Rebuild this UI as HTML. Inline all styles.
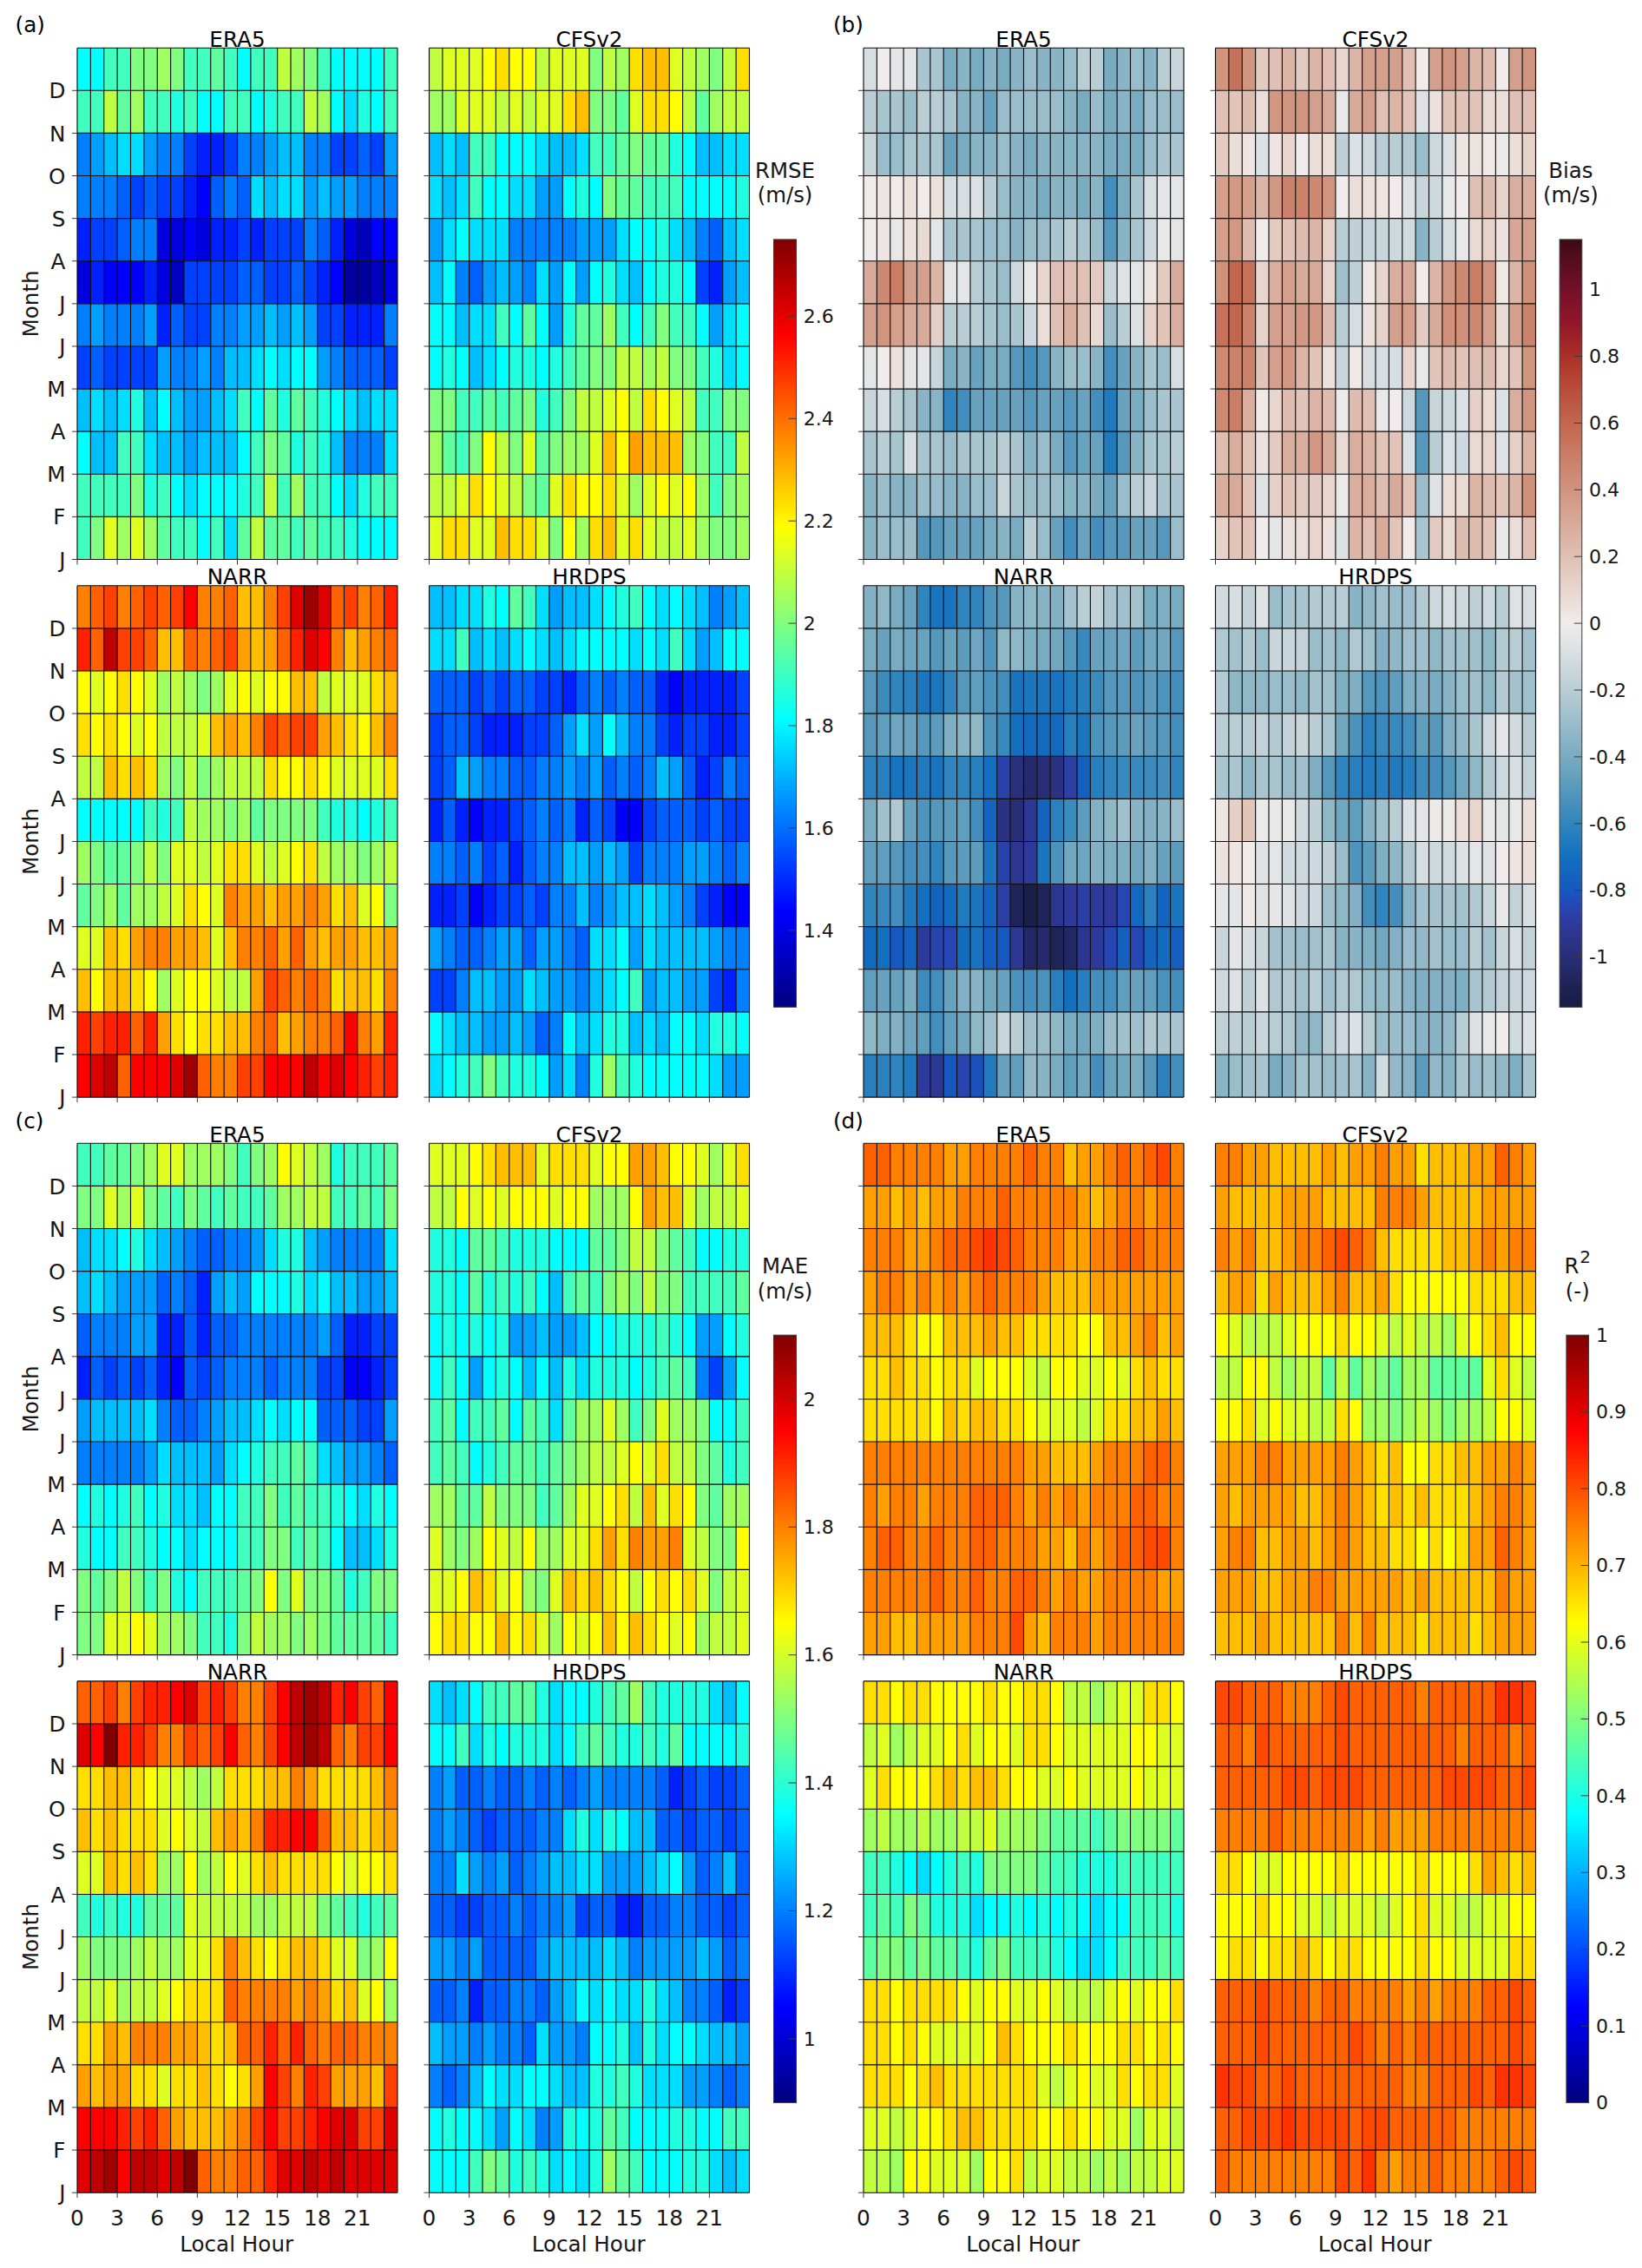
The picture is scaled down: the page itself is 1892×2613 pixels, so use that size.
<!DOCTYPE html>
<html lang="en"><head><meta charset="utf-8"><title>Reanalysis wind speed error heatmaps</title>
<style>html,body{margin:0;padding:0;background:#fff}svg{display:block}text{font-family:"DejaVu Sans","Liberation Sans",sans-serif;fill:#161616}.t{font-size:24.7px;fill:#000;text-anchor:middle}.p{font-size:24.6px;fill:#000}.m{font-size:24.6px;text-anchor:end}.x{font-size:24.8px;text-anchor:middle}.l{font-size:24.6px;text-anchor:middle}.c{font-size:22px}.cl{font-size:24.4px;text-anchor:middle}.g{stroke:#0a0a0a;stroke-width:1.12;fill:none}.k{stroke:#3a3a3a;stroke-width:1;fill:none}</style></head><body>
<svg width="1892" height="2613" viewBox="0 0 1892 2613">
<rect width="1892" height="2613" fill="#fff"/>
<defs><linearGradient id="gj" x1="0" y1="1" x2="0" y2="0"><stop offset="0" stop-color="#000080"/><stop offset="0.0312" stop-color="#00009f"/><stop offset="0.0625" stop-color="#0000bf"/><stop offset="0.0938" stop-color="#0000df"/><stop offset="0.125" stop-color="#00f"/><stop offset="0.1562" stop-color="#0020ff"/><stop offset="0.1875" stop-color="#0040ff"/><stop offset="0.2188" stop-color="#0060ff"/><stop offset="0.25" stop-color="#0080ff"/><stop offset="0.2812" stop-color="#009fff"/><stop offset="0.3125" stop-color="#00bfff"/><stop offset="0.3438" stop-color="#00dfff"/><stop offset="0.375" stop-color="#0ff"/><stop offset="0.4062" stop-color="#20ffdf"/><stop offset="0.4375" stop-color="#40ffbf"/><stop offset="0.4688" stop-color="#60ff9f"/><stop offset="0.5" stop-color="#80ff80"/><stop offset="0.5312" stop-color="#9fff60"/><stop offset="0.5625" stop-color="#bfff40"/><stop offset="0.5938" stop-color="#dfff20"/><stop offset="0.625" stop-color="#ff0"/><stop offset="0.6562" stop-color="#ffdf00"/><stop offset="0.6875" stop-color="#ffbf00"/><stop offset="0.7188" stop-color="#ff9f00"/><stop offset="0.75" stop-color="#ff8000"/><stop offset="0.7812" stop-color="#ff6000"/><stop offset="0.8125" stop-color="#ff4000"/><stop offset="0.8438" stop-color="#ff2000"/><stop offset="0.875" stop-color="#f00"/><stop offset="0.9062" stop-color="#df0000"/><stop offset="0.9375" stop-color="#bf0000"/><stop offset="0.9688" stop-color="#9f0000"/><stop offset="1" stop-color="#800000"/></linearGradient><linearGradient id="gb" x1="0" y1="1" x2="0" y2="0"><stop offset="0" stop-color="#181c43"/><stop offset="0.0217" stop-color="#1c2150"/><stop offset="0.0435" stop-color="#222863"/><stop offset="0.0652" stop-color="#282e76"/><stop offset="0.087" stop-color="#2b3489"/><stop offset="0.1087" stop-color="#2e3a9b"/><stop offset="0.1304" stop-color="#2646b4"/><stop offset="0.1522" stop-color="#1658c0"/><stop offset="0.1739" stop-color="#1464bf"/><stop offset="0.1957" stop-color="#1270be"/><stop offset="0.2174" stop-color="#217bbe"/><stop offset="0.2391" stop-color="#3085be"/><stop offset="0.2609" stop-color="#438ebd"/><stop offset="0.2826" stop-color="#5698bc"/><stop offset="0.3043" stop-color="#68a2be"/><stop offset="0.3261" stop-color="#79abc1"/><stop offset="0.3478" stop-color="#89b4c6"/><stop offset="0.3696" stop-color="#99bdca"/><stop offset="0.3913" stop-color="#a9c5cf"/><stop offset="0.413" stop-color="#b9cdd4"/><stop offset="0.4348" stop-color="#c8d6db"/><stop offset="0.4565" stop-color="#d6dee2"/><stop offset="0.4783" stop-color="#e4e5e6"/><stop offset="0.5" stop-color="#f1eceb"/><stop offset="0.5217" stop-color="#ece1dc"/><stop offset="0.5435" stop-color="#e8d6ce"/><stop offset="0.5652" stop-color="#e4cbc1"/><stop offset="0.587" stop-color="#e0c0b4"/><stop offset="0.6087" stop-color="#dcb5a6"/><stop offset="0.6304" stop-color="#d8aa99"/><stop offset="0.6522" stop-color="#d49f8c"/><stop offset="0.6739" stop-color="#d1947f"/><stop offset="0.6957" stop-color="#ce8973"/><stop offset="0.7174" stop-color="#ca7e66"/><stop offset="0.7391" stop-color="#c6735a"/><stop offset="0.7609" stop-color="#c2674e"/><stop offset="0.7826" stop-color="#bd5a43"/><stop offset="0.8043" stop-color="#b94e39"/><stop offset="0.8261" stop-color="#b23f30"/><stop offset="0.8478" stop-color="#aa3028"/><stop offset="0.8696" stop-color="#9e2329"/><stop offset="0.8913" stop-color="#92162a"/><stop offset="0.913" stop-color="#83132a"/><stop offset="0.9348" stop-color="#740f2a"/><stop offset="0.9565" stop-color="#620e24"/><stop offset="0.9783" stop-color="#500d1e"/><stop offset="1" stop-color="#3c0912"/></linearGradient></defs>
<g transform="translate(89 55.2)">
<path d="M0 0h30.75v49.11h-30.75z" fill="#0ff"/><path d="M30.75 0h30.75v49.11h-30.75z" fill="#40ffbf"/><path d="M61.5 0h30.75v49.11h-30.75z" fill="#80ff80"/><path d="M92.25 0h15.38v49.11h-15.38z" fill="#9fff60"/><path d="M107.62 0h15.38v49.11h-15.38z" fill="#80ff80"/><path d="M123 0h30.75v49.11h-30.75z" fill="#40ffbf"/><path d="M153.75 0h15.38v49.11h-15.38z" fill="#60ff9f"/><path d="M169.12 0h15.38v49.11h-15.38z" fill="#40ffbf"/><path d="M184.5 0h15.38v49.11h-15.38z" fill="#0ff"/><path d="M199.88 0h30.75v49.11h-30.75z" fill="#40ffbf"/><path d="M230.62 0h15.38v49.11h-15.38z" fill="#bfff40"/><path d="M246 0h15.38v49.11h-15.38z" fill="#9fff60"/><path d="M261.38 0h15.38v49.11h-15.38z" fill="#80ff80"/><path d="M276.75 0h15.38v49.11h-15.38z" fill="#40ffbf"/><path d="M292.12 0h61.5v49.11h-61.5z" fill="#0ff"/><path d="M353.62 0h15.38v49.11h-15.38z" fill="#40ffbf"/><path d="M0 49.11h30.75v49.11h-30.75z" fill="#40ffbf"/><path d="M30.75 49.11h15.38v49.11h-15.38z" fill="#bfff40"/><path d="M46.12 49.11h15.38v49.11h-15.38z" fill="#60ff9f"/><path d="M61.5 49.11h15.38v49.11h-15.38z" fill="#9fff60"/><path d="M76.88 49.11h30.75v49.11h-30.75z" fill="#40ffbf"/><path d="M107.62 49.11h15.38v49.11h-15.38z" fill="#20ffdf"/><path d="M123 49.11h15.38v49.11h-15.38z" fill="#40ffbf"/><path d="M138.38 49.11h30.75v49.11h-30.75z" fill="#0ff"/><path d="M169.12 49.11h30.75v49.11h-30.75z" fill="#40ffbf"/><path d="M199.88 49.11h15.38v49.11h-15.38z" fill="#0ff"/><path d="M215.25 49.11h15.38v49.11h-15.38z" fill="#20ffdf"/><path d="M230.62 49.11h30.75v49.11h-30.75z" fill="#40ffbf"/><path d="M261.38 49.11h15.38v49.11h-15.38z" fill="#bfff40"/><path d="M276.75 49.11h15.38v49.11h-15.38z" fill="#9fff60"/><path d="M292.12 49.11h15.38v49.11h-15.38z" fill="#0ff"/><path d="M307.5 49.11h15.38v49.11h-15.38z" fill="#00dfff"/><path d="M322.88 49.11h15.38v49.11h-15.38z" fill="#20ffdf"/><path d="M338.25 49.11h15.38v49.11h-15.38z" fill="#0ff"/><path d="M353.62 49.11h15.38v49.11h-15.38z" fill="#40ffbf"/><path d="M0 98.22h15.38v49.11h-15.38z" fill="#0080ff"/><path d="M15.38 98.22h15.38v49.11h-15.38z" fill="#009fff"/><path d="M30.75 98.22h15.38v49.11h-15.38z" fill="#00bfff"/><path d="M46.12 98.22h30.75v49.11h-30.75z" fill="#00dfff"/><path d="M76.88 98.22h15.38v49.11h-15.38z" fill="#009fff"/><path d="M92.25 98.22h30.75v49.11h-30.75z" fill="#0080ff"/><path d="M123 98.22h15.38v49.11h-15.38z" fill="#0040ff"/><path d="M138.38 98.22h30.75v49.11h-30.75z" fill="#0020ff"/><path d="M169.12 98.22h15.38v49.11h-15.38z" fill="#0040ff"/><path d="M184.5 98.22h30.75v49.11h-30.75z" fill="#0080ff"/><path d="M215.25 98.22h15.38v49.11h-15.38z" fill="#009fff"/><path d="M230.62 98.22h30.75v49.11h-30.75z" fill="#00bfff"/><path d="M261.38 98.22h30.75v49.11h-30.75z" fill="#0080ff"/><path d="M292.12 98.22h30.75v49.11h-30.75z" fill="#0040ff"/><path d="M322.88 98.22h15.38v49.11h-15.38z" fill="#0060ff"/><path d="M338.25 98.22h15.38v49.11h-15.38z" fill="#0040ff"/><path d="M353.62 98.22h15.38v49.11h-15.38z" fill="#009fff"/><path d="M0 147.32h46.12v49.11h-46.12z" fill="#0080ff"/><path d="M46.12 147.32h15.38v49.11h-15.38z" fill="#0060ff"/><path d="M61.5 147.32h15.38v49.11h-15.38z" fill="#0040ff"/><path d="M76.88 147.32h15.38v49.11h-15.38z" fill="#0060ff"/><path d="M92.25 147.32h30.75v49.11h-30.75z" fill="#0040ff"/><path d="M123 147.32h15.38v49.11h-15.38z" fill="#0020ff"/><path d="M138.38 147.32h15.38v49.11h-15.38z" fill="#00f"/><path d="M153.75 147.32h15.38v49.11h-15.38z" fill="#0060ff"/><path d="M169.12 147.32h15.38v49.11h-15.38z" fill="#0080ff"/><path d="M184.5 147.32h15.38v49.11h-15.38z" fill="#0060ff"/><path d="M199.88 147.32h15.38v49.11h-15.38z" fill="#00dfff"/><path d="M215.25 147.32h15.38v49.11h-15.38z" fill="#00bfff"/><path d="M230.62 147.32h30.75v49.11h-30.75z" fill="#00dfff"/><path d="M261.38 147.32h15.38v49.11h-15.38z" fill="#009fff"/><path d="M276.75 147.32h15.38v49.11h-15.38z" fill="#00bfff"/><path d="M292.12 147.32h30.75v49.11h-30.75z" fill="#009fff"/><path d="M322.88 147.32h46.12v49.11h-46.12z" fill="#0080ff"/><path d="M0 196.43h15.38v49.11h-15.38z" fill="#0020ff"/><path d="M15.38 196.43h30.75v49.11h-30.75z" fill="#0040ff"/><path d="M46.12 196.43h15.38v49.11h-15.38z" fill="#0060ff"/><path d="M61.5 196.43h30.75v49.11h-30.75z" fill="#0080ff"/><path d="M92.25 196.43h30.75v49.11h-30.75z" fill="#0000df"/><path d="M123 196.43h15.38v49.11h-15.38z" fill="#00f"/><path d="M138.38 196.43h15.38v49.11h-15.38z" fill="#0000df"/><path d="M153.75 196.43h30.75v49.11h-30.75z" fill="#0020ff"/><path d="M184.5 196.43h15.38v49.11h-15.38z" fill="#0040ff"/><path d="M199.88 196.43h15.38v49.11h-15.38z" fill="#0020ff"/><path d="M215.25 196.43h46.12v49.11h-46.12z" fill="#0040ff"/><path d="M261.38 196.43h15.38v49.11h-15.38z" fill="#0080ff"/><path d="M276.75 196.43h15.38v49.11h-15.38z" fill="#0060ff"/><path d="M292.12 196.43h15.38v49.11h-15.38z" fill="#0020ff"/><path d="M307.5 196.43h15.38v49.11h-15.38z" fill="#0000df"/><path d="M322.88 196.43h15.38v49.11h-15.38z" fill="#0000bf"/><path d="M338.25 196.43h30.75v49.11h-30.75z" fill="#00f"/><path d="M0 245.54h15.38v49.11h-15.38z" fill="#0000df"/><path d="M15.38 245.54h15.38v49.11h-15.38z" fill="#0020ff"/><path d="M30.75 245.54h46.12v49.11h-46.12z" fill="#00f"/><path d="M76.88 245.54h15.38v49.11h-15.38z" fill="#0020ff"/><path d="M92.25 245.54h15.38v49.11h-15.38z" fill="#0000df"/><path d="M107.62 245.54h15.38v49.11h-15.38z" fill="#0000bf"/><path d="M123 245.54h61.5v49.11h-61.5z" fill="#0040ff"/><path d="M184.5 245.54h30.75v49.11h-30.75z" fill="#0060ff"/><path d="M215.25 245.54h30.75v49.11h-30.75z" fill="#0040ff"/><path d="M246 245.54h15.38v49.11h-15.38z" fill="#0060ff"/><path d="M261.38 245.54h15.38v49.11h-15.38z" fill="#0040ff"/><path d="M276.75 245.54h15.38v49.11h-15.38z" fill="#0020ff"/><path d="M292.12 245.54h15.38v49.11h-15.38z" fill="#00f"/><path d="M307.5 245.54h30.75v49.11h-30.75z" fill="#00009f"/><path d="M338.25 245.54h15.38v49.11h-15.38z" fill="#0000bf"/><path d="M353.62 245.54h15.38v49.11h-15.38z" fill="#0000df"/><path d="M0 294.65h15.38v49.11h-15.38z" fill="#0080ff"/><path d="M15.38 294.65h15.38v49.11h-15.38z" fill="#009fff"/><path d="M30.75 294.65h46.12v49.11h-46.12z" fill="#0080ff"/><path d="M76.88 294.65h15.38v49.11h-15.38z" fill="#009fff"/><path d="M92.25 294.65h15.38v49.11h-15.38z" fill="#0020ff"/><path d="M107.62 294.65h15.38v49.11h-15.38z" fill="#0060ff"/><path d="M123 294.65h30.75v49.11h-30.75z" fill="#0040ff"/><path d="M153.75 294.65h30.75v49.11h-30.75z" fill="#0080ff"/><path d="M184.5 294.65h30.75v49.11h-30.75z" fill="#009fff"/><path d="M215.25 294.65h15.38v49.11h-15.38z" fill="#00bfff"/><path d="M230.62 294.65h15.38v49.11h-15.38z" fill="#009fff"/><path d="M246 294.65h15.38v49.11h-15.38z" fill="#00bfff"/><path d="M261.38 294.65h15.38v49.11h-15.38z" fill="#009fff"/><path d="M276.75 294.65h30.75v49.11h-30.75z" fill="#0040ff"/><path d="M307.5 294.65h46.12v49.11h-46.12z" fill="#0020ff"/><path d="M353.62 294.65h15.38v49.11h-15.38z" fill="#0080ff"/><path d="M0 343.76h15.38v49.11h-15.38z" fill="#0040ff"/><path d="M15.38 343.76h15.38v49.11h-15.38z" fill="#0060ff"/><path d="M30.75 343.76h61.5v49.11h-61.5z" fill="#0040ff"/><path d="M92.25 343.76h15.38v49.11h-15.38z" fill="#009fff"/><path d="M107.62 343.76h30.75v49.11h-30.75z" fill="#0080ff"/><path d="M138.38 343.76h15.38v49.11h-15.38z" fill="#009fff"/><path d="M153.75 343.76h15.38v49.11h-15.38z" fill="#0080ff"/><path d="M169.12 343.76h30.75v49.11h-30.75z" fill="#00bfff"/><path d="M199.88 343.76h15.38v49.11h-15.38z" fill="#00dfff"/><path d="M215.25 343.76h15.38v49.11h-15.38z" fill="#0ff"/><path d="M230.62 343.76h15.38v49.11h-15.38z" fill="#00dfff"/><path d="M246 343.76h30.75v49.11h-30.75z" fill="#0ff"/><path d="M276.75 343.76h15.38v49.11h-15.38z" fill="#009fff"/><path d="M292.12 343.76h15.38v49.11h-15.38z" fill="#0080ff"/><path d="M307.5 343.76h46.12v49.11h-46.12z" fill="#0060ff"/><path d="M353.62 343.76h15.38v49.11h-15.38z" fill="#0040ff"/><path d="M0 392.87h15.38v49.11h-15.38z" fill="#00bfff"/><path d="M15.38 392.87h15.38v49.11h-15.38z" fill="#00dfff"/><path d="M30.75 392.87h15.38v49.11h-15.38z" fill="#00bfff"/><path d="M46.12 392.87h15.38v49.11h-15.38z" fill="#00dfff"/><path d="M61.5 392.87h15.38v49.11h-15.38z" fill="#20ffdf"/><path d="M76.88 392.87h15.38v49.11h-15.38z" fill="#00bfff"/><path d="M92.25 392.87h15.38v49.11h-15.38z" fill="#0ff"/><path d="M107.62 392.87h15.38v49.11h-15.38z" fill="#00bfff"/><path d="M123 392.87h30.75v49.11h-30.75z" fill="#009fff"/><path d="M153.75 392.87h15.38v49.11h-15.38z" fill="#00bfff"/><path d="M169.12 392.87h15.38v49.11h-15.38z" fill="#00dfff"/><path d="M184.5 392.87h15.38v49.11h-15.38z" fill="#40ffbf"/><path d="M199.88 392.87h15.38v49.11h-15.38z" fill="#0ff"/><path d="M215.25 392.87h15.38v49.11h-15.38z" fill="#60ff9f"/><path d="M230.62 392.87h15.38v49.11h-15.38z" fill="#20ffdf"/><path d="M246 392.87h15.38v49.11h-15.38z" fill="#60ff9f"/><path d="M261.38 392.87h15.38v49.11h-15.38z" fill="#40ffbf"/><path d="M276.75 392.87h15.38v49.11h-15.38z" fill="#20ffdf"/><path d="M292.12 392.87h15.38v49.11h-15.38z" fill="#0ff"/><path d="M307.5 392.87h15.38v49.11h-15.38z" fill="#00dfff"/><path d="M322.88 392.87h15.38v49.11h-15.38z" fill="#00bfff"/><path d="M338.25 392.87h30.75v49.11h-30.75z" fill="#00dfff"/><path d="M0 441.97h15.38v49.11h-15.38z" fill="#0ff"/><path d="M15.38 441.97h30.75v49.11h-30.75z" fill="#00bfff"/><path d="M46.12 441.97h30.75v49.11h-30.75z" fill="#40ffbf"/><path d="M76.88 441.97h15.38v49.11h-15.38z" fill="#00dfff"/><path d="M92.25 441.97h30.75v49.11h-30.75z" fill="#00bfff"/><path d="M123 441.97h15.38v49.11h-15.38z" fill="#009fff"/><path d="M138.38 441.97h46.12v49.11h-46.12z" fill="#00bfff"/><path d="M184.5 441.97h15.38v49.11h-15.38z" fill="#0ff"/><path d="M199.88 441.97h15.38v49.11h-15.38z" fill="#40ffbf"/><path d="M215.25 441.97h15.38v49.11h-15.38z" fill="#80ff80"/><path d="M230.62 441.97h15.38v49.11h-15.38z" fill="#60ff9f"/><path d="M246 441.97h15.38v49.11h-15.38z" fill="#20ffdf"/><path d="M261.38 441.97h15.38v49.11h-15.38z" fill="#40ffbf"/><path d="M276.75 441.97h15.38v49.11h-15.38z" fill="#20ffdf"/><path d="M292.12 441.97h15.38v49.11h-15.38z" fill="#00bfff"/><path d="M307.5 441.97h46.12v49.11h-46.12z" fill="#0080ff"/><path d="M353.62 441.97h15.38v49.11h-15.38z" fill="#00dfff"/><path d="M0 491.08h61.5v49.11h-61.5z" fill="#40ffbf"/><path d="M61.5 491.08h15.38v49.11h-15.38z" fill="#80ff80"/><path d="M76.88 491.08h15.38v49.11h-15.38z" fill="#20ffdf"/><path d="M92.25 491.08h15.38v49.11h-15.38z" fill="#40ffbf"/><path d="M107.62 491.08h15.38v49.11h-15.38z" fill="#0ff"/><path d="M123 491.08h15.38v49.11h-15.38z" fill="#00dfff"/><path d="M138.38 491.08h46.12v49.11h-46.12z" fill="#0ff"/><path d="M184.5 491.08h15.38v49.11h-15.38z" fill="#20ffdf"/><path d="M199.88 491.08h15.38v49.11h-15.38z" fill="#40ffbf"/><path d="M215.25 491.08h15.38v49.11h-15.38z" fill="#bfff40"/><path d="M230.62 491.08h15.38v49.11h-15.38z" fill="#40ffbf"/><path d="M246 491.08h15.38v49.11h-15.38z" fill="#9fff60"/><path d="M261.38 491.08h30.75v49.11h-30.75z" fill="#40ffbf"/><path d="M292.12 491.08h15.38v49.11h-15.38z" fill="#0ff"/><path d="M307.5 491.08h15.38v49.11h-15.38z" fill="#00dfff"/><path d="M322.88 491.08h15.38v49.11h-15.38z" fill="#20ffdf"/><path d="M338.25 491.08h30.75v49.11h-30.75z" fill="#40ffbf"/><path d="M0 540.19h15.38v49.11h-15.38z" fill="#40ffbf"/><path d="M15.38 540.19h15.38v49.11h-15.38z" fill="#80ff80"/><path d="M30.75 540.19h15.38v49.11h-15.38z" fill="#dfff20"/><path d="M46.12 540.19h15.38v49.11h-15.38z" fill="#9fff60"/><path d="M61.5 540.19h15.38v49.11h-15.38z" fill="#dfff20"/><path d="M76.88 540.19h15.38v49.11h-15.38z" fill="#9fff60"/><path d="M92.25 540.19h15.38v49.11h-15.38z" fill="#60ff9f"/><path d="M107.62 540.19h30.75v49.11h-30.75z" fill="#40ffbf"/><path d="M138.38 540.19h15.38v49.11h-15.38z" fill="#0ff"/><path d="M153.75 540.19h15.38v49.11h-15.38z" fill="#40ffbf"/><path d="M169.12 540.19h15.38v49.11h-15.38z" fill="#00dfff"/><path d="M184.5 540.19h15.38v49.11h-15.38z" fill="#60ff9f"/><path d="M199.88 540.19h15.38v49.11h-15.38z" fill="#bfff40"/><path d="M215.25 540.19h30.75v49.11h-30.75z" fill="#60ff9f"/><path d="M246 540.19h15.38v49.11h-15.38z" fill="#40ffbf"/><path d="M261.38 540.19h15.38v49.11h-15.38z" fill="#60ff9f"/><path d="M276.75 540.19h30.75v49.11h-30.75z" fill="#40ffbf"/><path d="M307.5 540.19h15.38v49.11h-15.38z" fill="#20ffdf"/><path d="M322.88 540.19h46.12v49.11h-46.12z" fill="#0ff"/>
<path class="g" d="M0 0v589.3M15.38 0v589.3M30.75 0v589.3M46.12 0v589.3M61.5 0v589.3M76.88 0v589.3M92.25 0v589.3M107.62 0v589.3M123 0v589.3M138.38 0v589.3M153.75 0v589.3M169.12 0v589.3M184.5 0v589.3M199.88 0v589.3M215.25 0v589.3M230.62 0v589.3M246 0v589.3M261.38 0v589.3M276.75 0v589.3M292.12 0v589.3M307.5 0v589.3M322.88 0v589.3M338.25 0v589.3M353.62 0v589.3M369 0v589.3M0 0h369M0 49.11h369M0 98.22h369M0 147.32h369M0 196.43h369M0 245.54h369M0 294.65h369M0 343.76h369M0 392.87h369M0 441.97h369M0 491.08h369M0 540.19h369M0 589.3h369"/>
<path class="k" d="M-6 49.11h6M-6 98.22h6M-6 147.32h6M-6 196.43h6M-6 245.54h6M-6 294.65h6M-6 343.76h6M-6 392.87h6M-6 441.97h6M-6 491.08h6M-6 540.19h6M-6 589.3h6M0 589.3v6M46.12 589.3v6M92.25 589.3v6M138.38 589.3v6M184.5 589.3v6M230.62 589.3v6M276.75 589.3v6M322.88 589.3v6"/>
</g>
<text class="t" x="273.5" y="53.6">ERA5</text>
<text class="m" x="75.4" y="113.41">D</text>
<text class="m" x="75.4" y="162.52">N</text>
<text class="m" x="75.4" y="211.62">O</text>
<text class="m" x="75.4" y="260.73">S</text>
<text class="m" x="75.4" y="309.84">A</text>
<text class="m" x="75.4" y="358.95">J</text>
<text class="m" x="75.4" y="408.06">J</text>
<text class="m" x="75.4" y="457.17">M</text>
<text class="m" x="75.4" y="506.27">A</text>
<text class="m" x="75.4" y="555.38">M</text>
<text class="m" x="75.4" y="604.49">F</text>
<text class="m" x="75.4" y="653.6">J</text>
<text class="l" transform="translate(44.4 349.85) rotate(-90)">Month</text>
<g transform="translate(494.5 55.2)">
<path d="M0 0h15.38v49.11h-15.38z" fill="#bfff40"/><path d="M15.38 0h46.12v49.11h-46.12z" fill="#dfff20"/><path d="M61.5 0h15.38v49.11h-15.38z" fill="#ff0"/><path d="M76.88 0h15.38v49.11h-15.38z" fill="#ffdf00"/><path d="M92.25 0h30.75v49.11h-30.75z" fill="#ff0"/><path d="M123 0h15.38v49.11h-15.38z" fill="#bfff40"/><path d="M138.38 0h46.12v49.11h-46.12z" fill="#dfff20"/><path d="M184.5 0h15.38v49.11h-15.38z" fill="#80ff80"/><path d="M199.88 0h15.38v49.11h-15.38z" fill="#bfff40"/><path d="M215.25 0h15.38v49.11h-15.38z" fill="#9fff60"/><path d="M230.62 0h15.38v49.11h-15.38z" fill="#ffdf00"/><path d="M246 0h30.75v49.11h-30.75z" fill="#ffbf00"/><path d="M276.75 0h15.38v49.11h-15.38z" fill="#dfff20"/><path d="M292.12 0h15.38v49.11h-15.38z" fill="#bfff40"/><path d="M307.5 0h15.38v49.11h-15.38z" fill="#9fff60"/><path d="M322.88 0h15.38v49.11h-15.38z" fill="#80ff80"/><path d="M338.25 0h15.38v49.11h-15.38z" fill="#bfff40"/><path d="M353.62 0h15.38v49.11h-15.38z" fill="#ffdf00"/><path d="M0 49.11h30.75v49.11h-30.75z" fill="#9fff60"/><path d="M30.75 49.11h46.12v49.11h-46.12z" fill="#dfff20"/><path d="M76.88 49.11h15.38v49.11h-15.38z" fill="#bfff40"/><path d="M92.25 49.11h15.38v49.11h-15.38z" fill="#dfff20"/><path d="M107.62 49.11h15.38v49.11h-15.38z" fill="#bfff40"/><path d="M123 49.11h30.75v49.11h-30.75z" fill="#dfff20"/><path d="M153.75 49.11h15.38v49.11h-15.38z" fill="#ffdf00"/><path d="M169.12 49.11h15.38v49.11h-15.38z" fill="#ffbf00"/><path d="M184.5 49.11h30.75v49.11h-30.75z" fill="#80ff80"/><path d="M215.25 49.11h15.38v49.11h-15.38z" fill="#60ff9f"/><path d="M230.62 49.11h15.38v49.11h-15.38z" fill="#dfff20"/><path d="M246 49.11h30.75v49.11h-30.75z" fill="#ffdf00"/><path d="M276.75 49.11h15.38v49.11h-15.38z" fill="#ff0"/><path d="M292.12 49.11h15.38v49.11h-15.38z" fill="#bfff40"/><path d="M307.5 49.11h15.38v49.11h-15.38z" fill="#60ff9f"/><path d="M322.88 49.11h15.38v49.11h-15.38z" fill="#9fff60"/><path d="M338.25 49.11h30.75v49.11h-30.75z" fill="#bfff40"/><path d="M0 98.22h15.38v49.11h-15.38z" fill="#00bfff"/><path d="M15.38 98.22h15.38v49.11h-15.38z" fill="#00dfff"/><path d="M30.75 98.22h15.38v49.11h-15.38z" fill="#00bfff"/><path d="M46.12 98.22h30.75v49.11h-30.75z" fill="#40ffbf"/><path d="M76.88 98.22h46.12v49.11h-46.12z" fill="#0ff"/><path d="M123 98.22h15.38v49.11h-15.38z" fill="#00dfff"/><path d="M138.38 98.22h30.75v49.11h-30.75z" fill="#00bfff"/><path d="M169.12 98.22h15.38v49.11h-15.38z" fill="#00dfff"/><path d="M184.5 98.22h30.75v49.11h-30.75z" fill="#40ffbf"/><path d="M215.25 98.22h15.38v49.11h-15.38z" fill="#60ff9f"/><path d="M230.62 98.22h15.38v49.11h-15.38z" fill="#80ff80"/><path d="M246 98.22h30.75v49.11h-30.75z" fill="#60ff9f"/><path d="M276.75 98.22h15.38v49.11h-15.38z" fill="#20ffdf"/><path d="M292.12 98.22h15.38v49.11h-15.38z" fill="#0ff"/><path d="M307.5 98.22h30.75v49.11h-30.75z" fill="#00bfff"/><path d="M338.25 98.22h30.75v49.11h-30.75z" fill="#00dfff"/><path d="M0 147.32h15.38v49.11h-15.38z" fill="#00dfff"/><path d="M15.38 147.32h15.38v49.11h-15.38z" fill="#00bfff"/><path d="M30.75 147.32h15.38v49.11h-15.38z" fill="#00dfff"/><path d="M46.12 147.32h15.38v49.11h-15.38z" fill="#40ffbf"/><path d="M61.5 147.32h30.75v49.11h-30.75z" fill="#0ff"/><path d="M92.25 147.32h30.75v49.11h-30.75z" fill="#00dfff"/><path d="M123 147.32h30.75v49.11h-30.75z" fill="#009fff"/><path d="M153.75 147.32h15.38v49.11h-15.38z" fill="#0ff"/><path d="M169.12 147.32h15.38v49.11h-15.38z" fill="#20ffdf"/><path d="M184.5 147.32h15.38v49.11h-15.38z" fill="#0ff"/><path d="M199.88 147.32h15.38v49.11h-15.38z" fill="#80ff80"/><path d="M215.25 147.32h30.75v49.11h-30.75z" fill="#60ff9f"/><path d="M246 147.32h46.12v49.11h-46.12z" fill="#40ffbf"/><path d="M292.12 147.32h61.5v49.11h-61.5z" fill="#0ff"/><path d="M353.62 147.32h15.38v49.11h-15.38z" fill="#20ffdf"/><path d="M0 196.43h15.38v49.11h-15.38z" fill="#009fff"/><path d="M15.38 196.43h15.38v49.11h-15.38z" fill="#00dfff"/><path d="M30.75 196.43h15.38v49.11h-15.38z" fill="#0ff"/><path d="M46.12 196.43h46.12v49.11h-46.12z" fill="#00dfff"/><path d="M92.25 196.43h76.88v49.11h-76.88z" fill="#0080ff"/><path d="M169.12 196.43h46.12v49.11h-46.12z" fill="#009fff"/><path d="M215.25 196.43h15.38v49.11h-15.38z" fill="#00dfff"/><path d="M230.62 196.43h30.75v49.11h-30.75z" fill="#0ff"/><path d="M261.38 196.43h15.38v49.11h-15.38z" fill="#20ffdf"/><path d="M276.75 196.43h15.38v49.11h-15.38z" fill="#00dfff"/><path d="M292.12 196.43h15.38v49.11h-15.38z" fill="#00bfff"/><path d="M307.5 196.43h15.38v49.11h-15.38z" fill="#0080ff"/><path d="M322.88 196.43h15.38v49.11h-15.38z" fill="#0060ff"/><path d="M338.25 196.43h15.38v49.11h-15.38z" fill="#00bfff"/><path d="M353.62 196.43h15.38v49.11h-15.38z" fill="#00dfff"/><path d="M0 245.54h15.38v49.11h-15.38z" fill="#00bfff"/><path d="M15.38 245.54h15.38v49.11h-15.38z" fill="#0ff"/><path d="M30.75 245.54h15.38v49.11h-15.38z" fill="#0080ff"/><path d="M46.12 245.54h15.38v49.11h-15.38z" fill="#0060ff"/><path d="M61.5 245.54h15.38v49.11h-15.38z" fill="#009fff"/><path d="M76.88 245.54h15.38v49.11h-15.38z" fill="#00bfff"/><path d="M92.25 245.54h15.38v49.11h-15.38z" fill="#009fff"/><path d="M107.62 245.54h15.38v49.11h-15.38z" fill="#0080ff"/><path d="M123 245.54h15.38v49.11h-15.38z" fill="#00dfff"/><path d="M138.38 245.54h15.38v49.11h-15.38z" fill="#009fff"/><path d="M153.75 245.54h15.38v49.11h-15.38z" fill="#0ff"/><path d="M169.12 245.54h15.38v49.11h-15.38z" fill="#009fff"/><path d="M184.5 245.54h15.38v49.11h-15.38z" fill="#0ff"/><path d="M199.88 245.54h15.38v49.11h-15.38z" fill="#20ffdf"/><path d="M215.25 245.54h15.38v49.11h-15.38z" fill="#00dfff"/><path d="M230.62 245.54h15.38v49.11h-15.38z" fill="#00bfff"/><path d="M246 245.54h15.38v49.11h-15.38z" fill="#0ff"/><path d="M261.38 245.54h30.75v49.11h-30.75z" fill="#20ffdf"/><path d="M292.12 245.54h15.38v49.11h-15.38z" fill="#0ff"/><path d="M307.5 245.54h15.38v49.11h-15.38z" fill="#0040ff"/><path d="M322.88 245.54h15.38v49.11h-15.38z" fill="#0020ff"/><path d="M338.25 245.54h15.38v49.11h-15.38z" fill="#009fff"/><path d="M353.62 245.54h15.38v49.11h-15.38z" fill="#00bfff"/><path d="M0 294.65h30.75v49.11h-30.75z" fill="#0ff"/><path d="M30.75 294.65h15.38v49.11h-15.38z" fill="#00bfff"/><path d="M46.12 294.65h30.75v49.11h-30.75z" fill="#00dfff"/><path d="M76.88 294.65h15.38v49.11h-15.38z" fill="#40ffbf"/><path d="M92.25 294.65h15.38v49.11h-15.38z" fill="#0ff"/><path d="M107.62 294.65h15.38v49.11h-15.38z" fill="#60ff9f"/><path d="M123 294.65h15.38v49.11h-15.38z" fill="#0ff"/><path d="M138.38 294.65h15.38v49.11h-15.38z" fill="#009fff"/><path d="M153.75 294.65h15.38v49.11h-15.38z" fill="#20ffdf"/><path d="M169.12 294.65h30.75v49.11h-30.75z" fill="#60ff9f"/><path d="M199.88 294.65h15.38v49.11h-15.38z" fill="#9fff60"/><path d="M215.25 294.65h15.38v49.11h-15.38z" fill="#40ffbf"/><path d="M230.62 294.65h15.38v49.11h-15.38z" fill="#0ff"/><path d="M246 294.65h15.38v49.11h-15.38z" fill="#40ffbf"/><path d="M261.38 294.65h15.38v49.11h-15.38z" fill="#80ff80"/><path d="M276.75 294.65h30.75v49.11h-30.75z" fill="#40ffbf"/><path d="M307.5 294.65h15.38v49.11h-15.38z" fill="#0ff"/><path d="M322.88 294.65h15.38v49.11h-15.38z" fill="#009fff"/><path d="M338.25 294.65h15.38v49.11h-15.38z" fill="#00dfff"/><path d="M353.62 294.65h15.38v49.11h-15.38z" fill="#0ff"/><path d="M0 343.76h15.38v49.11h-15.38z" fill="#0ff"/><path d="M15.38 343.76h15.38v49.11h-15.38z" fill="#20ffdf"/><path d="M30.75 343.76h15.38v49.11h-15.38z" fill="#0ff"/><path d="M46.12 343.76h15.38v49.11h-15.38z" fill="#00bfff"/><path d="M61.5 343.76h15.38v49.11h-15.38z" fill="#00dfff"/><path d="M76.88 343.76h15.38v49.11h-15.38z" fill="#0ff"/><path d="M92.25 343.76h30.75v49.11h-30.75z" fill="#20ffdf"/><path d="M123 343.76h15.38v49.11h-15.38z" fill="#0ff"/><path d="M138.38 343.76h15.38v49.11h-15.38z" fill="#20ffdf"/><path d="M153.75 343.76h15.38v49.11h-15.38z" fill="#40ffbf"/><path d="M169.12 343.76h15.38v49.11h-15.38z" fill="#60ff9f"/><path d="M184.5 343.76h30.75v49.11h-30.75z" fill="#80ff80"/><path d="M215.25 343.76h30.75v49.11h-30.75z" fill="#bfff40"/><path d="M246 343.76h15.38v49.11h-15.38z" fill="#9fff60"/><path d="M261.38 343.76h15.38v49.11h-15.38z" fill="#bfff40"/><path d="M276.75 343.76h30.75v49.11h-30.75z" fill="#80ff80"/><path d="M307.5 343.76h15.38v49.11h-15.38z" fill="#40ffbf"/><path d="M322.88 343.76h15.38v49.11h-15.38z" fill="#20ffdf"/><path d="M338.25 343.76h15.38v49.11h-15.38z" fill="#00dfff"/><path d="M353.62 343.76h15.38v49.11h-15.38z" fill="#0ff"/><path d="M0 392.87h30.75v49.11h-30.75z" fill="#80ff80"/><path d="M30.75 392.87h30.75v49.11h-30.75z" fill="#40ffbf"/><path d="M61.5 392.87h15.38v49.11h-15.38z" fill="#60ff9f"/><path d="M76.88 392.87h15.38v49.11h-15.38z" fill="#40ffbf"/><path d="M92.25 392.87h15.38v49.11h-15.38z" fill="#60ff9f"/><path d="M107.62 392.87h15.38v49.11h-15.38z" fill="#80ff80"/><path d="M123 392.87h15.38v49.11h-15.38z" fill="#20ffdf"/><path d="M138.38 392.87h15.38v49.11h-15.38z" fill="#40ffbf"/><path d="M153.75 392.87h15.38v49.11h-15.38z" fill="#80ff80"/><path d="M169.12 392.87h30.75v49.11h-30.75z" fill="#bfff40"/><path d="M199.88 392.87h15.38v49.11h-15.38z" fill="#dfff20"/><path d="M215.25 392.87h15.38v49.11h-15.38z" fill="#ff0"/><path d="M230.62 392.87h15.38v49.11h-15.38z" fill="#bfff40"/><path d="M246 392.87h15.38v49.11h-15.38z" fill="#ffdf00"/><path d="M261.38 392.87h15.38v49.11h-15.38z" fill="#ff0"/><path d="M276.75 392.87h15.38v49.11h-15.38z" fill="#dfff20"/><path d="M292.12 392.87h15.38v49.11h-15.38z" fill="#bfff40"/><path d="M307.5 392.87h30.75v49.11h-30.75z" fill="#40ffbf"/><path d="M338.25 392.87h30.75v49.11h-30.75z" fill="#80ff80"/><path d="M0 441.97h15.38v49.11h-15.38z" fill="#9fff60"/><path d="M15.38 441.97h15.38v49.11h-15.38z" fill="#60ff9f"/><path d="M30.75 441.97h15.38v49.11h-15.38z" fill="#40ffbf"/><path d="M46.12 441.97h15.38v49.11h-15.38z" fill="#80ff80"/><path d="M61.5 441.97h15.38v49.11h-15.38z" fill="#ff0"/><path d="M76.88 441.97h15.38v49.11h-15.38z" fill="#bfff40"/><path d="M92.25 441.97h15.38v49.11h-15.38z" fill="#80ff80"/><path d="M107.62 441.97h15.38v49.11h-15.38z" fill="#dfff20"/><path d="M123 441.97h15.38v49.11h-15.38z" fill="#60ff9f"/><path d="M138.38 441.97h15.38v49.11h-15.38z" fill="#80ff80"/><path d="M153.75 441.97h30.75v49.11h-30.75z" fill="#9fff60"/><path d="M184.5 441.97h15.38v49.11h-15.38z" fill="#dfff20"/><path d="M199.88 441.97h15.38v49.11h-15.38z" fill="#ffbf00"/><path d="M215.25 441.97h15.38v49.11h-15.38z" fill="#ff0"/><path d="M230.62 441.97h15.38v49.11h-15.38z" fill="#ff9f00"/><path d="M246 441.97h46.12v49.11h-46.12z" fill="#ffbf00"/><path d="M292.12 441.97h15.38v49.11h-15.38z" fill="#9fff60"/><path d="M307.5 441.97h15.38v49.11h-15.38z" fill="#80ff80"/><path d="M322.88 441.97h30.75v49.11h-30.75z" fill="#40ffbf"/><path d="M353.62 441.97h15.38v49.11h-15.38z" fill="#bfff40"/><path d="M0 491.08h30.75v49.11h-30.75z" fill="#bfff40"/><path d="M30.75 491.08h15.38v49.11h-15.38z" fill="#dfff20"/><path d="M46.12 491.08h15.38v49.11h-15.38z" fill="#ffdf00"/><path d="M61.5 491.08h15.38v49.11h-15.38z" fill="#ff0"/><path d="M76.88 491.08h15.38v49.11h-15.38z" fill="#dfff20"/><path d="M92.25 491.08h15.38v49.11h-15.38z" fill="#bfff40"/><path d="M107.62 491.08h15.38v49.11h-15.38z" fill="#80ff80"/><path d="M123 491.08h15.38v49.11h-15.38z" fill="#60ff9f"/><path d="M138.38 491.08h15.38v49.11h-15.38z" fill="#dfff20"/><path d="M153.75 491.08h15.38v49.11h-15.38z" fill="#ffdf00"/><path d="M169.12 491.08h30.75v49.11h-30.75z" fill="#ff0"/><path d="M199.88 491.08h15.38v49.11h-15.38z" fill="#ffdf00"/><path d="M215.25 491.08h15.38v49.11h-15.38z" fill="#dfff20"/><path d="M230.62 491.08h15.38v49.11h-15.38z" fill="#9fff60"/><path d="M246 491.08h15.38v49.11h-15.38z" fill="#dfff20"/><path d="M261.38 491.08h15.38v49.11h-15.38z" fill="#ff0"/><path d="M276.75 491.08h15.38v49.11h-15.38z" fill="#dfff20"/><path d="M292.12 491.08h15.38v49.11h-15.38z" fill="#ff0"/><path d="M307.5 491.08h15.38v49.11h-15.38z" fill="#9fff60"/><path d="M322.88 491.08h15.38v49.11h-15.38z" fill="#40ffbf"/><path d="M338.25 491.08h15.38v49.11h-15.38z" fill="#80ff80"/><path d="M353.62 491.08h15.38v49.11h-15.38z" fill="#9fff60"/><path d="M0 540.19h15.38v49.11h-15.38z" fill="#dfff20"/><path d="M15.38 540.19h30.75v49.11h-30.75z" fill="#ffdf00"/><path d="M46.12 540.19h30.75v49.11h-30.75z" fill="#dfff20"/><path d="M76.88 540.19h15.38v49.11h-15.38z" fill="#ffbf00"/><path d="M92.25 540.19h30.75v49.11h-30.75z" fill="#ffdf00"/><path d="M123 540.19h15.38v49.11h-15.38z" fill="#dfff20"/><path d="M138.38 540.19h15.38v49.11h-15.38z" fill="#80ff80"/><path d="M153.75 540.19h15.38v49.11h-15.38z" fill="#ff0"/><path d="M169.12 540.19h15.38v49.11h-15.38z" fill="#9fff60"/><path d="M184.5 540.19h15.38v49.11h-15.38z" fill="#ffdf00"/><path d="M199.88 540.19h15.38v49.11h-15.38z" fill="#ffbf00"/><path d="M215.25 540.19h15.38v49.11h-15.38z" fill="#dfff20"/><path d="M230.62 540.19h15.38v49.11h-15.38z" fill="#ffdf00"/><path d="M246 540.19h15.38v49.11h-15.38z" fill="#dfff20"/><path d="M261.38 540.19h30.75v49.11h-30.75z" fill="#bfff40"/><path d="M292.12 540.19h15.38v49.11h-15.38z" fill="#dfff20"/><path d="M307.5 540.19h15.38v49.11h-15.38z" fill="#9fff60"/><path d="M322.88 540.19h30.75v49.11h-30.75z" fill="#80ff80"/><path d="M353.62 540.19h15.38v49.11h-15.38z" fill="#9fff60"/>
<path class="g" d="M0 0v589.3M15.38 0v589.3M30.75 0v589.3M46.12 0v589.3M61.5 0v589.3M76.88 0v589.3M92.25 0v589.3M107.62 0v589.3M123 0v589.3M138.38 0v589.3M153.75 0v589.3M169.12 0v589.3M184.5 0v589.3M199.88 0v589.3M215.25 0v589.3M230.62 0v589.3M246 0v589.3M261.38 0v589.3M276.75 0v589.3M292.12 0v589.3M307.5 0v589.3M322.88 0v589.3M338.25 0v589.3M353.62 0v589.3M369 0v589.3M0 0h369M0 49.11h369M0 98.22h369M0 147.32h369M0 196.43h369M0 245.54h369M0 294.65h369M0 343.76h369M0 392.87h369M0 441.97h369M0 491.08h369M0 540.19h369M0 589.3h369"/>
<path class="k" d="M-6 49.11h6M-6 98.22h6M-6 147.32h6M-6 196.43h6M-6 245.54h6M-6 294.65h6M-6 343.76h6M-6 392.87h6M-6 441.97h6M-6 491.08h6M-6 540.19h6M-6 589.3h6M0 589.3v6M46.12 589.3v6M92.25 589.3v6M138.38 589.3v6M184.5 589.3v6M230.62 589.3v6M276.75 589.3v6M322.88 589.3v6"/>
</g>
<text class="t" x="679" y="53.6">CFSv2</text>
<g transform="translate(89 674.8)">
<path d="M0 0h15.38v49.11h-15.38z" fill="#ff8000"/><path d="M15.38 0h15.38v49.11h-15.38z" fill="#ff6000"/><path d="M30.75 0h15.38v49.11h-15.38z" fill="#ff4000"/><path d="M46.12 0h15.38v49.11h-15.38z" fill="#ff8000"/><path d="M61.5 0h15.38v49.11h-15.38z" fill="#ff6000"/><path d="M76.88 0h15.38v49.11h-15.38z" fill="#ff4000"/><path d="M92.25 0h15.38v49.11h-15.38z" fill="#ff6000"/><path d="M107.62 0h15.38v49.11h-15.38z" fill="#ff4000"/><path d="M123 0h15.38v49.11h-15.38z" fill="#f00"/><path d="M138.38 0h30.75v49.11h-30.75z" fill="#ff8000"/><path d="M169.12 0h15.38v49.11h-15.38z" fill="#ff6000"/><path d="M184.5 0h30.75v49.11h-30.75z" fill="#ffbf00"/><path d="M215.25 0h15.38v49.11h-15.38z" fill="#ff8000"/><path d="M230.62 0h15.38v49.11h-15.38z" fill="#ff4000"/><path d="M246 0h15.38v49.11h-15.38z" fill="#df0000"/><path d="M261.38 0h15.38v49.11h-15.38z" fill="#9f0000"/><path d="M276.75 0h15.38v49.11h-15.38z" fill="#df0000"/><path d="M292.12 0h15.38v49.11h-15.38z" fill="#ff6000"/><path d="M307.5 0h15.38v49.11h-15.38z" fill="#ff4000"/><path d="M322.88 0h15.38v49.11h-15.38z" fill="#ff8000"/><path d="M338.25 0h15.38v49.11h-15.38z" fill="#ff6000"/><path d="M353.62 0h15.38v49.11h-15.38z" fill="#ff2000"/><path d="M0 49.11h15.38v49.11h-15.38z" fill="#ff2000"/><path d="M15.38 49.11h15.38v49.11h-15.38z" fill="#ff6000"/><path d="M30.75 49.11h15.38v49.11h-15.38z" fill="#bf0000"/><path d="M46.12 49.11h30.75v49.11h-30.75z" fill="#ff4000"/><path d="M76.88 49.11h15.38v49.11h-15.38z" fill="#ff6000"/><path d="M92.25 49.11h30.75v49.11h-30.75z" fill="#ffbf00"/><path d="M123 49.11h15.38v49.11h-15.38z" fill="#ff6000"/><path d="M138.38 49.11h15.38v49.11h-15.38z" fill="#ff8000"/><path d="M153.75 49.11h15.38v49.11h-15.38z" fill="#ff6000"/><path d="M169.12 49.11h15.38v49.11h-15.38z" fill="#ff4000"/><path d="M184.5 49.11h15.38v49.11h-15.38z" fill="#ff9f00"/><path d="M199.88 49.11h15.38v49.11h-15.38z" fill="#ffbf00"/><path d="M215.25 49.11h15.38v49.11h-15.38z" fill="#ff9f00"/><path d="M230.62 49.11h15.38v49.11h-15.38z" fill="#ff6000"/><path d="M246 49.11h15.38v49.11h-15.38z" fill="#ff2000"/><path d="M261.38 49.11h15.38v49.11h-15.38z" fill="#df0000"/><path d="M276.75 49.11h15.38v49.11h-15.38z" fill="#f00"/><path d="M292.12 49.11h15.38v49.11h-15.38z" fill="#ff8000"/><path d="M307.5 49.11h15.38v49.11h-15.38z" fill="#ffbf00"/><path d="M322.88 49.11h15.38v49.11h-15.38z" fill="#ff9f00"/><path d="M338.25 49.11h15.38v49.11h-15.38z" fill="#ff8000"/><path d="M353.62 49.11h15.38v49.11h-15.38z" fill="#ff6000"/><path d="M0 98.22h15.38v49.11h-15.38z" fill="#ff0"/><path d="M15.38 98.22h15.38v49.11h-15.38z" fill="#dfff20"/><path d="M30.75 98.22h15.38v49.11h-15.38z" fill="#ff0"/><path d="M46.12 98.22h15.38v49.11h-15.38z" fill="#ffdf00"/><path d="M61.5 98.22h15.38v49.11h-15.38z" fill="#ff0"/><path d="M76.88 98.22h15.38v49.11h-15.38z" fill="#dfff20"/><path d="M92.25 98.22h15.38v49.11h-15.38z" fill="#9fff60"/><path d="M107.62 98.22h15.38v49.11h-15.38z" fill="#bfff40"/><path d="M123 98.22h15.38v49.11h-15.38z" fill="#9fff60"/><path d="M138.38 98.22h15.38v49.11h-15.38z" fill="#80ff80"/><path d="M153.75 98.22h15.38v49.11h-15.38z" fill="#9fff60"/><path d="M169.12 98.22h15.38v49.11h-15.38z" fill="#dfff20"/><path d="M184.5 98.22h15.38v49.11h-15.38z" fill="#ff0"/><path d="M199.88 98.22h15.38v49.11h-15.38z" fill="#dfff20"/><path d="M215.25 98.22h30.75v49.11h-30.75z" fill="#ff0"/><path d="M246 98.22h30.75v49.11h-30.75z" fill="#ffbf00"/><path d="M276.75 98.22h15.38v49.11h-15.38z" fill="#bfff40"/><path d="M292.12 98.22h46.12v49.11h-46.12z" fill="#dfff20"/><path d="M338.25 98.22h15.38v49.11h-15.38z" fill="#ffdf00"/><path d="M353.62 98.22h15.38v49.11h-15.38z" fill="#ffbf00"/><path d="M0 147.32h15.38v49.11h-15.38z" fill="#ffdf00"/><path d="M15.38 147.32h15.38v49.11h-15.38z" fill="#ff0"/><path d="M30.75 147.32h15.38v49.11h-15.38z" fill="#ffdf00"/><path d="M46.12 147.32h15.38v49.11h-15.38z" fill="#ff0"/><path d="M61.5 147.32h15.38v49.11h-15.38z" fill="#dfff20"/><path d="M76.88 147.32h15.38v49.11h-15.38z" fill="#ff0"/><path d="M92.25 147.32h46.12v49.11h-46.12z" fill="#bfff40"/><path d="M138.38 147.32h15.38v49.11h-15.38z" fill="#dfff20"/><path d="M153.75 147.32h15.38v49.11h-15.38z" fill="#ffbf00"/><path d="M169.12 147.32h15.38v49.11h-15.38z" fill="#ff9f00"/><path d="M184.5 147.32h15.38v49.11h-15.38z" fill="#ffbf00"/><path d="M199.88 147.32h15.38v49.11h-15.38z" fill="#ff8000"/><path d="M215.25 147.32h15.38v49.11h-15.38z" fill="#ff4000"/><path d="M230.62 147.32h15.38v49.11h-15.38z" fill="#ff6000"/><path d="M246 147.32h30.75v49.11h-30.75z" fill="#ff4000"/><path d="M276.75 147.32h15.38v49.11h-15.38z" fill="#ff9f00"/><path d="M292.12 147.32h15.38v49.11h-15.38z" fill="#ffbf00"/><path d="M307.5 147.32h15.38v49.11h-15.38z" fill="#ffdf00"/><path d="M322.88 147.32h15.38v49.11h-15.38z" fill="#ff0"/><path d="M338.25 147.32h15.38v49.11h-15.38z" fill="#ffbf00"/><path d="M353.62 147.32h15.38v49.11h-15.38z" fill="#ff8000"/><path d="M0 196.43h30.75v49.11h-30.75z" fill="#bfff40"/><path d="M30.75 196.43h15.38v49.11h-15.38z" fill="#ffbf00"/><path d="M46.12 196.43h15.38v49.11h-15.38z" fill="#ffdf00"/><path d="M61.5 196.43h15.38v49.11h-15.38z" fill="#ffbf00"/><path d="M76.88 196.43h15.38v49.11h-15.38z" fill="#ffdf00"/><path d="M92.25 196.43h15.38v49.11h-15.38z" fill="#9fff60"/><path d="M107.62 196.43h15.38v49.11h-15.38z" fill="#80ff80"/><path d="M123 196.43h15.38v49.11h-15.38z" fill="#bfff40"/><path d="M138.38 196.43h15.38v49.11h-15.38z" fill="#80ff80"/><path d="M153.75 196.43h15.38v49.11h-15.38z" fill="#9fff60"/><path d="M169.12 196.43h46.12v49.11h-46.12z" fill="#bfff40"/><path d="M215.25 196.43h15.38v49.11h-15.38z" fill="#ffdf00"/><path d="M230.62 196.43h30.75v49.11h-30.75z" fill="#ff0"/><path d="M261.38 196.43h15.38v49.11h-15.38z" fill="#ffdf00"/><path d="M276.75 196.43h15.38v49.11h-15.38z" fill="#ff0"/><path d="M292.12 196.43h61.5v49.11h-61.5z" fill="#dfff20"/><path d="M353.62 196.43h15.38v49.11h-15.38z" fill="#ffdf00"/><path d="M0 245.54h76.88v49.11h-76.88z" fill="#0ff"/><path d="M76.88 245.54h15.38v49.11h-15.38z" fill="#40ffbf"/><path d="M92.25 245.54h15.38v49.11h-15.38z" fill="#20ffdf"/><path d="M107.62 245.54h15.38v49.11h-15.38z" fill="#40ffbf"/><path d="M123 245.54h15.38v49.11h-15.38z" fill="#bfff40"/><path d="M138.38 245.54h30.75v49.11h-30.75z" fill="#9fff60"/><path d="M169.12 245.54h15.38v49.11h-15.38z" fill="#80ff80"/><path d="M184.5 245.54h15.38v49.11h-15.38z" fill="#9fff60"/><path d="M199.88 245.54h15.38v49.11h-15.38z" fill="#60ff9f"/><path d="M215.25 245.54h61.5v49.11h-61.5z" fill="#80ff80"/><path d="M276.75 245.54h15.38v49.11h-15.38z" fill="#40ffbf"/><path d="M292.12 245.54h30.75v49.11h-30.75z" fill="#20ffdf"/><path d="M322.88 245.54h15.38v49.11h-15.38z" fill="#0ff"/><path d="M338.25 245.54h15.38v49.11h-15.38z" fill="#20ffdf"/><path d="M353.62 245.54h15.38v49.11h-15.38z" fill="#40ffbf"/><path d="M0 294.65h15.38v49.11h-15.38z" fill="#9fff60"/><path d="M15.38 294.65h15.38v49.11h-15.38z" fill="#80ff80"/><path d="M30.75 294.65h30.75v49.11h-30.75z" fill="#60ff9f"/><path d="M61.5 294.65h15.38v49.11h-15.38z" fill="#80ff80"/><path d="M76.88 294.65h15.38v49.11h-15.38z" fill="#bfff40"/><path d="M92.25 294.65h15.38v49.11h-15.38z" fill="#80ff80"/><path d="M107.62 294.65h30.75v49.11h-30.75z" fill="#dfff20"/><path d="M138.38 294.65h15.38v49.11h-15.38z" fill="#bfff40"/><path d="M153.75 294.65h15.38v49.11h-15.38z" fill="#dfff20"/><path d="M169.12 294.65h30.75v49.11h-30.75z" fill="#ffdf00"/><path d="M199.88 294.65h15.38v49.11h-15.38z" fill="#dfff20"/><path d="M215.25 294.65h15.38v49.11h-15.38z" fill="#bfff40"/><path d="M230.62 294.65h15.38v49.11h-15.38z" fill="#dfff20"/><path d="M246 294.65h15.38v49.11h-15.38z" fill="#ff0"/><path d="M261.38 294.65h15.38v49.11h-15.38z" fill="#ffdf00"/><path d="M276.75 294.65h15.38v49.11h-15.38z" fill="#bfff40"/><path d="M292.12 294.65h30.75v49.11h-30.75z" fill="#9fff60"/><path d="M322.88 294.65h15.38v49.11h-15.38z" fill="#80ff80"/><path d="M338.25 294.65h15.38v49.11h-15.38z" fill="#9fff60"/><path d="M353.62 294.65h15.38v49.11h-15.38z" fill="#bfff40"/><path d="M0 343.76h15.38v49.11h-15.38z" fill="#60ff9f"/><path d="M15.38 343.76h15.38v49.11h-15.38z" fill="#80ff80"/><path d="M30.75 343.76h15.38v49.11h-15.38z" fill="#9fff60"/><path d="M46.12 343.76h15.38v49.11h-15.38z" fill="#60ff9f"/><path d="M61.5 343.76h30.75v49.11h-30.75z" fill="#9fff60"/><path d="M92.25 343.76h15.38v49.11h-15.38z" fill="#bfff40"/><path d="M107.62 343.76h15.38v49.11h-15.38z" fill="#dfff20"/><path d="M123 343.76h15.38v49.11h-15.38z" fill="#ffdf00"/><path d="M138.38 343.76h15.38v49.11h-15.38z" fill="#ff0"/><path d="M153.75 343.76h15.38v49.11h-15.38z" fill="#dfff20"/><path d="M169.12 343.76h15.38v49.11h-15.38z" fill="#ff8000"/><path d="M184.5 343.76h30.75v49.11h-30.75z" fill="#ff9f00"/><path d="M215.25 343.76h15.38v49.11h-15.38z" fill="#ffbf00"/><path d="M230.62 343.76h30.75v49.11h-30.75z" fill="#ff9f00"/><path d="M261.38 343.76h15.38v49.11h-15.38z" fill="#ff8000"/><path d="M276.75 343.76h15.38v49.11h-15.38z" fill="#ff9f00"/><path d="M292.12 343.76h15.38v49.11h-15.38z" fill="#ffdf00"/><path d="M307.5 343.76h15.38v49.11h-15.38z" fill="#ffbf00"/><path d="M322.88 343.76h15.38v49.11h-15.38z" fill="#dfff20"/><path d="M338.25 343.76h15.38v49.11h-15.38z" fill="#ff0"/><path d="M353.62 343.76h15.38v49.11h-15.38z" fill="#80ff80"/><path d="M0 392.87h30.75v49.11h-30.75z" fill="#dfff20"/><path d="M30.75 392.87h15.38v49.11h-15.38z" fill="#ffbf00"/><path d="M46.12 392.87h15.38v49.11h-15.38z" fill="#ffdf00"/><path d="M61.5 392.87h15.38v49.11h-15.38z" fill="#ff9f00"/><path d="M76.88 392.87h30.75v49.11h-30.75z" fill="#ff8000"/><path d="M107.62 392.87h30.75v49.11h-30.75z" fill="#ff9f00"/><path d="M138.38 392.87h15.38v49.11h-15.38z" fill="#ffbf00"/><path d="M153.75 392.87h15.38v49.11h-15.38z" fill="#dfff20"/><path d="M169.12 392.87h15.38v49.11h-15.38z" fill="#ffbf00"/><path d="M184.5 392.87h30.75v49.11h-30.75z" fill="#ff8000"/><path d="M215.25 392.87h15.38v49.11h-15.38z" fill="#ff6000"/><path d="M230.62 392.87h15.38v49.11h-15.38z" fill="#ff9f00"/><path d="M246 392.87h15.38v49.11h-15.38z" fill="#ff6000"/><path d="M261.38 392.87h15.38v49.11h-15.38z" fill="#ff9f00"/><path d="M276.75 392.87h15.38v49.11h-15.38z" fill="#ffbf00"/><path d="M292.12 392.87h30.75v49.11h-30.75z" fill="#ff9f00"/><path d="M322.88 392.87h30.75v49.11h-30.75z" fill="#ffbf00"/><path d="M353.62 392.87h15.38v49.11h-15.38z" fill="#ff9f00"/><path d="M0 441.97h15.38v49.11h-15.38z" fill="#ffbf00"/><path d="M15.38 441.97h15.38v49.11h-15.38z" fill="#ff0"/><path d="M30.75 441.97h30.75v49.11h-30.75z" fill="#ffbf00"/><path d="M61.5 441.97h15.38v49.11h-15.38z" fill="#ffdf00"/><path d="M76.88 441.97h15.38v49.11h-15.38z" fill="#ff0"/><path d="M92.25 441.97h15.38v49.11h-15.38z" fill="#9fff60"/><path d="M107.62 441.97h15.38v49.11h-15.38z" fill="#dfff20"/><path d="M123 441.97h30.75v49.11h-30.75z" fill="#ff0"/><path d="M153.75 441.97h15.38v49.11h-15.38z" fill="#dfff20"/><path d="M169.12 441.97h30.75v49.11h-30.75z" fill="#bfff40"/><path d="M199.88 441.97h15.38v49.11h-15.38z" fill="#ff9f00"/><path d="M215.25 441.97h15.38v49.11h-15.38z" fill="#ff4000"/><path d="M230.62 441.97h15.38v49.11h-15.38z" fill="#ff6000"/><path d="M246 441.97h15.38v49.11h-15.38z" fill="#ff8000"/><path d="M261.38 441.97h15.38v49.11h-15.38z" fill="#ff6000"/><path d="M276.75 441.97h15.38v49.11h-15.38z" fill="#ff8000"/><path d="M292.12 441.97h15.38v49.11h-15.38z" fill="#ffdf00"/><path d="M307.5 441.97h30.75v49.11h-30.75z" fill="#ffbf00"/><path d="M338.25 441.97h15.38v49.11h-15.38z" fill="#ffdf00"/><path d="M353.62 441.97h15.38v49.11h-15.38z" fill="#ff8000"/><path d="M0 491.08h15.38v49.11h-15.38z" fill="#ff2000"/><path d="M15.38 491.08h15.38v49.11h-15.38z" fill="#ff4000"/><path d="M30.75 491.08h30.75v49.11h-30.75z" fill="#ff2000"/><path d="M61.5 491.08h15.38v49.11h-15.38z" fill="#ff6000"/><path d="M76.88 491.08h15.38v49.11h-15.38z" fill="#ff2000"/><path d="M92.25 491.08h15.38v49.11h-15.38z" fill="#ff9f00"/><path d="M107.62 491.08h15.38v49.11h-15.38z" fill="#ffdf00"/><path d="M123 491.08h15.38v49.11h-15.38z" fill="#ff0"/><path d="M138.38 491.08h30.75v49.11h-30.75z" fill="#ffdf00"/><path d="M169.12 491.08h30.75v49.11h-30.75z" fill="#ffbf00"/><path d="M199.88 491.08h15.38v49.11h-15.38z" fill="#ff8000"/><path d="M215.25 491.08h15.38v49.11h-15.38z" fill="#ff6000"/><path d="M230.62 491.08h15.38v49.11h-15.38z" fill="#ffbf00"/><path d="M246 491.08h15.38v49.11h-15.38z" fill="#ff9f00"/><path d="M261.38 491.08h30.75v49.11h-30.75z" fill="#ff8000"/><path d="M292.12 491.08h15.38v49.11h-15.38z" fill="#ff6000"/><path d="M307.5 491.08h15.38v49.11h-15.38z" fill="#f00"/><path d="M322.88 491.08h15.38v49.11h-15.38z" fill="#ff8000"/><path d="M338.25 491.08h15.38v49.11h-15.38z" fill="#ff9f00"/><path d="M353.62 491.08h15.38v49.11h-15.38z" fill="#ff2000"/><path d="M0 540.19h15.38v49.11h-15.38z" fill="#f00"/><path d="M15.38 540.19h15.38v49.11h-15.38z" fill="#df0000"/><path d="M30.75 540.19h15.38v49.11h-15.38z" fill="#bf0000"/><path d="M46.12 540.19h15.38v49.11h-15.38z" fill="#ff6000"/><path d="M61.5 540.19h46.12v49.11h-46.12z" fill="#f00"/><path d="M107.62 540.19h15.38v49.11h-15.38z" fill="#df0000"/><path d="M123 540.19h15.38v49.11h-15.38z" fill="#9f0000"/><path d="M138.38 540.19h15.38v49.11h-15.38z" fill="#ff6000"/><path d="M153.75 540.19h30.75v49.11h-30.75z" fill="#ff8000"/><path d="M184.5 540.19h30.75v49.11h-30.75z" fill="#ff4000"/><path d="M215.25 540.19h46.12v49.11h-46.12z" fill="#f00"/><path d="M261.38 540.19h15.38v49.11h-15.38z" fill="#bf0000"/><path d="M276.75 540.19h15.38v49.11h-15.38z" fill="#f00"/><path d="M292.12 540.19h15.38v49.11h-15.38z" fill="#df0000"/><path d="M307.5 540.19h15.38v49.11h-15.38z" fill="#f00"/><path d="M322.88 540.19h15.38v49.11h-15.38z" fill="#ff2000"/><path d="M338.25 540.19h15.38v49.11h-15.38z" fill="#ff4000"/><path d="M353.62 540.19h15.38v49.11h-15.38z" fill="#ff2000"/>
<path class="g" d="M0 0v589.3M15.38 0v589.3M30.75 0v589.3M46.12 0v589.3M61.5 0v589.3M76.88 0v589.3M92.25 0v589.3M107.62 0v589.3M123 0v589.3M138.38 0v589.3M153.75 0v589.3M169.12 0v589.3M184.5 0v589.3M199.88 0v589.3M215.25 0v589.3M230.62 0v589.3M246 0v589.3M261.38 0v589.3M276.75 0v589.3M292.12 0v589.3M307.5 0v589.3M322.88 0v589.3M338.25 0v589.3M353.62 0v589.3M369 0v589.3M0 0h369M0 49.11h369M0 98.22h369M0 147.32h369M0 196.43h369M0 245.54h369M0 294.65h369M0 343.76h369M0 392.87h369M0 441.97h369M0 491.08h369M0 540.19h369M0 589.3h369"/>
<path class="k" d="M-6 49.11h6M-6 98.22h6M-6 147.32h6M-6 196.43h6M-6 245.54h6M-6 294.65h6M-6 343.76h6M-6 392.87h6M-6 441.97h6M-6 491.08h6M-6 540.19h6M-6 589.3h6M0 589.3v6M46.12 589.3v6M92.25 589.3v6M138.38 589.3v6M184.5 589.3v6M230.62 589.3v6M276.75 589.3v6M322.88 589.3v6"/>
</g>
<text class="t" x="273.5" y="673.2">NARR</text>
<text class="m" x="75.4" y="733.01">D</text>
<text class="m" x="75.4" y="782.12">N</text>
<text class="m" x="75.4" y="831.23">O</text>
<text class="m" x="75.4" y="880.33">S</text>
<text class="m" x="75.4" y="929.44">A</text>
<text class="m" x="75.4" y="978.55">J</text>
<text class="m" x="75.4" y="1027.66">J</text>
<text class="m" x="75.4" y="1076.77">M</text>
<text class="m" x="75.4" y="1125.87">A</text>
<text class="m" x="75.4" y="1174.98">M</text>
<text class="m" x="75.4" y="1224.09">F</text>
<text class="m" x="75.4" y="1273.2">J</text>
<text class="l" transform="translate(44.4 969.45) rotate(-90)">Month</text>
<g transform="translate(494.5 674.8)">
<path d="M0 0h30.75v49.11h-30.75z" fill="#00bfff"/><path d="M30.75 0h30.75v49.11h-30.75z" fill="#00dfff"/><path d="M61.5 0h15.38v49.11h-15.38z" fill="#20ffdf"/><path d="M76.88 0h15.38v49.11h-15.38z" fill="#0ff"/><path d="M92.25 0h15.38v49.11h-15.38z" fill="#60ff9f"/><path d="M107.62 0h15.38v49.11h-15.38z" fill="#40ffbf"/><path d="M123 0h15.38v49.11h-15.38z" fill="#00dfff"/><path d="M138.38 0h15.38v49.11h-15.38z" fill="#009fff"/><path d="M153.75 0h30.75v49.11h-30.75z" fill="#00bfff"/><path d="M184.5 0h15.38v49.11h-15.38z" fill="#00dfff"/><path d="M199.88 0h15.38v49.11h-15.38z" fill="#0ff"/><path d="M215.25 0h15.38v49.11h-15.38z" fill="#20ffdf"/><path d="M230.62 0h15.38v49.11h-15.38z" fill="#40ffbf"/><path d="M246 0h15.38v49.11h-15.38z" fill="#0ff"/><path d="M261.38 0h15.38v49.11h-15.38z" fill="#00dfff"/><path d="M276.75 0h15.38v49.11h-15.38z" fill="#0ff"/><path d="M292.12 0h15.38v49.11h-15.38z" fill="#00dfff"/><path d="M307.5 0h15.38v49.11h-15.38z" fill="#00bfff"/><path d="M322.88 0h15.38v49.11h-15.38z" fill="#0080ff"/><path d="M338.25 0h15.38v49.11h-15.38z" fill="#009fff"/><path d="M353.62 0h15.38v49.11h-15.38z" fill="#00bfff"/><path d="M0 49.11h30.75v49.11h-30.75z" fill="#00dfff"/><path d="M30.75 49.11h15.38v49.11h-15.38z" fill="#40ffbf"/><path d="M46.12 49.11h15.38v49.11h-15.38z" fill="#00bfff"/><path d="M61.5 49.11h15.38v49.11h-15.38z" fill="#00dfff"/><path d="M76.88 49.11h15.38v49.11h-15.38z" fill="#00bfff"/><path d="M92.25 49.11h15.38v49.11h-15.38z" fill="#00dfff"/><path d="M107.62 49.11h15.38v49.11h-15.38z" fill="#0ff"/><path d="M123 49.11h15.38v49.11h-15.38z" fill="#00dfff"/><path d="M138.38 49.11h15.38v49.11h-15.38z" fill="#00bfff"/><path d="M153.75 49.11h15.38v49.11h-15.38z" fill="#00dfff"/><path d="M169.12 49.11h61.5v49.11h-61.5z" fill="#0ff"/><path d="M230.62 49.11h15.38v49.11h-15.38z" fill="#00dfff"/><path d="M246 49.11h15.38v49.11h-15.38z" fill="#0ff"/><path d="M261.38 49.11h15.38v49.11h-15.38z" fill="#00dfff"/><path d="M276.75 49.11h15.38v49.11h-15.38z" fill="#40ffbf"/><path d="M292.12 49.11h15.38v49.11h-15.38z" fill="#00dfff"/><path d="M307.5 49.11h15.38v49.11h-15.38z" fill="#009fff"/><path d="M322.88 49.11h15.38v49.11h-15.38z" fill="#00bfff"/><path d="M338.25 49.11h30.75v49.11h-30.75z" fill="#0ff"/><path d="M0 98.22h46.12v49.11h-46.12z" fill="#0060ff"/><path d="M46.12 98.22h15.38v49.11h-15.38z" fill="#0040ff"/><path d="M61.5 98.22h15.38v49.11h-15.38z" fill="#0060ff"/><path d="M76.88 98.22h15.38v49.11h-15.38z" fill="#0040ff"/><path d="M92.25 98.22h30.75v49.11h-30.75z" fill="#0060ff"/><path d="M123 98.22h30.75v49.11h-30.75z" fill="#0040ff"/><path d="M153.75 98.22h15.38v49.11h-15.38z" fill="#0020ff"/><path d="M169.12 98.22h15.38v49.11h-15.38z" fill="#0060ff"/><path d="M184.5 98.22h15.38v49.11h-15.38z" fill="#0080ff"/><path d="M199.88 98.22h15.38v49.11h-15.38z" fill="#0060ff"/><path d="M215.25 98.22h15.38v49.11h-15.38z" fill="#0080ff"/><path d="M230.62 98.22h30.75v49.11h-30.75z" fill="#0060ff"/><path d="M261.38 98.22h15.38v49.11h-15.38z" fill="#0020ff"/><path d="M276.75 98.22h15.38v49.11h-15.38z" fill="#00f"/><path d="M292.12 98.22h61.5v49.11h-61.5z" fill="#0020ff"/><path d="M353.62 98.22h15.38v49.11h-15.38z" fill="#0040ff"/><path d="M0 147.32h15.38v49.11h-15.38z" fill="#0040ff"/><path d="M15.38 147.32h30.75v49.11h-30.75z" fill="#0060ff"/><path d="M46.12 147.32h15.38v49.11h-15.38z" fill="#0040ff"/><path d="M61.5 147.32h46.12v49.11h-46.12z" fill="#0020ff"/><path d="M107.62 147.32h30.75v49.11h-30.75z" fill="#0040ff"/><path d="M138.38 147.32h15.38v49.11h-15.38z" fill="#0060ff"/><path d="M153.75 147.32h15.38v49.11h-15.38z" fill="#009fff"/><path d="M169.12 147.32h15.38v49.11h-15.38z" fill="#00dfff"/><path d="M184.5 147.32h15.38v49.11h-15.38z" fill="#009fff"/><path d="M199.88 147.32h15.38v49.11h-15.38z" fill="#0ff"/><path d="M215.25 147.32h15.38v49.11h-15.38z" fill="#00bfff"/><path d="M230.62 147.32h30.75v49.11h-30.75z" fill="#0080ff"/><path d="M261.38 147.32h15.38v49.11h-15.38z" fill="#0040ff"/><path d="M276.75 147.32h15.38v49.11h-15.38z" fill="#0020ff"/><path d="M292.12 147.32h30.75v49.11h-30.75z" fill="#0040ff"/><path d="M322.88 147.32h30.75v49.11h-30.75z" fill="#0020ff"/><path d="M353.62 147.32h15.38v49.11h-15.38z" fill="#0040ff"/><path d="M0 196.43h15.38v49.11h-15.38z" fill="#0040ff"/><path d="M15.38 196.43h15.38v49.11h-15.38z" fill="#0060ff"/><path d="M30.75 196.43h15.38v49.11h-15.38z" fill="#00bfff"/><path d="M46.12 196.43h15.38v49.11h-15.38z" fill="#009fff"/><path d="M61.5 196.43h30.75v49.11h-30.75z" fill="#0080ff"/><path d="M92.25 196.43h30.75v49.11h-30.75z" fill="#0060ff"/><path d="M123 196.43h30.75v49.11h-30.75z" fill="#0080ff"/><path d="M153.75 196.43h15.38v49.11h-15.38z" fill="#009fff"/><path d="M169.12 196.43h15.38v49.11h-15.38z" fill="#0080ff"/><path d="M184.5 196.43h15.38v49.11h-15.38z" fill="#009fff"/><path d="M199.88 196.43h15.38v49.11h-15.38z" fill="#0060ff"/><path d="M215.25 196.43h15.38v49.11h-15.38z" fill="#0080ff"/><path d="M230.62 196.43h15.38v49.11h-15.38z" fill="#0060ff"/><path d="M246 196.43h15.38v49.11h-15.38z" fill="#0080ff"/><path d="M261.38 196.43h15.38v49.11h-15.38z" fill="#00bfff"/><path d="M276.75 196.43h15.38v49.11h-15.38z" fill="#009fff"/><path d="M292.12 196.43h15.38v49.11h-15.38z" fill="#0060ff"/><path d="M307.5 196.43h15.38v49.11h-15.38z" fill="#0020ff"/><path d="M322.88 196.43h15.38v49.11h-15.38z" fill="#0040ff"/><path d="M338.25 196.43h15.38v49.11h-15.38z" fill="#0080ff"/><path d="M353.62 196.43h15.38v49.11h-15.38z" fill="#0060ff"/><path d="M0 245.54h15.38v49.11h-15.38z" fill="#0020ff"/><path d="M15.38 245.54h15.38v49.11h-15.38z" fill="#0060ff"/><path d="M30.75 245.54h15.38v49.11h-15.38z" fill="#0020ff"/><path d="M46.12 245.54h15.38v49.11h-15.38z" fill="#00f"/><path d="M61.5 245.54h30.75v49.11h-30.75z" fill="#0020ff"/><path d="M92.25 245.54h15.38v49.11h-15.38z" fill="#0040ff"/><path d="M107.62 245.54h15.38v49.11h-15.38z" fill="#0060ff"/><path d="M123 245.54h15.38v49.11h-15.38z" fill="#0080ff"/><path d="M138.38 245.54h15.38v49.11h-15.38z" fill="#0060ff"/><path d="M153.75 245.54h15.38v49.11h-15.38z" fill="#0080ff"/><path d="M169.12 245.54h15.38v49.11h-15.38z" fill="#0020ff"/><path d="M184.5 245.54h15.38v49.11h-15.38z" fill="#0060ff"/><path d="M199.88 245.54h15.38v49.11h-15.38z" fill="#0040ff"/><path d="M215.25 245.54h30.75v49.11h-30.75z" fill="#00f"/><path d="M246 245.54h15.38v49.11h-15.38z" fill="#0040ff"/><path d="M261.38 245.54h46.12v49.11h-46.12z" fill="#0060ff"/><path d="M307.5 245.54h15.38v49.11h-15.38z" fill="#0040ff"/><path d="M322.88 245.54h15.38v49.11h-15.38z" fill="#0060ff"/><path d="M338.25 245.54h30.75v49.11h-30.75z" fill="#0040ff"/><path d="M0 294.65h30.75v49.11h-30.75z" fill="#0080ff"/><path d="M30.75 294.65h15.38v49.11h-15.38z" fill="#0060ff"/><path d="M46.12 294.65h15.38v49.11h-15.38z" fill="#0080ff"/><path d="M61.5 294.65h15.38v49.11h-15.38z" fill="#0040ff"/><path d="M76.88 294.65h15.38v49.11h-15.38z" fill="#0060ff"/><path d="M92.25 294.65h15.38v49.11h-15.38z" fill="#0020ff"/><path d="M107.62 294.65h15.38v49.11h-15.38z" fill="#0060ff"/><path d="M123 294.65h30.75v49.11h-30.75z" fill="#0080ff"/><path d="M153.75 294.65h30.75v49.11h-30.75z" fill="#00bfff"/><path d="M184.5 294.65h15.38v49.11h-15.38z" fill="#009fff"/><path d="M199.88 294.65h15.38v49.11h-15.38z" fill="#00bfff"/><path d="M215.25 294.65h15.38v49.11h-15.38z" fill="#009fff"/><path d="M230.62 294.65h15.38v49.11h-15.38z" fill="#0040ff"/><path d="M246 294.65h46.12v49.11h-46.12z" fill="#0080ff"/><path d="M292.12 294.65h30.75v49.11h-30.75z" fill="#009fff"/><path d="M322.88 294.65h15.38v49.11h-15.38z" fill="#0080ff"/><path d="M338.25 294.65h15.38v49.11h-15.38z" fill="#0060ff"/><path d="M353.62 294.65h15.38v49.11h-15.38z" fill="#0080ff"/><path d="M0 343.76h30.75v49.11h-30.75z" fill="#0020ff"/><path d="M30.75 343.76h15.38v49.11h-15.38z" fill="#0040ff"/><path d="M46.12 343.76h15.38v49.11h-15.38z" fill="#00f"/><path d="M61.5 343.76h15.38v49.11h-15.38z" fill="#0020ff"/><path d="M76.88 343.76h30.75v49.11h-30.75z" fill="#0040ff"/><path d="M107.62 343.76h15.38v49.11h-15.38z" fill="#0060ff"/><path d="M123 343.76h15.38v49.11h-15.38z" fill="#0040ff"/><path d="M138.38 343.76h30.75v49.11h-30.75z" fill="#0080ff"/><path d="M169.12 343.76h15.38v49.11h-15.38z" fill="#00bfff"/><path d="M184.5 343.76h15.38v49.11h-15.38z" fill="#0080ff"/><path d="M199.88 343.76h15.38v49.11h-15.38z" fill="#009fff"/><path d="M215.25 343.76h30.75v49.11h-30.75z" fill="#00bfff"/><path d="M246 343.76h15.38v49.11h-15.38z" fill="#00dfff"/><path d="M261.38 343.76h15.38v49.11h-15.38z" fill="#00bfff"/><path d="M276.75 343.76h15.38v49.11h-15.38z" fill="#009fff"/><path d="M292.12 343.76h15.38v49.11h-15.38z" fill="#0080ff"/><path d="M307.5 343.76h15.38v49.11h-15.38z" fill="#0040ff"/><path d="M322.88 343.76h15.38v49.11h-15.38z" fill="#0020ff"/><path d="M338.25 343.76h30.75v49.11h-30.75z" fill="#00f"/><path d="M0 392.87h15.38v49.11h-15.38z" fill="#009fff"/><path d="M15.38 392.87h15.38v49.11h-15.38z" fill="#0080ff"/><path d="M30.75 392.87h30.75v49.11h-30.75z" fill="#0060ff"/><path d="M61.5 392.87h15.38v49.11h-15.38z" fill="#0080ff"/><path d="M76.88 392.87h30.75v49.11h-30.75z" fill="#009fff"/><path d="M107.62 392.87h15.38v49.11h-15.38z" fill="#0060ff"/><path d="M123 392.87h30.75v49.11h-30.75z" fill="#009fff"/><path d="M153.75 392.87h15.38v49.11h-15.38z" fill="#0080ff"/><path d="M169.12 392.87h15.38v49.11h-15.38z" fill="#0060ff"/><path d="M184.5 392.87h30.75v49.11h-30.75z" fill="#00dfff"/><path d="M215.25 392.87h15.38v49.11h-15.38z" fill="#0ff"/><path d="M230.62 392.87h15.38v49.11h-15.38z" fill="#009fff"/><path d="M246 392.87h15.38v49.11h-15.38z" fill="#00dfff"/><path d="M261.38 392.87h61.5v49.11h-61.5z" fill="#00bfff"/><path d="M322.88 392.87h15.38v49.11h-15.38z" fill="#009fff"/><path d="M338.25 392.87h30.75v49.11h-30.75z" fill="#0080ff"/><path d="M0 441.97h30.75v49.11h-30.75z" fill="#0040ff"/><path d="M30.75 441.97h15.38v49.11h-15.38z" fill="#0080ff"/><path d="M46.12 441.97h30.75v49.11h-30.75z" fill="#00bfff"/><path d="M76.88 441.97h30.75v49.11h-30.75z" fill="#009fff"/><path d="M107.62 441.97h15.38v49.11h-15.38z" fill="#00dfff"/><path d="M123 441.97h15.38v49.11h-15.38z" fill="#00bfff"/><path d="M138.38 441.97h30.75v49.11h-30.75z" fill="#009fff"/><path d="M169.12 441.97h15.38v49.11h-15.38z" fill="#0080ff"/><path d="M184.5 441.97h15.38v49.11h-15.38z" fill="#00bfff"/><path d="M199.88 441.97h15.38v49.11h-15.38z" fill="#00dfff"/><path d="M215.25 441.97h15.38v49.11h-15.38z" fill="#0ff"/><path d="M230.62 441.97h15.38v49.11h-15.38z" fill="#40ffbf"/><path d="M246 441.97h15.38v49.11h-15.38z" fill="#009fff"/><path d="M261.38 441.97h30.75v49.11h-30.75z" fill="#00bfff"/><path d="M292.12 441.97h30.75v49.11h-30.75z" fill="#009fff"/><path d="M322.88 441.97h15.38v49.11h-15.38z" fill="#0040ff"/><path d="M338.25 441.97h15.38v49.11h-15.38z" fill="#0020ff"/><path d="M353.62 441.97h15.38v49.11h-15.38z" fill="#0080ff"/><path d="M0 491.08h15.38v49.11h-15.38z" fill="#0ff"/><path d="M15.38 491.08h15.38v49.11h-15.38z" fill="#00dfff"/><path d="M30.75 491.08h30.75v49.11h-30.75z" fill="#00bfff"/><path d="M61.5 491.08h30.75v49.11h-30.75z" fill="#009fff"/><path d="M92.25 491.08h15.38v49.11h-15.38z" fill="#00bfff"/><path d="M107.62 491.08h15.38v49.11h-15.38z" fill="#009fff"/><path d="M123 491.08h15.38v49.11h-15.38z" fill="#0060ff"/><path d="M138.38 491.08h15.38v49.11h-15.38z" fill="#0080ff"/><path d="M153.75 491.08h15.38v49.11h-15.38z" fill="#0ff"/><path d="M169.12 491.08h15.38v49.11h-15.38z" fill="#00bfff"/><path d="M184.5 491.08h15.38v49.11h-15.38z" fill="#00dfff"/><path d="M199.88 491.08h30.75v49.11h-30.75z" fill="#20ffdf"/><path d="M230.62 491.08h15.38v49.11h-15.38z" fill="#00bfff"/><path d="M246 491.08h15.38v49.11h-15.38z" fill="#00dfff"/><path d="M261.38 491.08h15.38v49.11h-15.38z" fill="#00bfff"/><path d="M276.75 491.08h30.75v49.11h-30.75z" fill="#0ff"/><path d="M307.5 491.08h15.38v49.11h-15.38z" fill="#00dfff"/><path d="M322.88 491.08h30.75v49.11h-30.75z" fill="#20ffdf"/><path d="M353.62 491.08h15.38v49.11h-15.38z" fill="#0ff"/><path d="M0 540.19h15.38v49.11h-15.38z" fill="#00dfff"/><path d="M15.38 540.19h15.38v49.11h-15.38z" fill="#0ff"/><path d="M30.75 540.19h15.38v49.11h-15.38z" fill="#20ffdf"/><path d="M46.12 540.19h15.38v49.11h-15.38z" fill="#40ffbf"/><path d="M61.5 540.19h15.38v49.11h-15.38z" fill="#80ff80"/><path d="M76.88 540.19h15.38v49.11h-15.38z" fill="#40ffbf"/><path d="M92.25 540.19h30.75v49.11h-30.75z" fill="#20ffdf"/><path d="M123 540.19h15.38v49.11h-15.38z" fill="#0ff"/><path d="M138.38 540.19h15.38v49.11h-15.38z" fill="#009fff"/><path d="M153.75 540.19h15.38v49.11h-15.38z" fill="#00dfff"/><path d="M169.12 540.19h15.38v49.11h-15.38z" fill="#0080ff"/><path d="M184.5 540.19h15.38v49.11h-15.38z" fill="#20ffdf"/><path d="M199.88 540.19h15.38v49.11h-15.38z" fill="#9fff60"/><path d="M215.25 540.19h15.38v49.11h-15.38z" fill="#40ffbf"/><path d="M230.62 540.19h15.38v49.11h-15.38z" fill="#20ffdf"/><path d="M246 540.19h76.88v49.11h-76.88z" fill="#0ff"/><path d="M322.88 540.19h15.38v49.11h-15.38z" fill="#00dfff"/><path d="M338.25 540.19h30.75v49.11h-30.75z" fill="#009fff"/>
<path class="g" d="M0 0v589.3M15.38 0v589.3M30.75 0v589.3M46.12 0v589.3M61.5 0v589.3M76.88 0v589.3M92.25 0v589.3M107.62 0v589.3M123 0v589.3M138.38 0v589.3M153.75 0v589.3M169.12 0v589.3M184.5 0v589.3M199.88 0v589.3M215.25 0v589.3M230.62 0v589.3M246 0v589.3M261.38 0v589.3M276.75 0v589.3M292.12 0v589.3M307.5 0v589.3M322.88 0v589.3M338.25 0v589.3M353.62 0v589.3M369 0v589.3M0 0h369M0 49.11h369M0 98.22h369M0 147.32h369M0 196.43h369M0 245.54h369M0 294.65h369M0 343.76h369M0 392.87h369M0 441.97h369M0 491.08h369M0 540.19h369M0 589.3h369"/>
<path class="k" d="M-6 49.11h6M-6 98.22h6M-6 147.32h6M-6 196.43h6M-6 245.54h6M-6 294.65h6M-6 343.76h6M-6 392.87h6M-6 441.97h6M-6 491.08h6M-6 540.19h6M-6 589.3h6M0 589.3v6M46.12 589.3v6M92.25 589.3v6M138.38 589.3v6M184.5 589.3v6M230.62 589.3v6M276.75 589.3v6M322.88 589.3v6"/>
</g>
<text class="t" x="679" y="673.2">HRDPS</text>
<g transform="translate(995 55.2)">
<path d="M0 0h15.38v49.11h-15.38z" fill="#d6dee2"/><path d="M15.38 0h15.38v49.11h-15.38z" fill="#f1eceb"/><path d="M30.75 0h30.75v49.11h-30.75z" fill="#e4e5e6"/><path d="M61.5 0h30.75v49.11h-30.75z" fill="#a9c5cf"/><path d="M92.25 0h15.38v49.11h-15.38z" fill="#79abc1"/><path d="M107.62 0h15.38v49.11h-15.38z" fill="#89b4c6"/><path d="M123 0h15.38v49.11h-15.38z" fill="#79abc1"/><path d="M138.38 0h15.38v49.11h-15.38z" fill="#89b4c6"/><path d="M153.75 0h15.38v49.11h-15.38z" fill="#79abc1"/><path d="M169.12 0h15.38v49.11h-15.38z" fill="#89b4c6"/><path d="M184.5 0h15.38v49.11h-15.38z" fill="#99bdca"/><path d="M199.88 0h30.75v49.11h-30.75z" fill="#89b4c6"/><path d="M230.62 0h15.38v49.11h-15.38z" fill="#99bdca"/><path d="M246 0h30.75v49.11h-30.75z" fill="#b9cdd4"/><path d="M276.75 0h15.38v49.11h-15.38z" fill="#79abc1"/><path d="M292.12 0h15.38v49.11h-15.38z" fill="#89b4c6"/><path d="M307.5 0h15.38v49.11h-15.38z" fill="#99bdca"/><path d="M322.88 0h15.38v49.11h-15.38z" fill="#89b4c6"/><path d="M338.25 0h15.38v49.11h-15.38z" fill="#b9cdd4"/><path d="M353.62 0h15.38v49.11h-15.38z" fill="#c8d6db"/><path d="M0 49.11h15.38v49.11h-15.38z" fill="#b9cdd4"/><path d="M15.38 49.11h30.75v49.11h-30.75z" fill="#a9c5cf"/><path d="M46.12 49.11h15.38v49.11h-15.38z" fill="#99bdca"/><path d="M61.5 49.11h30.75v49.11h-30.75z" fill="#b9cdd4"/><path d="M92.25 49.11h15.38v49.11h-15.38z" fill="#a9c5cf"/><path d="M107.62 49.11h30.75v49.11h-30.75z" fill="#89b4c6"/><path d="M138.38 49.11h15.38v49.11h-15.38z" fill="#68a2be"/><path d="M153.75 49.11h76.88v49.11h-76.88z" fill="#99bdca"/><path d="M230.62 49.11h15.38v49.11h-15.38z" fill="#89b4c6"/><path d="M246 49.11h15.38v49.11h-15.38z" fill="#79abc1"/><path d="M261.38 49.11h15.38v49.11h-15.38z" fill="#99bdca"/><path d="M276.75 49.11h15.38v49.11h-15.38z" fill="#79abc1"/><path d="M292.12 49.11h15.38v49.11h-15.38z" fill="#89b4c6"/><path d="M307.5 49.11h15.38v49.11h-15.38z" fill="#79abc1"/><path d="M322.88 49.11h46.12v49.11h-46.12z" fill="#99bdca"/><path d="M0 98.22h15.38v49.11h-15.38z" fill="#c8d6db"/><path d="M15.38 98.22h30.75v49.11h-30.75z" fill="#99bdca"/><path d="M46.12 98.22h46.12v49.11h-46.12z" fill="#a9c5cf"/><path d="M92.25 98.22h15.38v49.11h-15.38z" fill="#68a2be"/><path d="M107.62 98.22h15.38v49.11h-15.38z" fill="#79abc1"/><path d="M123 98.22h30.75v49.11h-30.75z" fill="#89b4c6"/><path d="M153.75 98.22h15.38v49.11h-15.38z" fill="#99bdca"/><path d="M169.12 98.22h15.38v49.11h-15.38z" fill="#89b4c6"/><path d="M184.5 98.22h15.38v49.11h-15.38z" fill="#79abc1"/><path d="M199.88 98.22h76.88v49.11h-76.88z" fill="#89b4c6"/><path d="M276.75 98.22h46.12v49.11h-46.12z" fill="#79abc1"/><path d="M322.88 98.22h15.38v49.11h-15.38z" fill="#99bdca"/><path d="M338.25 98.22h30.75v49.11h-30.75z" fill="#a9c5cf"/><path d="M0 147.32h15.38v49.11h-15.38z" fill="#f1eceb"/><path d="M15.38 147.32h15.38v49.11h-15.38z" fill="#eee5e2"/><path d="M30.75 147.32h15.38v49.11h-15.38z" fill="#f1eceb"/><path d="M46.12 147.32h15.38v49.11h-15.38z" fill="#ece1dc"/><path d="M61.5 147.32h15.38v49.11h-15.38z" fill="#f1eceb"/><path d="M76.88 147.32h15.38v49.11h-15.38z" fill="#ece1dc"/><path d="M92.25 147.32h30.75v49.11h-30.75z" fill="#d6dee2"/><path d="M123 147.32h15.38v49.11h-15.38z" fill="#dbe1e4"/><path d="M138.38 147.32h15.38v49.11h-15.38z" fill="#b9cdd4"/><path d="M153.75 147.32h15.38v49.11h-15.38z" fill="#99bdca"/><path d="M169.12 147.32h30.75v49.11h-30.75z" fill="#89b4c6"/><path d="M199.88 147.32h15.38v49.11h-15.38z" fill="#79abc1"/><path d="M215.25 147.32h30.75v49.11h-30.75z" fill="#89b4c6"/><path d="M246 147.32h15.38v49.11h-15.38z" fill="#79abc1"/><path d="M261.38 147.32h15.38v49.11h-15.38z" fill="#89b4c6"/><path d="M276.75 147.32h15.38v49.11h-15.38z" fill="#438ebd"/><path d="M292.12 147.32h15.38v49.11h-15.38z" fill="#79abc1"/><path d="M307.5 147.32h15.38v49.11h-15.38z" fill="#a9c5cf"/><path d="M322.88 147.32h15.38v49.11h-15.38z" fill="#d6dee2"/><path d="M338.25 147.32h30.75v49.11h-30.75z" fill="#e4e5e6"/><path d="M0 196.43h15.38v49.11h-15.38z" fill="#f1eceb"/><path d="M15.38 196.43h15.38v49.11h-15.38z" fill="#eee5e2"/><path d="M30.75 196.43h15.38v49.11h-15.38z" fill="#e9e8e8"/><path d="M46.12 196.43h15.38v49.11h-15.38z" fill="#ece1dc"/><path d="M61.5 196.43h15.38v49.11h-15.38z" fill="#eadad4"/><path d="M76.88 196.43h15.38v49.11h-15.38z" fill="#e4e5e6"/><path d="M92.25 196.43h46.12v49.11h-46.12z" fill="#a9c5cf"/><path d="M138.38 196.43h30.75v49.11h-30.75z" fill="#99bdca"/><path d="M169.12 196.43h15.38v49.11h-15.38z" fill="#89b4c6"/><path d="M184.5 196.43h30.75v49.11h-30.75z" fill="#99bdca"/><path d="M215.25 196.43h15.38v49.11h-15.38z" fill="#a9c5cf"/><path d="M230.62 196.43h15.38v49.11h-15.38z" fill="#b9cdd4"/><path d="M246 196.43h15.38v49.11h-15.38z" fill="#a9c5cf"/><path d="M261.38 196.43h15.38v49.11h-15.38z" fill="#99bdca"/><path d="M276.75 196.43h15.38v49.11h-15.38z" fill="#5698bc"/><path d="M292.12 196.43h15.38v49.11h-15.38z" fill="#89b4c6"/><path d="M307.5 196.43h15.38v49.11h-15.38z" fill="#a9c5cf"/><path d="M322.88 196.43h15.38v49.11h-15.38z" fill="#cdd9de"/><path d="M338.25 196.43h15.38v49.11h-15.38z" fill="#e9e8e8"/><path d="M353.62 196.43h15.38v49.11h-15.38z" fill="#e4e5e6"/><path d="M0 245.54h15.38v49.11h-15.38z" fill="#d8aa99"/><path d="M15.38 245.54h15.38v49.11h-15.38z" fill="#ce8972"/><path d="M30.75 245.54h15.38v49.11h-15.38z" fill="#ca7e66"/><path d="M46.12 245.54h30.75v49.11h-30.75z" fill="#d49f8c"/><path d="M76.88 245.54h15.38v49.11h-15.38z" fill="#dcb5a6"/><path d="M92.25 245.54h30.75v49.11h-30.75z" fill="#e4e5e6"/><path d="M123 245.54h15.38v49.11h-15.38z" fill="#b9cdd4"/><path d="M138.38 245.54h15.38v49.11h-15.38z" fill="#a9c5cf"/><path d="M153.75 245.54h15.38v49.11h-15.38z" fill="#99bdca"/><path d="M169.12 245.54h15.38v49.11h-15.38z" fill="#cdd9de"/><path d="M184.5 245.54h15.38v49.11h-15.38z" fill="#e9e8e8"/><path d="M199.88 245.54h15.38v49.11h-15.38z" fill="#e8d6ce"/><path d="M215.25 245.54h46.12v49.11h-46.12z" fill="#e0c0b4"/><path d="M261.38 245.54h15.38v49.11h-15.38z" fill="#e4cbc1"/><path d="M276.75 245.54h15.38v49.11h-15.38z" fill="#c8d6db"/><path d="M292.12 245.54h15.38v49.11h-15.38z" fill="#dee2e5"/><path d="M307.5 245.54h15.38v49.11h-15.38z" fill="#e4e5e6"/><path d="M322.88 245.54h15.38v49.11h-15.38z" fill="#eee5e2"/><path d="M338.25 245.54h15.38v49.11h-15.38z" fill="#e4cbc1"/><path d="M353.62 245.54h15.38v49.11h-15.38z" fill="#d8aa99"/><path d="M0 294.65h15.38v49.11h-15.38z" fill="#d49f8c"/><path d="M15.38 294.65h15.38v49.11h-15.38z" fill="#d1947f"/><path d="M30.75 294.65h15.38v49.11h-15.38z" fill="#d49f8c"/><path d="M46.12 294.65h30.75v49.11h-30.75z" fill="#d8aa99"/><path d="M76.88 294.65h15.38v49.11h-15.38z" fill="#e6cfc6"/><path d="M92.25 294.65h46.12v49.11h-46.12z" fill="#b9cdd4"/><path d="M138.38 294.65h15.38v49.11h-15.38z" fill="#a9c5cf"/><path d="M153.75 294.65h15.38v49.11h-15.38z" fill="#99bdca"/><path d="M169.12 294.65h15.38v49.11h-15.38z" fill="#a9c5cf"/><path d="M184.5 294.65h15.38v49.11h-15.38z" fill="#cdd9de"/><path d="M199.88 294.65h15.38v49.11h-15.38z" fill="#ebddd7"/><path d="M215.25 294.65h15.38v49.11h-15.38z" fill="#e0c0b4"/><path d="M230.62 294.65h15.38v49.11h-15.38z" fill="#daae9e"/><path d="M246 294.65h15.38v49.11h-15.38z" fill="#e0c0b4"/><path d="M261.38 294.65h15.38v49.11h-15.38z" fill="#eadad4"/><path d="M276.75 294.65h15.38v49.11h-15.38z" fill="#99bdca"/><path d="M292.12 294.65h15.38v49.11h-15.38z" fill="#b9cdd4"/><path d="M307.5 294.65h15.38v49.11h-15.38z" fill="#dbe1e4"/><path d="M322.88 294.65h15.38v49.11h-15.38z" fill="#e6d2c9"/><path d="M338.25 294.65h15.38v49.11h-15.38z" fill="#e2c4b9"/><path d="M353.62 294.65h15.38v49.11h-15.38z" fill="#daae9e"/><path d="M0 343.76h15.38v49.11h-15.38z" fill="#e4e5e6"/><path d="M15.38 343.76h15.38v49.11h-15.38z" fill="#f1eceb"/><path d="M30.75 343.76h15.38v49.11h-15.38z" fill="#ece1dc"/><path d="M46.12 343.76h30.75v49.11h-30.75z" fill="#e4e5e6"/><path d="M76.88 343.76h15.38v49.11h-15.38z" fill="#c8d6db"/><path d="M92.25 343.76h15.38v49.11h-15.38z" fill="#79abc1"/><path d="M107.62 343.76h15.38v49.11h-15.38z" fill="#89b4c6"/><path d="M123 343.76h15.38v49.11h-15.38z" fill="#68a2be"/><path d="M138.38 343.76h30.75v49.11h-30.75z" fill="#79abc1"/><path d="M169.12 343.76h15.38v49.11h-15.38z" fill="#5698bc"/><path d="M184.5 343.76h15.38v49.11h-15.38z" fill="#438ebd"/><path d="M199.88 343.76h15.38v49.11h-15.38z" fill="#5698bc"/><path d="M215.25 343.76h15.38v49.11h-15.38z" fill="#89b4c6"/><path d="M230.62 343.76h30.75v49.11h-30.75z" fill="#99bdca"/><path d="M261.38 343.76h15.38v49.11h-15.38z" fill="#89b4c6"/><path d="M276.75 343.76h15.38v49.11h-15.38z" fill="#438ebd"/><path d="M292.12 343.76h15.38v49.11h-15.38z" fill="#68a2be"/><path d="M307.5 343.76h15.38v49.11h-15.38z" fill="#89b4c6"/><path d="M322.88 343.76h15.38v49.11h-15.38z" fill="#a9c5cf"/><path d="M338.25 343.76h15.38v49.11h-15.38z" fill="#99bdca"/><path d="M353.62 343.76h15.38v49.11h-15.38z" fill="#d6dee2"/><path d="M0 392.87h15.38v49.11h-15.38z" fill="#c8d6db"/><path d="M15.38 392.87h15.38v49.11h-15.38z" fill="#d6dee2"/><path d="M30.75 392.87h15.38v49.11h-15.38z" fill="#b9cdd4"/><path d="M46.12 392.87h15.38v49.11h-15.38z" fill="#a9c5cf"/><path d="M61.5 392.87h30.75v49.11h-30.75z" fill="#89b4c6"/><path d="M92.25 392.87h15.38v49.11h-15.38z" fill="#3085be"/><path d="M107.62 392.87h15.38v49.11h-15.38z" fill="#438ebd"/><path d="M123 392.87h61.5v49.11h-61.5z" fill="#68a2be"/><path d="M184.5 392.87h15.38v49.11h-15.38z" fill="#5698bc"/><path d="M199.88 392.87h30.75v49.11h-30.75z" fill="#68a2be"/><path d="M230.62 392.87h15.38v49.11h-15.38z" fill="#5698bc"/><path d="M246 392.87h15.38v49.11h-15.38z" fill="#68a2be"/><path d="M261.38 392.87h15.38v49.11h-15.38z" fill="#438ebd"/><path d="M276.75 392.87h15.38v49.11h-15.38z" fill="#217abe"/><path d="M292.12 392.87h15.38v49.11h-15.38z" fill="#68a2be"/><path d="M307.5 392.87h15.38v49.11h-15.38z" fill="#79abc1"/><path d="M322.88 392.87h15.38v49.11h-15.38z" fill="#99bdca"/><path d="M338.25 392.87h30.75v49.11h-30.75z" fill="#a9c5cf"/><path d="M0 441.97h15.38v49.11h-15.38z" fill="#a9c5cf"/><path d="M15.38 441.97h15.38v49.11h-15.38z" fill="#b9cdd4"/><path d="M30.75 441.97h15.38v49.11h-15.38z" fill="#a9c5cf"/><path d="M46.12 441.97h15.38v49.11h-15.38z" fill="#d6dee2"/><path d="M61.5 441.97h30.75v49.11h-30.75z" fill="#a9c5cf"/><path d="M92.25 441.97h15.38v49.11h-15.38z" fill="#99bdca"/><path d="M107.62 441.97h46.12v49.11h-46.12z" fill="#a9c5cf"/><path d="M153.75 441.97h15.38v49.11h-15.38z" fill="#b9cdd4"/><path d="M169.12 441.97h15.38v49.11h-15.38z" fill="#a9c5cf"/><path d="M184.5 441.97h15.38v49.11h-15.38z" fill="#89b4c6"/><path d="M199.88 441.97h15.38v49.11h-15.38z" fill="#99bdca"/><path d="M215.25 441.97h15.38v49.11h-15.38z" fill="#79abc1"/><path d="M230.62 441.97h15.38v49.11h-15.38z" fill="#5698bc"/><path d="M246 441.97h30.75v49.11h-30.75z" fill="#68a2be"/><path d="M276.75 441.97h15.38v49.11h-15.38z" fill="#217abe"/><path d="M292.12 441.97h15.38v49.11h-15.38z" fill="#5698bc"/><path d="M307.5 441.97h15.38v49.11h-15.38z" fill="#89b4c6"/><path d="M322.88 441.97h30.75v49.11h-30.75z" fill="#a9c5cf"/><path d="M353.62 441.97h15.38v49.11h-15.38z" fill="#b9cdd4"/><path d="M0 491.08h15.38v49.11h-15.38z" fill="#89b4c6"/><path d="M15.38 491.08h15.38v49.11h-15.38z" fill="#99bdca"/><path d="M30.75 491.08h30.75v49.11h-30.75z" fill="#89b4c6"/><path d="M61.5 491.08h30.75v49.11h-30.75z" fill="#99bdca"/><path d="M92.25 491.08h30.75v49.11h-30.75z" fill="#89b4c6"/><path d="M123 491.08h30.75v49.11h-30.75z" fill="#99bdca"/><path d="M153.75 491.08h15.38v49.11h-15.38z" fill="#c8d6db"/><path d="M169.12 491.08h15.38v49.11h-15.38z" fill="#a9c5cf"/><path d="M184.5 491.08h46.12v49.11h-46.12z" fill="#99bdca"/><path d="M230.62 491.08h30.75v49.11h-30.75z" fill="#89b4c6"/><path d="M261.38 491.08h15.38v49.11h-15.38z" fill="#79abc1"/><path d="M276.75 491.08h15.38v49.11h-15.38z" fill="#68a2be"/><path d="M292.12 491.08h15.38v49.11h-15.38z" fill="#99bdca"/><path d="M307.5 491.08h15.38v49.11h-15.38z" fill="#b9cdd4"/><path d="M322.88 491.08h15.38v49.11h-15.38z" fill="#c8d6db"/><path d="M338.25 491.08h30.75v49.11h-30.75z" fill="#a9c5cf"/><path d="M0 540.19h15.38v49.11h-15.38z" fill="#89b4c6"/><path d="M15.38 540.19h46.12v49.11h-46.12z" fill="#99bdca"/><path d="M61.5 540.19h30.75v49.11h-30.75z" fill="#5698bc"/><path d="M92.25 540.19h46.12v49.11h-46.12z" fill="#68a2be"/><path d="M138.38 540.19h15.38v49.11h-15.38z" fill="#79abc1"/><path d="M153.75 540.19h15.38v49.11h-15.38z" fill="#89b4c6"/><path d="M169.12 540.19h15.38v49.11h-15.38z" fill="#79abc1"/><path d="M184.5 540.19h15.38v49.11h-15.38z" fill="#b9cdd4"/><path d="M199.88 540.19h15.38v49.11h-15.38z" fill="#99bdca"/><path d="M215.25 540.19h15.38v49.11h-15.38z" fill="#68a2be"/><path d="M230.62 540.19h15.38v49.11h-15.38z" fill="#438ebd"/><path d="M246 540.19h15.38v49.11h-15.38z" fill="#68a2be"/><path d="M261.38 540.19h15.38v49.11h-15.38z" fill="#438ebd"/><path d="M276.75 540.19h30.75v49.11h-30.75z" fill="#5698bc"/><path d="M307.5 540.19h30.75v49.11h-30.75z" fill="#68a2be"/><path d="M338.25 540.19h15.38v49.11h-15.38z" fill="#5698bc"/><path d="M353.62 540.19h15.38v49.11h-15.38z" fill="#99bdca"/>
<path class="g" d="M0 0v589.3M15.38 0v589.3M30.75 0v589.3M46.12 0v589.3M61.5 0v589.3M76.88 0v589.3M92.25 0v589.3M107.62 0v589.3M123 0v589.3M138.38 0v589.3M153.75 0v589.3M169.12 0v589.3M184.5 0v589.3M199.88 0v589.3M215.25 0v589.3M230.62 0v589.3M246 0v589.3M261.38 0v589.3M276.75 0v589.3M292.12 0v589.3M307.5 0v589.3M322.88 0v589.3M338.25 0v589.3M353.62 0v589.3M369 0v589.3M0 0h369M0 49.11h369M0 98.22h369M0 147.32h369M0 196.43h369M0 245.54h369M0 294.65h369M0 343.76h369M0 392.87h369M0 441.97h369M0 491.08h369M0 540.19h369M0 589.3h369"/>
<path class="k" d="M-6 49.11h6M-6 98.22h6M-6 147.32h6M-6 196.43h6M-6 245.54h6M-6 294.65h6M-6 343.76h6M-6 392.87h6M-6 441.97h6M-6 491.08h6M-6 540.19h6M-6 589.3h6M0 589.3v6M46.12 589.3v6M92.25 589.3v6M138.38 589.3v6M184.5 589.3v6M230.62 589.3v6M276.75 589.3v6M322.88 589.3v6"/>
</g>
<text class="t" x="1179.5" y="53.6">ERA5</text>
<g transform="translate(1400.5 55.2)">
<path d="M0 0h15.38v49.11h-15.38z" fill="#d1947f"/><path d="M15.38 0h15.38v49.11h-15.38z" fill="#c6725a"/><path d="M30.75 0h15.38v49.11h-15.38z" fill="#d1947f"/><path d="M46.12 0h15.38v49.11h-15.38z" fill="#e4cbc1"/><path d="M61.5 0h15.38v49.11h-15.38z" fill="#e0c0b4"/><path d="M76.88 0h15.38v49.11h-15.38z" fill="#dcb5a6"/><path d="M92.25 0h15.38v49.11h-15.38z" fill="#e4cbc1"/><path d="M107.62 0h15.38v49.11h-15.38z" fill="#dcb5a6"/><path d="M123 0h15.38v49.11h-15.38z" fill="#e0c0b4"/><path d="M138.38 0h15.38v49.11h-15.38z" fill="#e8d6ce"/><path d="M153.75 0h15.38v49.11h-15.38z" fill="#dcb5a6"/><path d="M169.12 0h46.12v49.11h-46.12z" fill="#d49f8c"/><path d="M215.25 0h15.38v49.11h-15.38z" fill="#e0c0b4"/><path d="M230.62 0h15.38v49.11h-15.38z" fill="#f1eceb"/><path d="M246 0h15.38v49.11h-15.38z" fill="#d49f8c"/><path d="M261.38 0h15.38v49.11h-15.38z" fill="#d1947f"/><path d="M276.75 0h15.38v49.11h-15.38z" fill="#d49f8c"/><path d="M292.12 0h15.38v49.11h-15.38z" fill="#dcb5a6"/><path d="M307.5 0h15.38v49.11h-15.38z" fill="#debcaf"/><path d="M322.88 0h15.38v49.11h-15.38z" fill="#f1eceb"/><path d="M338.25 0h15.38v49.11h-15.38z" fill="#d49f8c"/><path d="M353.62 0h15.38v49.11h-15.38z" fill="#d1947f"/><path d="M0 49.11h15.38v49.11h-15.38z" fill="#e0c0b4"/><path d="M15.38 49.11h15.38v49.11h-15.38z" fill="#e2c4b9"/><path d="M30.75 49.11h15.38v49.11h-15.38z" fill="#debcaf"/><path d="M46.12 49.11h15.38v49.11h-15.38z" fill="#ebddd7"/><path d="M61.5 49.11h15.38v49.11h-15.38z" fill="#d29884"/><path d="M76.88 49.11h30.75v49.11h-30.75z" fill="#d1947f"/><path d="M107.62 49.11h15.38v49.11h-15.38z" fill="#d49f8c"/><path d="M123 49.11h15.38v49.11h-15.38z" fill="#d8aa99"/><path d="M138.38 49.11h15.38v49.11h-15.38z" fill="#e9e8e8"/><path d="M153.75 49.11h15.38v49.11h-15.38z" fill="#d8aa99"/><path d="M169.12 49.11h15.38v49.11h-15.38z" fill="#d49f8c"/><path d="M184.5 49.11h15.38v49.11h-15.38z" fill="#e0c0b4"/><path d="M199.88 49.11h15.38v49.11h-15.38z" fill="#dcb5a6"/><path d="M215.25 49.11h15.38v49.11h-15.38z" fill="#e2c4b9"/><path d="M230.62 49.11h15.38v49.11h-15.38z" fill="#dee2e5"/><path d="M246 49.11h15.38v49.11h-15.38z" fill="#ece1dc"/><path d="M261.38 49.11h46.12v49.11h-46.12z" fill="#e2c4b9"/><path d="M307.5 49.11h15.38v49.11h-15.38z" fill="#eadad4"/><path d="M322.88 49.11h15.38v49.11h-15.38z" fill="#ebddd7"/><path d="M338.25 49.11h30.75v49.11h-30.75z" fill="#e0c0b4"/><path d="M0 98.22h15.38v49.11h-15.38z" fill="#e4cbc1"/><path d="M15.38 98.22h15.38v49.11h-15.38z" fill="#ebddd7"/><path d="M30.75 98.22h15.38v49.11h-15.38z" fill="#eee5e2"/><path d="M46.12 98.22h15.38v49.11h-15.38z" fill="#dbe1e4"/><path d="M61.5 98.22h15.38v49.11h-15.38z" fill="#eee5e2"/><path d="M76.88 98.22h15.38v49.11h-15.38z" fill="#e8d6ce"/><path d="M92.25 98.22h15.38v49.11h-15.38z" fill="#f1eceb"/><path d="M107.62 98.22h30.75v49.11h-30.75z" fill="#ebddd7"/><path d="M138.38 98.22h15.38v49.11h-15.38z" fill="#bfd0d7"/><path d="M153.75 98.22h15.38v49.11h-15.38z" fill="#dbe1e4"/><path d="M169.12 98.22h15.38v49.11h-15.38z" fill="#cdd9de"/><path d="M184.5 98.22h30.75v49.11h-30.75z" fill="#b9cdd4"/><path d="M215.25 98.22h15.38v49.11h-15.38z" fill="#b3cad2"/><path d="M230.62 98.22h15.38v49.11h-15.38z" fill="#99bdca"/><path d="M246 98.22h15.38v49.11h-15.38z" fill="#cdd9de"/><path d="M261.38 98.22h15.38v49.11h-15.38z" fill="#dbe1e4"/><path d="M276.75 98.22h15.38v49.11h-15.38z" fill="#eee5e2"/><path d="M292.12 98.22h15.38v49.11h-15.38z" fill="#ede3df"/><path d="M307.5 98.22h15.38v49.11h-15.38z" fill="#efe8e5"/><path d="M322.88 98.22h15.38v49.11h-15.38z" fill="#ece9e9"/><path d="M338.25 98.22h15.38v49.11h-15.38z" fill="#ebddd7"/><path d="M353.62 98.22h15.38v49.11h-15.38z" fill="#e6d2c9"/><path d="M0 147.32h15.38v49.11h-15.38z" fill="#d49f8c"/><path d="M15.38 147.32h15.38v49.11h-15.38z" fill="#d29884"/><path d="M30.75 147.32h15.38v49.11h-15.38z" fill="#d49f8c"/><path d="M46.12 147.32h15.38v49.11h-15.38z" fill="#dcb5a6"/><path d="M61.5 147.32h15.38v49.11h-15.38z" fill="#d29884"/><path d="M76.88 147.32h30.75v49.11h-30.75z" fill="#cb826b"/><path d="M107.62 147.32h15.38v49.11h-15.38z" fill="#ce8972"/><path d="M123 147.32h15.38v49.11h-15.38z" fill="#d1947f"/><path d="M138.38 147.32h15.38v49.11h-15.38z" fill="#f1eceb"/><path d="M153.75 147.32h15.38v49.11h-15.38z" fill="#ebddd7"/><path d="M169.12 147.32h15.38v49.11h-15.38z" fill="#ece1dc"/><path d="M184.5 147.32h15.38v49.11h-15.38z" fill="#eee5e2"/><path d="M199.88 147.32h15.38v49.11h-15.38z" fill="#f1eceb"/><path d="M215.25 147.32h15.38v49.11h-15.38z" fill="#dee2e5"/><path d="M230.62 147.32h15.38v49.11h-15.38z" fill="#c8d6db"/><path d="M246 147.32h15.38v49.11h-15.38z" fill="#cdd9de"/><path d="M261.38 147.32h15.38v49.11h-15.38z" fill="#e9e8e8"/><path d="M276.75 147.32h15.38v49.11h-15.38z" fill="#f1eceb"/><path d="M292.12 147.32h15.38v49.11h-15.38z" fill="#e0c0b4"/><path d="M307.5 147.32h15.38v49.11h-15.38z" fill="#debcaf"/><path d="M322.88 147.32h15.38v49.11h-15.38z" fill="#e6d2c9"/><path d="M338.25 147.32h30.75v49.11h-30.75z" fill="#daae9e"/><path d="M0 196.43h15.38v49.11h-15.38z" fill="#d49f8c"/><path d="M15.38 196.43h15.38v49.11h-15.38z" fill="#d29884"/><path d="M30.75 196.43h15.38v49.11h-15.38z" fill="#debcaf"/><path d="M46.12 196.43h15.38v49.11h-15.38z" fill="#f1eceb"/><path d="M61.5 196.43h15.38v49.11h-15.38z" fill="#e4cbc1"/><path d="M76.88 196.43h15.38v49.11h-15.38z" fill="#e2c4b9"/><path d="M92.25 196.43h15.38v49.11h-15.38z" fill="#debcaf"/><path d="M107.62 196.43h15.38v49.11h-15.38z" fill="#dcb5a6"/><path d="M123 196.43h15.38v49.11h-15.38z" fill="#e6d2c9"/><path d="M138.38 196.43h15.38v49.11h-15.38z" fill="#b9cdd4"/><path d="M153.75 196.43h15.38v49.11h-15.38z" fill="#bfd0d7"/><path d="M169.12 196.43h30.75v49.11h-30.75z" fill="#c8d6db"/><path d="M199.88 196.43h15.38v49.11h-15.38z" fill="#cdd9de"/><path d="M215.25 196.43h15.38v49.11h-15.38z" fill="#d0dbdf"/><path d="M230.62 196.43h15.38v49.11h-15.38z" fill="#89b4c6"/><path d="M246 196.43h15.38v49.11h-15.38z" fill="#b9cdd4"/><path d="M261.38 196.43h15.38v49.11h-15.38z" fill="#d6dee2"/><path d="M276.75 196.43h15.38v49.11h-15.38z" fill="#e9e8e8"/><path d="M292.12 196.43h15.38v49.11h-15.38z" fill="#eadad4"/><path d="M307.5 196.43h15.38v49.11h-15.38z" fill="#e6d2c9"/><path d="M322.88 196.43h15.38v49.11h-15.38z" fill="#ece1dc"/><path d="M338.25 196.43h15.38v49.11h-15.38z" fill="#d7a694"/><path d="M353.62 196.43h15.38v49.11h-15.38z" fill="#d49f8c"/><path d="M0 245.54h15.38v49.11h-15.38z" fill="#d0907a"/><path d="M15.38 245.54h15.38v49.11h-15.38z" fill="#c2674e"/><path d="M30.75 245.54h15.38v49.11h-15.38z" fill="#c6725a"/><path d="M46.12 245.54h15.38v49.11h-15.38z" fill="#e8d6ce"/><path d="M61.5 245.54h15.38v49.11h-15.38z" fill="#daae9e"/><path d="M76.88 245.54h15.38v49.11h-15.38z" fill="#d49f8c"/><path d="M92.25 245.54h30.75v49.11h-30.75z" fill="#d8aa99"/><path d="M123 245.54h15.38v49.11h-15.38z" fill="#e8d6ce"/><path d="M138.38 245.54h15.38v49.11h-15.38z" fill="#9fc0cc"/><path d="M153.75 245.54h15.38v49.11h-15.38z" fill="#bfd0d7"/><path d="M169.12 245.54h15.38v49.11h-15.38z" fill="#efe8e5"/><path d="M184.5 245.54h15.38v49.11h-15.38z" fill="#e8d6ce"/><path d="M199.88 245.54h15.38v49.11h-15.38z" fill="#daae9e"/><path d="M215.25 245.54h15.38v49.11h-15.38z" fill="#d8aa99"/><path d="M230.62 245.54h15.38v49.11h-15.38z" fill="#f1eceb"/><path d="M246 245.54h15.38v49.11h-15.38z" fill="#dcb5a6"/><path d="M261.38 245.54h15.38v49.11h-15.38z" fill="#d29884"/><path d="M276.75 245.54h15.38v49.11h-15.38z" fill="#ce8972"/><path d="M292.12 245.54h15.38v49.11h-15.38z" fill="#ca7e66"/><path d="M307.5 245.54h15.38v49.11h-15.38z" fill="#d1947f"/><path d="M322.88 245.54h15.38v49.11h-15.38z" fill="#efe8e5"/><path d="M338.25 245.54h15.38v49.11h-15.38z" fill="#dcb5a6"/><path d="M353.62 245.54h15.38v49.11h-15.38z" fill="#d0907a"/><path d="M0 294.65h15.38v49.11h-15.38z" fill="#c6725a"/><path d="M15.38 294.65h15.38v49.11h-15.38z" fill="#c2674e"/><path d="M30.75 294.65h15.38v49.11h-15.38z" fill="#cb826b"/><path d="M46.12 294.65h15.38v49.11h-15.38z" fill="#e6d2c9"/><path d="M61.5 294.65h30.75v49.11h-30.75z" fill="#d49f8c"/><path d="M92.25 294.65h30.75v49.11h-30.75z" fill="#d29884"/><path d="M123 294.65h15.38v49.11h-15.38z" fill="#debcaf"/><path d="M138.38 294.65h15.38v49.11h-15.38z" fill="#b9cdd4"/><path d="M153.75 294.65h15.38v49.11h-15.38z" fill="#d6dee2"/><path d="M169.12 294.65h15.38v49.11h-15.38z" fill="#ece1dc"/><path d="M184.5 294.65h15.38v49.11h-15.38z" fill="#e6d2c9"/><path d="M199.88 294.65h30.75v49.11h-30.75z" fill="#d49f8c"/><path d="M230.62 294.65h15.38v49.11h-15.38z" fill="#e4cbc1"/><path d="M246 294.65h15.38v49.11h-15.38z" fill="#d8aa99"/><path d="M261.38 294.65h30.75v49.11h-30.75z" fill="#d0907a"/><path d="M292.12 294.65h15.38v49.11h-15.38z" fill="#ce8972"/><path d="M307.5 294.65h15.38v49.11h-15.38z" fill="#d49f8c"/><path d="M322.88 294.65h15.38v49.11h-15.38z" fill="#eadad4"/><path d="M338.25 294.65h15.38v49.11h-15.38z" fill="#d49f8c"/><path d="M353.62 294.65h15.38v49.11h-15.38z" fill="#cb826b"/><path d="M0 343.76h15.38v49.11h-15.38z" fill="#ce8972"/><path d="M15.38 343.76h30.75v49.11h-30.75z" fill="#cb826b"/><path d="M46.12 343.76h15.38v49.11h-15.38z" fill="#e2c4b9"/><path d="M61.5 343.76h15.38v49.11h-15.38z" fill="#d49f8c"/><path d="M76.88 343.76h15.38v49.11h-15.38z" fill="#d29884"/><path d="M92.25 343.76h15.38v49.11h-15.38z" fill="#dcb5a6"/><path d="M107.62 343.76h15.38v49.11h-15.38z" fill="#e2c4b9"/><path d="M123 343.76h15.38v49.11h-15.38z" fill="#ece1dc"/><path d="M138.38 343.76h15.38v49.11h-15.38z" fill="#c8d6db"/><path d="M153.75 343.76h15.38v49.11h-15.38z" fill="#efe8e5"/><path d="M169.12 343.76h46.12v49.11h-46.12z" fill="#d6dee2"/><path d="M215.25 343.76h15.38v49.11h-15.38z" fill="#e8d6ce"/><path d="M230.62 343.76h15.38v49.11h-15.38z" fill="#e9e8e8"/><path d="M246 343.76h15.38v49.11h-15.38z" fill="#e2c4b9"/><path d="M261.38 343.76h15.38v49.11h-15.38z" fill="#debcaf"/><path d="M276.75 343.76h15.38v49.11h-15.38z" fill="#e2c4b9"/><path d="M292.12 343.76h15.38v49.11h-15.38z" fill="#e0c0b4"/><path d="M307.5 343.76h15.38v49.11h-15.38z" fill="#debcaf"/><path d="M322.88 343.76h15.38v49.11h-15.38z" fill="#e8d6ce"/><path d="M338.25 343.76h15.38v49.11h-15.38z" fill="#e2c4b9"/><path d="M353.62 343.76h15.38v49.11h-15.38z" fill="#d1947f"/><path d="M0 392.87h15.38v49.11h-15.38z" fill="#ce8972"/><path d="M15.38 392.87h15.38v49.11h-15.38z" fill="#ca7e66"/><path d="M30.75 392.87h15.38v49.11h-15.38z" fill="#daae9e"/><path d="M46.12 392.87h15.38v49.11h-15.38z" fill="#efe8e5"/><path d="M61.5 392.87h15.38v49.11h-15.38z" fill="#e8d6ce"/><path d="M76.88 392.87h15.38v49.11h-15.38z" fill="#debcaf"/><path d="M92.25 392.87h15.38v49.11h-15.38z" fill="#e2c4b9"/><path d="M107.62 392.87h15.38v49.11h-15.38z" fill="#dcb5a6"/><path d="M123 392.87h15.38v49.11h-15.38z" fill="#debcaf"/><path d="M138.38 392.87h15.38v49.11h-15.38z" fill="#ece9e9"/><path d="M153.75 392.87h15.38v49.11h-15.38z" fill="#debcaf"/><path d="M169.12 392.87h15.38v49.11h-15.38z" fill="#e0c0b4"/><path d="M184.5 392.87h15.38v49.11h-15.38z" fill="#e9e8e8"/><path d="M199.88 392.87h15.38v49.11h-15.38z" fill="#f1eceb"/><path d="M215.25 392.87h15.38v49.11h-15.38z" fill="#cdd9de"/><path d="M230.62 392.87h15.38v49.11h-15.38z" fill="#5698bc"/><path d="M246 392.87h15.38v49.11h-15.38z" fill="#c8d6db"/><path d="M261.38 392.87h15.38v49.11h-15.38z" fill="#cdd9de"/><path d="M276.75 392.87h15.38v49.11h-15.38z" fill="#dbe1e4"/><path d="M292.12 392.87h15.38v49.11h-15.38z" fill="#e6cfc6"/><path d="M307.5 392.87h15.38v49.11h-15.38z" fill="#eadad4"/><path d="M322.88 392.87h15.38v49.11h-15.38z" fill="#dbe1e4"/><path d="M338.25 392.87h15.38v49.11h-15.38z" fill="#daae9e"/><path d="M353.62 392.87h15.38v49.11h-15.38z" fill="#d1947f"/><path d="M0 441.97h15.38v49.11h-15.38z" fill="#debcaf"/><path d="M15.38 441.97h15.38v49.11h-15.38z" fill="#daae9e"/><path d="M30.75 441.97h15.38v49.11h-15.38z" fill="#e2c4b9"/><path d="M46.12 441.97h15.38v49.11h-15.38z" fill="#ece1dc"/><path d="M61.5 441.97h15.38v49.11h-15.38z" fill="#e4cbc1"/><path d="M76.88 441.97h30.75v49.11h-30.75z" fill="#daae9e"/><path d="M107.62 441.97h15.38v49.11h-15.38z" fill="#d29884"/><path d="M123 441.97h15.38v49.11h-15.38z" fill="#d8aa99"/><path d="M138.38 441.97h15.38v49.11h-15.38z" fill="#eadad4"/><path d="M153.75 441.97h15.38v49.11h-15.38z" fill="#daae9e"/><path d="M169.12 441.97h15.38v49.11h-15.38z" fill="#dcb5a6"/><path d="M184.5 441.97h30.75v49.11h-30.75z" fill="#e2c4b9"/><path d="M215.25 441.97h15.38v49.11h-15.38z" fill="#dbe1e4"/><path d="M230.62 441.97h15.38v49.11h-15.38z" fill="#5698bc"/><path d="M246 441.97h15.38v49.11h-15.38z" fill="#b9cdd4"/><path d="M261.38 441.97h15.38v49.11h-15.38z" fill="#dbe1e4"/><path d="M276.75 441.97h15.38v49.11h-15.38z" fill="#cdd9de"/><path d="M292.12 441.97h15.38v49.11h-15.38z" fill="#eadad4"/><path d="M307.5 441.97h15.38v49.11h-15.38z" fill="#e8d6ce"/><path d="M322.88 441.97h15.38v49.11h-15.38z" fill="#dee2e5"/><path d="M338.25 441.97h15.38v49.11h-15.38z" fill="#e6cfc6"/><path d="M353.62 441.97h15.38v49.11h-15.38z" fill="#dcb5a6"/><path d="M0 491.08h15.38v49.11h-15.38z" fill="#daae9e"/><path d="M15.38 491.08h15.38v49.11h-15.38z" fill="#d8aa99"/><path d="M30.75 491.08h15.38v49.11h-15.38z" fill="#e2c4b9"/><path d="M46.12 491.08h15.38v49.11h-15.38z" fill="#dee2e5"/><path d="M61.5 491.08h15.38v49.11h-15.38z" fill="#e6cfc6"/><path d="M76.88 491.08h15.38v49.11h-15.38z" fill="#e2c4b9"/><path d="M92.25 491.08h30.75v49.11h-30.75z" fill="#e4cbc1"/><path d="M123 491.08h15.38v49.11h-15.38z" fill="#e8d6ce"/><path d="M138.38 491.08h15.38v49.11h-15.38z" fill="#ece9e9"/><path d="M153.75 491.08h30.75v49.11h-30.75z" fill="#daae9e"/><path d="M184.5 491.08h15.38v49.11h-15.38z" fill="#debcaf"/><path d="M199.88 491.08h15.38v49.11h-15.38z" fill="#d8aa99"/><path d="M215.25 491.08h15.38v49.11h-15.38z" fill="#e2c4b9"/><path d="M230.62 491.08h15.38v49.11h-15.38z" fill="#99bdca"/><path d="M246 491.08h15.38v49.11h-15.38z" fill="#dee2e5"/><path d="M261.38 491.08h15.38v49.11h-15.38z" fill="#ebddd7"/><path d="M276.75 491.08h15.38v49.11h-15.38z" fill="#eadad4"/><path d="M292.12 491.08h15.38v49.11h-15.38z" fill="#dcb5a6"/><path d="M307.5 491.08h15.38v49.11h-15.38z" fill="#debcaf"/><path d="M322.88 491.08h15.38v49.11h-15.38z" fill="#e2c4b9"/><path d="M338.25 491.08h15.38v49.11h-15.38z" fill="#dcb5a6"/><path d="M353.62 491.08h15.38v49.11h-15.38z" fill="#d0907a"/><path d="M0 540.19h15.38v49.11h-15.38z" fill="#e6d2c9"/><path d="M15.38 540.19h30.75v49.11h-30.75z" fill="#e2c4b9"/><path d="M46.12 540.19h15.38v49.11h-15.38z" fill="#f1eceb"/><path d="M61.5 540.19h15.38v49.11h-15.38z" fill="#e4e5e6"/><path d="M76.88 540.19h15.38v49.11h-15.38z" fill="#ece1dc"/><path d="M92.25 540.19h15.38v49.11h-15.38z" fill="#ebddd7"/><path d="M107.62 540.19h15.38v49.11h-15.38z" fill="#e8d6ce"/><path d="M123 540.19h15.38v49.11h-15.38z" fill="#ece1dc"/><path d="M138.38 540.19h15.38v49.11h-15.38z" fill="#dbe1e4"/><path d="M153.75 540.19h15.38v49.11h-15.38z" fill="#dcb5a6"/><path d="M169.12 540.19h15.38v49.11h-15.38z" fill="#e0c0b4"/><path d="M184.5 540.19h15.38v49.11h-15.38z" fill="#d8aa99"/><path d="M199.88 540.19h15.38v49.11h-15.38z" fill="#e2c4b9"/><path d="M215.25 540.19h15.38v49.11h-15.38z" fill="#f1eceb"/><path d="M230.62 540.19h15.38v49.11h-15.38z" fill="#a9c5cf"/><path d="M246 540.19h15.38v49.11h-15.38z" fill="#e4cbc1"/><path d="M261.38 540.19h15.38v49.11h-15.38z" fill="#eadad4"/><path d="M276.75 540.19h30.75v49.11h-30.75z" fill="#debcaf"/><path d="M307.5 540.19h15.38v49.11h-15.38z" fill="#e2c4b9"/><path d="M322.88 540.19h15.38v49.11h-15.38z" fill="#e9e8e8"/><path d="M338.25 540.19h15.38v49.11h-15.38z" fill="#ebddd7"/><path d="M353.62 540.19h15.38v49.11h-15.38z" fill="#e0c0b4"/>
<path class="g" d="M0 0v589.3M15.38 0v589.3M30.75 0v589.3M46.12 0v589.3M61.5 0v589.3M76.88 0v589.3M92.25 0v589.3M107.62 0v589.3M123 0v589.3M138.38 0v589.3M153.75 0v589.3M169.12 0v589.3M184.5 0v589.3M199.88 0v589.3M215.25 0v589.3M230.62 0v589.3M246 0v589.3M261.38 0v589.3M276.75 0v589.3M292.12 0v589.3M307.5 0v589.3M322.88 0v589.3M338.25 0v589.3M353.62 0v589.3M369 0v589.3M0 0h369M0 49.11h369M0 98.22h369M0 147.32h369M0 196.43h369M0 245.54h369M0 294.65h369M0 343.76h369M0 392.87h369M0 441.97h369M0 491.08h369M0 540.19h369M0 589.3h369"/>
<path class="k" d="M-6 49.11h6M-6 98.22h6M-6 147.32h6M-6 196.43h6M-6 245.54h6M-6 294.65h6M-6 343.76h6M-6 392.87h6M-6 441.97h6M-6 491.08h6M-6 540.19h6M-6 589.3h6M0 589.3v6M46.12 589.3v6M92.25 589.3v6M138.38 589.3v6M184.5 589.3v6M230.62 589.3v6M276.75 589.3v6M322.88 589.3v6"/>
</g>
<text class="t" x="1585" y="53.6">CFSv2</text>
<g transform="translate(995 674.8)">
<path d="M0 0h15.38v49.11h-15.38z" fill="#83b0c4"/><path d="M15.38 0h15.38v49.11h-15.38z" fill="#8fb8c7"/><path d="M30.75 0h15.38v49.11h-15.38z" fill="#79abc1"/><path d="M46.12 0h15.38v49.11h-15.38z" fill="#68a2be"/><path d="M61.5 0h15.38v49.11h-15.38z" fill="#3085be"/><path d="M76.88 0h30.75v49.11h-30.75z" fill="#1874be"/><path d="M107.62 0h30.75v49.11h-30.75z" fill="#3085be"/><path d="M138.38 0h15.38v49.11h-15.38z" fill="#4e94bc"/><path d="M153.75 0h15.38v49.11h-15.38z" fill="#5698bc"/><path d="M169.12 0h15.38v49.11h-15.38z" fill="#89b4c6"/><path d="M184.5 0h15.38v49.11h-15.38z" fill="#8fb8c7"/><path d="M199.88 0h15.38v49.11h-15.38z" fill="#89b4c6"/><path d="M215.25 0h15.38v49.11h-15.38z" fill="#83b0c4"/><path d="M230.62 0h15.38v49.11h-15.38z" fill="#a3c2cd"/><path d="M246 0h15.38v49.11h-15.38z" fill="#b9cdd4"/><path d="M261.38 0h15.38v49.11h-15.38z" fill="#c2d2d8"/><path d="M276.75 0h15.38v49.11h-15.38z" fill="#a9c5cf"/><path d="M292.12 0h15.38v49.11h-15.38z" fill="#9fc0cc"/><path d="M307.5 0h15.38v49.11h-15.38z" fill="#a3c2cd"/><path d="M322.88 0h15.38v49.11h-15.38z" fill="#79abc1"/><path d="M338.25 0h15.38v49.11h-15.38z" fill="#7fafc3"/><path d="M353.62 0h15.38v49.11h-15.38z" fill="#79abc1"/><path d="M0 49.11h15.38v49.11h-15.38z" fill="#79abc1"/><path d="M15.38 49.11h15.38v49.11h-15.38z" fill="#68a2be"/><path d="M30.75 49.11h15.38v49.11h-15.38z" fill="#79abc1"/><path d="M46.12 49.11h15.38v49.11h-15.38z" fill="#6ea5c0"/><path d="M61.5 49.11h15.38v49.11h-15.38z" fill="#68a2be"/><path d="M76.88 49.11h15.38v49.11h-15.38z" fill="#5698bc"/><path d="M92.25 49.11h15.38v49.11h-15.38z" fill="#68a2be"/><path d="M107.62 49.11h15.38v49.11h-15.38z" fill="#5d9cbd"/><path d="M123 49.11h15.38v49.11h-15.38z" fill="#6ea5c0"/><path d="M138.38 49.11h15.38v49.11h-15.38z" fill="#4e94bc"/><path d="M153.75 49.11h30.75v49.11h-30.75z" fill="#8fb8c7"/><path d="M184.5 49.11h15.38v49.11h-15.38z" fill="#7fafc3"/><path d="M199.88 49.11h15.38v49.11h-15.38z" fill="#79abc1"/><path d="M215.25 49.11h15.38v49.11h-15.38z" fill="#72a7c0"/><path d="M230.62 49.11h15.38v49.11h-15.38z" fill="#5698bc"/><path d="M246 49.11h15.38v49.11h-15.38z" fill="#3889be"/><path d="M261.38 49.11h30.75v49.11h-30.75z" fill="#68a2be"/><path d="M292.12 49.11h15.38v49.11h-15.38z" fill="#6ea5c0"/><path d="M307.5 49.11h15.38v49.11h-15.38z" fill="#5d9cbd"/><path d="M322.88 49.11h30.75v49.11h-30.75z" fill="#72a7c0"/><path d="M353.62 49.11h15.38v49.11h-15.38z" fill="#5698bc"/><path d="M0 98.22h15.38v49.11h-15.38z" fill="#5698bc"/><path d="M15.38 98.22h15.38v49.11h-15.38z" fill="#3b8bbd"/><path d="M30.75 98.22h15.38v49.11h-15.38z" fill="#3085be"/><path d="M46.12 98.22h15.38v49.11h-15.38z" fill="#2a81be"/><path d="M61.5 98.22h30.75v49.11h-30.75z" fill="#1b76be"/><path d="M92.25 98.22h15.38v49.11h-15.38z" fill="#3085be"/><path d="M107.62 98.22h15.38v49.11h-15.38z" fill="#5698bc"/><path d="M123 98.22h15.38v49.11h-15.38z" fill="#609ebe"/><path d="M138.38 98.22h15.38v49.11h-15.38z" fill="#4b92bd"/><path d="M153.75 98.22h15.38v49.11h-15.38z" fill="#438ebd"/><path d="M169.12 98.22h15.38v49.11h-15.38z" fill="#1874be"/><path d="M184.5 98.22h30.75v49.11h-30.75z" fill="#1b76be"/><path d="M215.25 98.22h15.38v49.11h-15.38z" fill="#1874be"/><path d="M230.62 98.22h15.38v49.11h-15.38z" fill="#217abe"/><path d="M246 98.22h15.38v49.11h-15.38z" fill="#277fbe"/><path d="M261.38 98.22h15.38v49.11h-15.38z" fill="#3b8bbd"/><path d="M276.75 98.22h30.75v49.11h-30.75z" fill="#5698bc"/><path d="M307.5 98.22h15.38v49.11h-15.38z" fill="#4e94bc"/><path d="M322.88 98.22h15.38v49.11h-15.38z" fill="#5d9cbd"/><path d="M338.25 98.22h15.38v49.11h-15.38z" fill="#4e94bc"/><path d="M353.62 98.22h15.38v49.11h-15.38z" fill="#438ebd"/><path d="M0 147.32h15.38v49.11h-15.38z" fill="#5698bc"/><path d="M15.38 147.32h15.38v49.11h-15.38z" fill="#609ebe"/><path d="M30.75 147.32h15.38v49.11h-15.38z" fill="#6ea5c0"/><path d="M46.12 147.32h15.38v49.11h-15.38z" fill="#68a2be"/><path d="M61.5 147.32h15.38v49.11h-15.38z" fill="#5698bc"/><path d="M76.88 147.32h15.38v49.11h-15.38z" fill="#5d9cbd"/><path d="M92.25 147.32h15.38v49.11h-15.38z" fill="#7fafc3"/><path d="M107.62 147.32h15.38v49.11h-15.38z" fill="#89b4c6"/><path d="M123 147.32h15.38v49.11h-15.38z" fill="#8fb8c7"/><path d="M138.38 147.32h15.38v49.11h-15.38z" fill="#4e94bc"/><path d="M153.75 147.32h15.38v49.11h-15.38z" fill="#3889be"/><path d="M169.12 147.32h15.38v49.11h-15.38z" fill="#1270be"/><path d="M184.5 147.32h15.38v49.11h-15.38z" fill="#1369bf"/><path d="M199.88 147.32h15.38v49.11h-15.38z" fill="#136bbe"/><path d="M215.25 147.32h15.38v49.11h-15.38z" fill="#1369bf"/><path d="M230.62 147.32h15.38v49.11h-15.38z" fill="#277fbe"/><path d="M246 147.32h15.38v49.11h-15.38z" fill="#1b76be"/><path d="M261.38 147.32h15.38v49.11h-15.38z" fill="#4b92bd"/><path d="M276.75 147.32h15.38v49.11h-15.38z" fill="#5698bc"/><path d="M292.12 147.32h15.38v49.11h-15.38z" fill="#5d9cbd"/><path d="M307.5 147.32h15.38v49.11h-15.38z" fill="#68a2be"/><path d="M322.88 147.32h15.38v49.11h-15.38z" fill="#5d9cbd"/><path d="M338.25 147.32h15.38v49.11h-15.38z" fill="#5698bc"/><path d="M353.62 147.32h15.38v49.11h-15.38z" fill="#438ebd"/><path d="M0 196.43h15.38v49.11h-15.38z" fill="#2a81be"/><path d="M15.38 196.43h15.38v49.11h-15.38z" fill="#277fbe"/><path d="M30.75 196.43h15.38v49.11h-15.38z" fill="#1874be"/><path d="M46.12 196.43h15.38v49.11h-15.38z" fill="#1b76be"/><path d="M61.5 196.43h15.38v49.11h-15.38z" fill="#217abe"/><path d="M76.88 196.43h15.38v49.11h-15.38z" fill="#1874be"/><path d="M92.25 196.43h30.75v49.11h-30.75z" fill="#3085be"/><path d="M123 196.43h15.38v49.11h-15.38z" fill="#277fbe"/><path d="M138.38 196.43h15.38v49.11h-15.38z" fill="#1270be"/><path d="M153.75 196.43h15.38v49.11h-15.38z" fill="#2941aa"/><path d="M169.12 196.43h15.38v49.11h-15.38z" fill="#29307d"/><path d="M184.5 196.43h15.38v49.11h-15.38z" fill="#242a6b"/><path d="M199.88 196.43h15.38v49.11h-15.38z" fill="#282e76"/><path d="M215.25 196.43h15.38v49.11h-15.38z" fill="#2a3281"/><path d="M230.62 196.43h15.38v49.11h-15.38z" fill="#2b3fa5"/><path d="M246 196.43h15.38v49.11h-15.38z" fill="#155fbf"/><path d="M261.38 196.43h15.38v49.11h-15.38z" fill="#277fbe"/><path d="M276.75 196.43h15.38v49.11h-15.38z" fill="#3085be"/><path d="M292.12 196.43h30.75v49.11h-30.75z" fill="#3889be"/><path d="M322.88 196.43h15.38v49.11h-15.38z" fill="#3b8bbd"/><path d="M338.25 196.43h15.38v49.11h-15.38z" fill="#438ebd"/><path d="M353.62 196.43h15.38v49.11h-15.38z" fill="#3085be"/><path d="M0 245.54h15.38v49.11h-15.38z" fill="#79abc1"/><path d="M15.38 245.54h15.38v49.11h-15.38z" fill="#9fc0cc"/><path d="M30.75 245.54h15.38v49.11h-15.38z" fill="#afc8d1"/><path d="M46.12 245.54h15.38v49.11h-15.38z" fill="#68a2be"/><path d="M61.5 245.54h15.38v49.11h-15.38z" fill="#4e94bc"/><path d="M76.88 245.54h15.38v49.11h-15.38z" fill="#5698bc"/><path d="M92.25 245.54h15.38v49.11h-15.38z" fill="#5d9cbd"/><path d="M107.62 245.54h15.38v49.11h-15.38z" fill="#609ebe"/><path d="M123 245.54h15.38v49.11h-15.38z" fill="#438ebd"/><path d="M138.38 245.54h15.38v49.11h-15.38z" fill="#1464bf"/><path d="M153.75 245.54h15.38v49.11h-15.38z" fill="#2a3281"/><path d="M169.12 245.54h15.38v49.11h-15.38z" fill="#282e76"/><path d="M184.5 245.54h15.38v49.11h-15.38z" fill="#2d3894"/><path d="M199.88 245.54h15.38v49.11h-15.38z" fill="#1464bf"/><path d="M215.25 245.54h15.38v49.11h-15.38z" fill="#2a81be"/><path d="M230.62 245.54h15.38v49.11h-15.38z" fill="#3b8bbd"/><path d="M246 245.54h15.38v49.11h-15.38z" fill="#5d9cbd"/><path d="M261.38 245.54h15.38v49.11h-15.38z" fill="#83b0c4"/><path d="M276.75 245.54h15.38v49.11h-15.38z" fill="#8fb8c7"/><path d="M292.12 245.54h15.38v49.11h-15.38z" fill="#9fc0cc"/><path d="M307.5 245.54h15.38v49.11h-15.38z" fill="#89b4c6"/><path d="M322.88 245.54h15.38v49.11h-15.38z" fill="#83b0c4"/><path d="M338.25 245.54h15.38v49.11h-15.38z" fill="#89b4c6"/><path d="M353.62 245.54h15.38v49.11h-15.38z" fill="#99bdca"/><path d="M0 294.65h30.75v49.11h-30.75z" fill="#609ebe"/><path d="M30.75 294.65h15.38v49.11h-15.38z" fill="#5698bc"/><path d="M46.12 294.65h30.75v49.11h-30.75z" fill="#438ebd"/><path d="M76.88 294.65h15.38v49.11h-15.38z" fill="#3085be"/><path d="M92.25 294.65h15.38v49.11h-15.38z" fill="#5698bc"/><path d="M107.62 294.65h30.75v49.11h-30.75z" fill="#5d9cbd"/><path d="M138.38 294.65h15.38v49.11h-15.38z" fill="#1b76be"/><path d="M153.75 294.65h15.38v49.11h-15.38z" fill="#2941aa"/><path d="M169.12 294.65h15.38v49.11h-15.38z" fill="#2c3690"/><path d="M184.5 294.65h15.38v49.11h-15.38z" fill="#2e3a9b"/><path d="M199.88 294.65h15.38v49.11h-15.38z" fill="#1b76be"/><path d="M215.25 294.65h15.38v49.11h-15.38z" fill="#4b92bd"/><path d="M230.62 294.65h15.38v49.11h-15.38z" fill="#72a7c0"/><path d="M246 294.65h15.38v49.11h-15.38z" fill="#6ea5c0"/><path d="M261.38 294.65h15.38v49.11h-15.38z" fill="#83b0c4"/><path d="M276.75 294.65h30.75v49.11h-30.75z" fill="#7fafc3"/><path d="M307.5 294.65h15.38v49.11h-15.38z" fill="#72a7c0"/><path d="M322.88 294.65h15.38v49.11h-15.38z" fill="#83b0c4"/><path d="M338.25 294.65h15.38v49.11h-15.38z" fill="#68a2be"/><path d="M353.62 294.65h15.38v49.11h-15.38z" fill="#5d9cbd"/><path d="M0 343.76h15.38v49.11h-15.38z" fill="#3085be"/><path d="M15.38 343.76h15.38v49.11h-15.38z" fill="#3889be"/><path d="M30.75 343.76h15.38v49.11h-15.38z" fill="#438ebd"/><path d="M46.12 343.76h15.38v49.11h-15.38z" fill="#217abe"/><path d="M61.5 343.76h15.38v49.11h-15.38z" fill="#1270be"/><path d="M76.88 343.76h15.38v49.11h-15.38z" fill="#1464bf"/><path d="M92.25 343.76h15.38v49.11h-15.38z" fill="#136bbe"/><path d="M107.62 343.76h15.38v49.11h-15.38z" fill="#217abe"/><path d="M123 343.76h15.38v49.11h-15.38z" fill="#1b76be"/><path d="M138.38 343.76h15.38v49.11h-15.38z" fill="#1464bf"/><path d="M153.75 343.76h15.38v49.11h-15.38z" fill="#2b3fa5"/><path d="M169.12 343.76h15.38v49.11h-15.38z" fill="#1e2458"/><path d="M184.5 343.76h15.38v49.11h-15.38z" fill="#1a1e48"/><path d="M199.88 343.76h15.38v49.11h-15.38z" fill="#1e2458"/><path d="M215.25 343.76h15.38v49.11h-15.38z" fill="#2c3690"/><path d="M230.62 343.76h15.38v49.11h-15.38z" fill="#2e3a9b"/><path d="M246 343.76h15.38v49.11h-15.38z" fill="#2b3fa5"/><path d="M261.38 343.76h30.75v49.11h-30.75z" fill="#2e3a9b"/><path d="M292.12 343.76h15.38v49.11h-15.38z" fill="#2646b4"/><path d="M307.5 343.76h15.38v49.11h-15.38z" fill="#1369bf"/><path d="M322.88 343.76h15.38v49.11h-15.38z" fill="#2a81be"/><path d="M338.25 343.76h15.38v49.11h-15.38z" fill="#1464bf"/><path d="M353.62 343.76h15.38v49.11h-15.38z" fill="#1b76be"/><path d="M0 392.87h15.38v49.11h-15.38z" fill="#136bbe"/><path d="M15.38 392.87h15.38v49.11h-15.38z" fill="#1270be"/><path d="M30.75 392.87h15.38v49.11h-15.38z" fill="#1658c0"/><path d="M46.12 392.87h15.38v49.11h-15.38z" fill="#1464bf"/><path d="M61.5 392.87h15.38v49.11h-15.38z" fill="#2e3a9b"/><path d="M76.88 392.87h15.38v49.11h-15.38z" fill="#2844af"/><path d="M92.25 392.87h15.38v49.11h-15.38z" fill="#2646b4"/><path d="M107.62 392.87h15.38v49.11h-15.38z" fill="#136bbe"/><path d="M123 392.87h15.38v49.11h-15.38z" fill="#1874be"/><path d="M138.38 392.87h15.38v49.11h-15.38z" fill="#155dc0"/><path d="M153.75 392.87h15.38v49.11h-15.38z" fill="#1658c0"/><path d="M169.12 392.87h15.38v49.11h-15.38z" fill="#2d3894"/><path d="M184.5 392.87h15.38v49.11h-15.38z" fill="#222863"/><path d="M199.88 392.87h15.38v49.11h-15.38z" fill="#242a6b"/><path d="M215.25 392.87h15.38v49.11h-15.38z" fill="#1e2458"/><path d="M230.62 392.87h15.38v49.11h-15.38z" fill="#222863"/><path d="M246 392.87h15.38v49.11h-15.38z" fill="#2c3690"/><path d="M261.38 392.87h15.38v49.11h-15.38z" fill="#2e3a9b"/><path d="M276.75 392.87h15.38v49.11h-15.38z" fill="#2646b4"/><path d="M292.12 392.87h15.38v49.11h-15.38z" fill="#155fbf"/><path d="M307.5 392.87h15.38v49.11h-15.38z" fill="#2646b4"/><path d="M322.88 392.87h15.38v49.11h-15.38z" fill="#1464bf"/><path d="M338.25 392.87h15.38v49.11h-15.38z" fill="#136bbe"/><path d="M353.62 392.87h15.38v49.11h-15.38z" fill="#155fbf"/><path d="M0 441.97h15.38v49.11h-15.38z" fill="#609ebe"/><path d="M15.38 441.97h30.75v49.11h-30.75z" fill="#68a2be"/><path d="M46.12 441.97h15.38v49.11h-15.38z" fill="#79abc1"/><path d="M61.5 441.97h15.38v49.11h-15.38z" fill="#3b8bbd"/><path d="M76.88 441.97h15.38v49.11h-15.38z" fill="#438ebd"/><path d="M92.25 441.97h15.38v49.11h-15.38z" fill="#68a2be"/><path d="M107.62 441.97h15.38v49.11h-15.38z" fill="#83b0c4"/><path d="M123 441.97h15.38v49.11h-15.38z" fill="#89b4c6"/><path d="M138.38 441.97h15.38v49.11h-15.38z" fill="#72a7c0"/><path d="M153.75 441.97h15.38v49.11h-15.38z" fill="#68a2be"/><path d="M169.12 441.97h15.38v49.11h-15.38z" fill="#4b92bd"/><path d="M184.5 441.97h15.38v49.11h-15.38z" fill="#438ebd"/><path d="M199.88 441.97h15.38v49.11h-15.38z" fill="#4b92bd"/><path d="M215.25 441.97h15.38v49.11h-15.38z" fill="#277fbe"/><path d="M230.62 441.97h15.38v49.11h-15.38z" fill="#1270be"/><path d="M246 441.97h15.38v49.11h-15.38z" fill="#277fbe"/><path d="M261.38 441.97h30.75v49.11h-30.75z" fill="#438ebd"/><path d="M292.12 441.97h15.38v49.11h-15.38z" fill="#609ebe"/><path d="M307.5 441.97h15.38v49.11h-15.38z" fill="#68a2be"/><path d="M322.88 441.97h15.38v49.11h-15.38z" fill="#609ebe"/><path d="M338.25 441.97h15.38v49.11h-15.38z" fill="#4b92bd"/><path d="M353.62 441.97h15.38v49.11h-15.38z" fill="#438ebd"/><path d="M0 491.08h15.38v49.11h-15.38z" fill="#8fb8c7"/><path d="M15.38 491.08h15.38v49.11h-15.38z" fill="#7fafc3"/><path d="M30.75 491.08h15.38v49.11h-15.38z" fill="#83b0c4"/><path d="M46.12 491.08h15.38v49.11h-15.38z" fill="#6ea5c0"/><path d="M61.5 491.08h15.38v49.11h-15.38z" fill="#609ebe"/><path d="M76.88 491.08h15.38v49.11h-15.38z" fill="#438ebd"/><path d="M92.25 491.08h15.38v49.11h-15.38z" fill="#609ebe"/><path d="M107.62 491.08h15.38v49.11h-15.38z" fill="#72a7c0"/><path d="M123 491.08h15.38v49.11h-15.38z" fill="#8fb8c7"/><path d="M138.38 491.08h15.38v49.11h-15.38z" fill="#9fc0cc"/><path d="M153.75 491.08h15.38v49.11h-15.38z" fill="#c8d6db"/><path d="M169.12 491.08h15.38v49.11h-15.38z" fill="#b9cdd4"/><path d="M184.5 491.08h15.38v49.11h-15.38z" fill="#9fc0cc"/><path d="M199.88 491.08h15.38v49.11h-15.38z" fill="#99bdca"/><path d="M215.25 491.08h15.38v49.11h-15.38z" fill="#8fb8c7"/><path d="M230.62 491.08h15.38v49.11h-15.38z" fill="#79abc1"/><path d="M246 491.08h15.38v49.11h-15.38z" fill="#72a7c0"/><path d="M261.38 491.08h15.38v49.11h-15.38z" fill="#7fafc3"/><path d="M276.75 491.08h15.38v49.11h-15.38z" fill="#99bdca"/><path d="M292.12 491.08h30.75v49.11h-30.75z" fill="#9fc0cc"/><path d="M322.88 491.08h15.38v49.11h-15.38z" fill="#afc8d1"/><path d="M338.25 491.08h30.75v49.11h-30.75z" fill="#a9c5cf"/><path d="M0 540.19h15.38v49.11h-15.38z" fill="#277fbe"/><path d="M15.38 540.19h15.38v49.11h-15.38z" fill="#2a81be"/><path d="M30.75 540.19h15.38v49.11h-15.38z" fill="#3085be"/><path d="M46.12 540.19h15.38v49.11h-15.38z" fill="#217abe"/><path d="M61.5 540.19h15.38v49.11h-15.38z" fill="#2e3a9b"/><path d="M76.88 540.19h15.38v49.11h-15.38z" fill="#2d3894"/><path d="M92.25 540.19h15.38v49.11h-15.38z" fill="#1658c0"/><path d="M107.62 540.19h15.38v49.11h-15.38z" fill="#2844af"/><path d="M123 540.19h15.38v49.11h-15.38z" fill="#1c51bb"/><path d="M138.38 540.19h15.38v49.11h-15.38z" fill="#217abe"/><path d="M153.75 540.19h15.38v49.11h-15.38z" fill="#68a2be"/><path d="M169.12 540.19h15.38v49.11h-15.38z" fill="#609ebe"/><path d="M184.5 540.19h15.38v49.11h-15.38z" fill="#93b9c8"/><path d="M199.88 540.19h15.38v49.11h-15.38z" fill="#89b4c6"/><path d="M215.25 540.19h15.38v49.11h-15.38z" fill="#79abc1"/><path d="M230.62 540.19h15.38v49.11h-15.38z" fill="#609ebe"/><path d="M246 540.19h15.38v49.11h-15.38z" fill="#72a7c0"/><path d="M261.38 540.19h15.38v49.11h-15.38z" fill="#438ebd"/><path d="M276.75 540.19h15.38v49.11h-15.38z" fill="#68a2be"/><path d="M292.12 540.19h15.38v49.11h-15.38z" fill="#72a7c0"/><path d="M307.5 540.19h15.38v49.11h-15.38z" fill="#79abc1"/><path d="M322.88 540.19h15.38v49.11h-15.38z" fill="#5698bc"/><path d="M338.25 540.19h15.38v49.11h-15.38z" fill="#2a81be"/><path d="M353.62 540.19h15.38v49.11h-15.38z" fill="#438ebd"/>
<path class="g" d="M0 0v589.3M15.38 0v589.3M30.75 0v589.3M46.12 0v589.3M61.5 0v589.3M76.88 0v589.3M92.25 0v589.3M107.62 0v589.3M123 0v589.3M138.38 0v589.3M153.75 0v589.3M169.12 0v589.3M184.5 0v589.3M199.88 0v589.3M215.25 0v589.3M230.62 0v589.3M246 0v589.3M261.38 0v589.3M276.75 0v589.3M292.12 0v589.3M307.5 0v589.3M322.88 0v589.3M338.25 0v589.3M353.62 0v589.3M369 0v589.3M0 0h369M0 49.11h369M0 98.22h369M0 147.32h369M0 196.43h369M0 245.54h369M0 294.65h369M0 343.76h369M0 392.87h369M0 441.97h369M0 491.08h369M0 540.19h369M0 589.3h369"/>
<path class="k" d="M-6 49.11h6M-6 98.22h6M-6 147.32h6M-6 196.43h6M-6 245.54h6M-6 294.65h6M-6 343.76h6M-6 392.87h6M-6 441.97h6M-6 491.08h6M-6 540.19h6M-6 589.3h6M0 589.3v6M46.12 589.3v6M92.25 589.3v6M138.38 589.3v6M184.5 589.3v6M230.62 589.3v6M276.75 589.3v6M322.88 589.3v6"/>
</g>
<text class="t" x="1179.5" y="673.2">NARR</text>
<g transform="translate(1400.5 674.8)">
<path d="M0 0h15.38v49.11h-15.38z" fill="#d0dbdf"/><path d="M15.38 0h15.38v49.11h-15.38z" fill="#d6dee2"/><path d="M30.75 0h15.38v49.11h-15.38z" fill="#c2d2d8"/><path d="M46.12 0h15.38v49.11h-15.38z" fill="#dee2e5"/><path d="M61.5 0h15.38v49.11h-15.38z" fill="#99bdca"/><path d="M76.88 0h30.75v49.11h-30.75z" fill="#a9c5cf"/><path d="M107.62 0h30.75v49.11h-30.75z" fill="#b3cad2"/><path d="M138.38 0h15.38v49.11h-15.38z" fill="#b9cdd4"/><path d="M153.75 0h15.38v49.11h-15.38z" fill="#89b4c6"/><path d="M169.12 0h15.38v49.11h-15.38z" fill="#93b9c8"/><path d="M184.5 0h15.38v49.11h-15.38z" fill="#9fc0cc"/><path d="M199.88 0h15.38v49.11h-15.38z" fill="#99bdca"/><path d="M215.25 0h15.38v49.11h-15.38z" fill="#9fc0cc"/><path d="M230.62 0h15.38v49.11h-15.38z" fill="#b3cad2"/><path d="M246 0h15.38v49.11h-15.38z" fill="#cdd9de"/><path d="M261.38 0h15.38v49.11h-15.38z" fill="#d6dee2"/><path d="M276.75 0h15.38v49.11h-15.38z" fill="#cdd9de"/><path d="M292.12 0h15.38v49.11h-15.38z" fill="#bfd0d7"/><path d="M307.5 0h15.38v49.11h-15.38z" fill="#cdd9de"/><path d="M322.88 0h15.38v49.11h-15.38z" fill="#b9cdd4"/><path d="M338.25 0h15.38v49.11h-15.38z" fill="#dee2e5"/><path d="M353.62 0h15.38v49.11h-15.38z" fill="#d6dee2"/><path d="M0 49.11h15.38v49.11h-15.38z" fill="#afc8d1"/><path d="M15.38 49.11h15.38v49.11h-15.38z" fill="#a3c2cd"/><path d="M30.75 49.11h15.38v49.11h-15.38z" fill="#b3cad2"/><path d="M46.12 49.11h15.38v49.11h-15.38z" fill="#99bdca"/><path d="M61.5 49.11h30.75v49.11h-30.75z" fill="#c8d6db"/><path d="M92.25 49.11h15.38v49.11h-15.38z" fill="#c2d2d8"/><path d="M107.62 49.11h15.38v49.11h-15.38z" fill="#99bdca"/><path d="M123 49.11h15.38v49.11h-15.38z" fill="#a3c2cd"/><path d="M138.38 49.11h15.38v49.11h-15.38z" fill="#8fb8c7"/><path d="M153.75 49.11h15.38v49.11h-15.38z" fill="#afc8d1"/><path d="M169.12 49.11h15.38v49.11h-15.38z" fill="#9fc0cc"/><path d="M184.5 49.11h15.38v49.11h-15.38z" fill="#83b0c4"/><path d="M199.88 49.11h15.38v49.11h-15.38z" fill="#8fb8c7"/><path d="M215.25 49.11h30.75v49.11h-30.75z" fill="#9fc0cc"/><path d="M246 49.11h15.38v49.11h-15.38z" fill="#8fb8c7"/><path d="M261.38 49.11h30.75v49.11h-30.75z" fill="#a3c2cd"/><path d="M292.12 49.11h15.38v49.11h-15.38z" fill="#9fc0cc"/><path d="M307.5 49.11h15.38v49.11h-15.38z" fill="#8fb8c7"/><path d="M322.88 49.11h15.38v49.11h-15.38z" fill="#b3cad2"/><path d="M338.25 49.11h15.38v49.11h-15.38z" fill="#b9cdd4"/><path d="M353.62 49.11h15.38v49.11h-15.38z" fill="#a3c2cd"/><path d="M0 98.22h15.38v49.11h-15.38z" fill="#b3cad2"/><path d="M15.38 98.22h46.12v49.11h-46.12z" fill="#8fb8c7"/><path d="M61.5 98.22h30.75v49.11h-30.75z" fill="#99bdca"/><path d="M92.25 98.22h15.38v49.11h-15.38z" fill="#8fb8c7"/><path d="M107.62 98.22h15.38v49.11h-15.38z" fill="#a3c2cd"/><path d="M123 98.22h15.38v49.11h-15.38z" fill="#9fc0cc"/><path d="M138.38 98.22h30.75v49.11h-30.75z" fill="#7fafc3"/><path d="M169.12 98.22h15.38v49.11h-15.38z" fill="#5698bc"/><path d="M184.5 98.22h15.38v49.11h-15.38z" fill="#4e94bc"/><path d="M199.88 98.22h15.38v49.11h-15.38z" fill="#609ebe"/><path d="M215.25 98.22h15.38v49.11h-15.38z" fill="#7fafc3"/><path d="M230.62 98.22h15.38v49.11h-15.38z" fill="#83b0c4"/><path d="M246 98.22h15.38v49.11h-15.38z" fill="#79abc1"/><path d="M261.38 98.22h15.38v49.11h-15.38z" fill="#89b4c6"/><path d="M276.75 98.22h15.38v49.11h-15.38z" fill="#99bdca"/><path d="M292.12 98.22h15.38v49.11h-15.38z" fill="#9fc0cc"/><path d="M307.5 98.22h15.38v49.11h-15.38z" fill="#8fb8c7"/><path d="M322.88 98.22h15.38v49.11h-15.38z" fill="#b3cad2"/><path d="M338.25 98.22h15.38v49.11h-15.38z" fill="#a3c2cd"/><path d="M353.62 98.22h15.38v49.11h-15.38z" fill="#9fc0cc"/><path d="M0 147.32h46.12v49.11h-46.12z" fill="#b9cdd4"/><path d="M46.12 147.32h15.38v49.11h-15.38z" fill="#c2d2d8"/><path d="M61.5 147.32h15.38v49.11h-15.38z" fill="#b3cad2"/><path d="M76.88 147.32h15.38v49.11h-15.38z" fill="#c2d2d8"/><path d="M92.25 147.32h15.38v49.11h-15.38z" fill="#c8d6db"/><path d="M107.62 147.32h15.38v49.11h-15.38z" fill="#b9cdd4"/><path d="M123 147.32h15.38v49.11h-15.38z" fill="#a9c5cf"/><path d="M138.38 147.32h15.38v49.11h-15.38z" fill="#72a7c0"/><path d="M153.75 147.32h15.38v49.11h-15.38z" fill="#4b92bd"/><path d="M169.12 147.32h15.38v49.11h-15.38z" fill="#2a81be"/><path d="M184.5 147.32h30.75v49.11h-30.75z" fill="#3889be"/><path d="M215.25 147.32h15.38v49.11h-15.38z" fill="#438ebd"/><path d="M230.62 147.32h15.38v49.11h-15.38z" fill="#609ebe"/><path d="M246 147.32h15.38v49.11h-15.38z" fill="#5698bc"/><path d="M261.38 147.32h15.38v49.11h-15.38z" fill="#83b0c4"/><path d="M276.75 147.32h15.38v49.11h-15.38z" fill="#93b9c8"/><path d="M292.12 147.32h15.38v49.11h-15.38z" fill="#a9c5cf"/><path d="M307.5 147.32h15.38v49.11h-15.38z" fill="#cdd9de"/><path d="M322.88 147.32h15.38v49.11h-15.38z" fill="#e4e5e6"/><path d="M338.25 147.32h15.38v49.11h-15.38z" fill="#d0dbdf"/><path d="M353.62 147.32h15.38v49.11h-15.38z" fill="#b9cdd4"/><path d="M0 196.43h30.75v49.11h-30.75z" fill="#a9c5cf"/><path d="M30.75 196.43h15.38v49.11h-15.38z" fill="#8fb8c7"/><path d="M46.12 196.43h30.75v49.11h-30.75z" fill="#a9c5cf"/><path d="M76.88 196.43h15.38v49.11h-15.38z" fill="#99bdca"/><path d="M92.25 196.43h15.38v49.11h-15.38z" fill="#9fc0cc"/><path d="M107.62 196.43h15.38v49.11h-15.38z" fill="#7fafc3"/><path d="M123 196.43h15.38v49.11h-15.38z" fill="#5698bc"/><path d="M138.38 196.43h15.38v49.11h-15.38z" fill="#3085be"/><path d="M153.75 196.43h15.38v49.11h-15.38z" fill="#277fbe"/><path d="M169.12 196.43h15.38v49.11h-15.38z" fill="#217abe"/><path d="M184.5 196.43h15.38v49.11h-15.38z" fill="#277fbe"/><path d="M199.88 196.43h15.38v49.11h-15.38z" fill="#217abe"/><path d="M215.25 196.43h15.38v49.11h-15.38z" fill="#277fbe"/><path d="M230.62 196.43h15.38v49.11h-15.38z" fill="#3b8bbd"/><path d="M246 196.43h15.38v49.11h-15.38z" fill="#438ebd"/><path d="M261.38 196.43h15.38v49.11h-15.38z" fill="#5698bc"/><path d="M276.75 196.43h15.38v49.11h-15.38z" fill="#72a7c0"/><path d="M292.12 196.43h15.38v49.11h-15.38z" fill="#8fb8c7"/><path d="M307.5 196.43h15.38v49.11h-15.38z" fill="#b3cad2"/><path d="M322.88 196.43h15.38v49.11h-15.38z" fill="#cdd9de"/><path d="M338.25 196.43h15.38v49.11h-15.38z" fill="#d6dee2"/><path d="M353.62 196.43h15.38v49.11h-15.38z" fill="#c2d2d8"/><path d="M0 245.54h15.38v49.11h-15.38z" fill="#eee5e2"/><path d="M15.38 245.54h15.38v49.11h-15.38z" fill="#e6cfc6"/><path d="M30.75 245.54h15.38v49.11h-15.38z" fill="#e2c4b9"/><path d="M46.12 245.54h15.38v49.11h-15.38z" fill="#ece9e9"/><path d="M61.5 245.54h30.75v49.11h-30.75z" fill="#e9e8e8"/><path d="M92.25 245.54h15.38v49.11h-15.38z" fill="#d0dbdf"/><path d="M107.62 245.54h15.38v49.11h-15.38z" fill="#bfd0d7"/><path d="M123 245.54h15.38v49.11h-15.38z" fill="#8fb8c7"/><path d="M138.38 245.54h15.38v49.11h-15.38z" fill="#72a7c0"/><path d="M153.75 245.54h15.38v49.11h-15.38z" fill="#609ebe"/><path d="M169.12 245.54h15.38v49.11h-15.38z" fill="#89b4c6"/><path d="M184.5 245.54h15.38v49.11h-15.38z" fill="#9fc0cc"/><path d="M199.88 245.54h15.38v49.11h-15.38z" fill="#b9cdd4"/><path d="M215.25 245.54h15.38v49.11h-15.38z" fill="#dbe1e4"/><path d="M230.62 245.54h15.38v49.11h-15.38z" fill="#e4e5e6"/><path d="M246 245.54h30.75v49.11h-30.75z" fill="#ece9e9"/><path d="M276.75 245.54h15.38v49.11h-15.38z" fill="#ebddd7"/><path d="M292.12 245.54h15.38v49.11h-15.38z" fill="#e8d6ce"/><path d="M307.5 245.54h15.38v49.11h-15.38z" fill="#e9e8e8"/><path d="M322.88 245.54h15.38v49.11h-15.38z" fill="#e4e5e6"/><path d="M338.25 245.54h15.38v49.11h-15.38z" fill="#e9e8e8"/><path d="M353.62 245.54h15.38v49.11h-15.38z" fill="#ecdfda"/><path d="M0 294.65h15.38v49.11h-15.38z" fill="#ece1dc"/><path d="M15.38 294.65h15.38v49.11h-15.38z" fill="#eee5e2"/><path d="M30.75 294.65h15.38v49.11h-15.38z" fill="#f1eceb"/><path d="M46.12 294.65h15.38v49.11h-15.38z" fill="#dee2e5"/><path d="M61.5 294.65h15.38v49.11h-15.38z" fill="#e4e5e6"/><path d="M76.88 294.65h15.38v49.11h-15.38z" fill="#d0dbdf"/><path d="M92.25 294.65h30.75v49.11h-30.75z" fill="#cdd9de"/><path d="M123 294.65h15.38v49.11h-15.38z" fill="#bfd0d7"/><path d="M138.38 294.65h15.38v49.11h-15.38z" fill="#99bdca"/><path d="M153.75 294.65h15.38v49.11h-15.38z" fill="#4e94bc"/><path d="M169.12 294.65h15.38v49.11h-15.38z" fill="#5d9cbd"/><path d="M184.5 294.65h15.38v49.11h-15.38z" fill="#7fafc3"/><path d="M199.88 294.65h15.38v49.11h-15.38z" fill="#8fb8c7"/><path d="M215.25 294.65h15.38v49.11h-15.38z" fill="#b3cad2"/><path d="M230.62 294.65h15.38v49.11h-15.38z" fill="#d6dee2"/><path d="M246 294.65h15.38v49.11h-15.38z" fill="#cdd9de"/><path d="M261.38 294.65h15.38v49.11h-15.38z" fill="#d0dbdf"/><path d="M276.75 294.65h15.38v49.11h-15.38z" fill="#dbe1e4"/><path d="M292.12 294.65h15.38v49.11h-15.38z" fill="#e4e5e6"/><path d="M307.5 294.65h15.38v49.11h-15.38z" fill="#dee2e5"/><path d="M322.88 294.65h15.38v49.11h-15.38z" fill="#f1eceb"/><path d="M338.25 294.65h15.38v49.11h-15.38z" fill="#eee5e2"/><path d="M353.62 294.65h15.38v49.11h-15.38z" fill="#ecdfda"/><path d="M0 343.76h30.75v49.11h-30.75z" fill="#e4e5e6"/><path d="M30.75 343.76h15.38v49.11h-15.38z" fill="#efe8e5"/><path d="M46.12 343.76h15.38v49.11h-15.38z" fill="#dee2e5"/><path d="M61.5 343.76h15.38v49.11h-15.38z" fill="#e6e6e7"/><path d="M76.88 343.76h15.38v49.11h-15.38z" fill="#dee2e5"/><path d="M92.25 343.76h30.75v49.11h-30.75z" fill="#cdd9de"/><path d="M123 343.76h15.38v49.11h-15.38z" fill="#9fc0cc"/><path d="M138.38 343.76h15.38v49.11h-15.38z" fill="#8fb8c7"/><path d="M153.75 343.76h15.38v49.11h-15.38z" fill="#83b0c4"/><path d="M169.12 343.76h15.38v49.11h-15.38z" fill="#438ebd"/><path d="M184.5 343.76h15.38v49.11h-15.38z" fill="#3085be"/><path d="M199.88 343.76h15.38v49.11h-15.38z" fill="#438ebd"/><path d="M215.25 343.76h15.38v49.11h-15.38z" fill="#89b4c6"/><path d="M230.62 343.76h30.75v49.11h-30.75z" fill="#a3c2cd"/><path d="M261.38 343.76h15.38v49.11h-15.38z" fill="#a9c5cf"/><path d="M276.75 343.76h15.38v49.11h-15.38z" fill="#a3c2cd"/><path d="M292.12 343.76h15.38v49.11h-15.38z" fill="#afc8d1"/><path d="M307.5 343.76h15.38v49.11h-15.38z" fill="#c8d6db"/><path d="M322.88 343.76h15.38v49.11h-15.38z" fill="#e9e8e8"/><path d="M338.25 343.76h15.38v49.11h-15.38z" fill="#c2d2d8"/><path d="M353.62 343.76h15.38v49.11h-15.38z" fill="#d6dee2"/><path d="M0 392.87h15.38v49.11h-15.38z" fill="#c8d6db"/><path d="M15.38 392.87h15.38v49.11h-15.38z" fill="#e4e5e6"/><path d="M30.75 392.87h15.38v49.11h-15.38z" fill="#d6dee2"/><path d="M46.12 392.87h15.38v49.11h-15.38z" fill="#c8d6db"/><path d="M61.5 392.87h30.75v49.11h-30.75z" fill="#a3c2cd"/><path d="M92.25 392.87h15.38v49.11h-15.38z" fill="#99bdca"/><path d="M107.62 392.87h15.38v49.11h-15.38z" fill="#a3c2cd"/><path d="M123 392.87h15.38v49.11h-15.38z" fill="#a9c5cf"/><path d="M138.38 392.87h30.75v49.11h-30.75z" fill="#89b4c6"/><path d="M169.12 392.87h15.38v49.11h-15.38z" fill="#7fafc3"/><path d="M184.5 392.87h15.38v49.11h-15.38z" fill="#72a7c0"/><path d="M199.88 392.87h15.38v49.11h-15.38z" fill="#83b0c4"/><path d="M215.25 392.87h15.38v49.11h-15.38z" fill="#99bdca"/><path d="M230.62 392.87h15.38v49.11h-15.38z" fill="#93b9c8"/><path d="M246 392.87h15.38v49.11h-15.38z" fill="#a3c2cd"/><path d="M261.38 392.87h30.75v49.11h-30.75z" fill="#99bdca"/><path d="M292.12 392.87h15.38v49.11h-15.38z" fill="#b9cdd4"/><path d="M307.5 392.87h15.38v49.11h-15.38z" fill="#a3c2cd"/><path d="M322.88 392.87h15.38v49.11h-15.38z" fill="#c8d6db"/><path d="M338.25 392.87h15.38v49.11h-15.38z" fill="#d6dee2"/><path d="M353.62 392.87h15.38v49.11h-15.38z" fill="#c2d2d8"/><path d="M0 441.97h15.38v49.11h-15.38z" fill="#cdd9de"/><path d="M15.38 441.97h15.38v49.11h-15.38z" fill="#dbe1e4"/><path d="M30.75 441.97h15.38v49.11h-15.38z" fill="#bfd0d7"/><path d="M46.12 441.97h15.38v49.11h-15.38z" fill="#dbe1e4"/><path d="M61.5 441.97h15.38v49.11h-15.38z" fill="#afc8d1"/><path d="M76.88 441.97h15.38v49.11h-15.38z" fill="#b3cad2"/><path d="M92.25 441.97h15.38v49.11h-15.38z" fill="#a3c2cd"/><path d="M107.62 441.97h15.38v49.11h-15.38z" fill="#b9cdd4"/><path d="M123 441.97h15.38v49.11h-15.38z" fill="#9fc0cc"/><path d="M138.38 441.97h30.75v49.11h-30.75z" fill="#afc8d1"/><path d="M169.12 441.97h15.38v49.11h-15.38z" fill="#99bdca"/><path d="M184.5 441.97h15.38v49.11h-15.38z" fill="#93b9c8"/><path d="M199.88 441.97h15.38v49.11h-15.38z" fill="#99bdca"/><path d="M215.25 441.97h15.38v49.11h-15.38z" fill="#89b4c6"/><path d="M230.62 441.97h15.38v49.11h-15.38z" fill="#7fafc3"/><path d="M246 441.97h30.75v49.11h-30.75z" fill="#83b0c4"/><path d="M276.75 441.97h15.38v49.11h-15.38z" fill="#7fafc3"/><path d="M292.12 441.97h15.38v49.11h-15.38z" fill="#a9c5cf"/><path d="M307.5 441.97h15.38v49.11h-15.38z" fill="#b3cad2"/><path d="M322.88 441.97h15.38v49.11h-15.38z" fill="#c2d2d8"/><path d="M338.25 441.97h15.38v49.11h-15.38z" fill="#c8d6db"/><path d="M353.62 441.97h15.38v49.11h-15.38z" fill="#cdd9de"/><path d="M0 491.08h30.75v49.11h-30.75z" fill="#bfd0d7"/><path d="M30.75 491.08h15.38v49.11h-15.38z" fill="#b9cdd4"/><path d="M46.12 491.08h15.38v49.11h-15.38z" fill="#c8d6db"/><path d="M61.5 491.08h15.38v49.11h-15.38z" fill="#b9cdd4"/><path d="M76.88 491.08h15.38v49.11h-15.38z" fill="#afc8d1"/><path d="M92.25 491.08h15.38v49.11h-15.38z" fill="#93b9c8"/><path d="M107.62 491.08h15.38v49.11h-15.38z" fill="#8fb8c7"/><path d="M123 491.08h15.38v49.11h-15.38z" fill="#b9cdd4"/><path d="M138.38 491.08h15.38v49.11h-15.38z" fill="#cdd9de"/><path d="M153.75 491.08h15.38v49.11h-15.38z" fill="#dbe1e4"/><path d="M169.12 491.08h15.38v49.11h-15.38z" fill="#b9cdd4"/><path d="M184.5 491.08h46.12v49.11h-46.12z" fill="#99bdca"/><path d="M230.62 491.08h30.75v49.11h-30.75z" fill="#89b4c6"/><path d="M261.38 491.08h15.38v49.11h-15.38z" fill="#93b9c8"/><path d="M276.75 491.08h15.38v49.11h-15.38z" fill="#b9cdd4"/><path d="M292.12 491.08h15.38v49.11h-15.38z" fill="#dbe1e4"/><path d="M307.5 491.08h15.38v49.11h-15.38z" fill="#e9e8e8"/><path d="M322.88 491.08h15.38v49.11h-15.38z" fill="#f1eceb"/><path d="M338.25 491.08h15.38v49.11h-15.38z" fill="#d0dbdf"/><path d="M353.62 491.08h15.38v49.11h-15.38z" fill="#dbe1e4"/><path d="M0 540.19h15.38v49.11h-15.38z" fill="#89b4c6"/><path d="M15.38 540.19h15.38v49.11h-15.38z" fill="#99bdca"/><path d="M30.75 540.19h15.38v49.11h-15.38z" fill="#a3c2cd"/><path d="M46.12 540.19h15.38v49.11h-15.38z" fill="#a9c5cf"/><path d="M61.5 540.19h15.38v49.11h-15.38z" fill="#79abc1"/><path d="M76.88 540.19h15.38v49.11h-15.38z" fill="#89b4c6"/><path d="M92.25 540.19h30.75v49.11h-30.75z" fill="#a3c2cd"/><path d="M123 540.19h15.38v49.11h-15.38z" fill="#99bdca"/><path d="M138.38 540.19h15.38v49.11h-15.38z" fill="#9fc0cc"/><path d="M153.75 540.19h15.38v49.11h-15.38z" fill="#a9c5cf"/><path d="M169.12 540.19h15.38v49.11h-15.38z" fill="#89b4c6"/><path d="M184.5 540.19h15.38v49.11h-15.38z" fill="#d0dbdf"/><path d="M199.88 540.19h15.38v49.11h-15.38z" fill="#93b9c8"/><path d="M215.25 540.19h15.38v49.11h-15.38z" fill="#89b4c6"/><path d="M230.62 540.19h15.38v49.11h-15.38z" fill="#5d9cbd"/><path d="M246 540.19h15.38v49.11h-15.38z" fill="#93b9c8"/><path d="M261.38 540.19h15.38v49.11h-15.38z" fill="#89b4c6"/><path d="M276.75 540.19h15.38v49.11h-15.38z" fill="#a9c5cf"/><path d="M292.12 540.19h15.38v49.11h-15.38z" fill="#99bdca"/><path d="M307.5 540.19h15.38v49.11h-15.38z" fill="#9fc0cc"/><path d="M322.88 540.19h15.38v49.11h-15.38z" fill="#93b9c8"/><path d="M338.25 540.19h15.38v49.11h-15.38z" fill="#7fafc3"/><path d="M353.62 540.19h15.38v49.11h-15.38z" fill="#a9c5cf"/>
<path class="g" d="M0 0v589.3M15.38 0v589.3M30.75 0v589.3M46.12 0v589.3M61.5 0v589.3M76.88 0v589.3M92.25 0v589.3M107.62 0v589.3M123 0v589.3M138.38 0v589.3M153.75 0v589.3M169.12 0v589.3M184.5 0v589.3M199.88 0v589.3M215.25 0v589.3M230.62 0v589.3M246 0v589.3M261.38 0v589.3M276.75 0v589.3M292.12 0v589.3M307.5 0v589.3M322.88 0v589.3M338.25 0v589.3M353.62 0v589.3M369 0v589.3M0 0h369M0 49.11h369M0 98.22h369M0 147.32h369M0 196.43h369M0 245.54h369M0 294.65h369M0 343.76h369M0 392.87h369M0 441.97h369M0 491.08h369M0 540.19h369M0 589.3h369"/>
<path class="k" d="M-6 49.11h6M-6 98.22h6M-6 147.32h6M-6 196.43h6M-6 245.54h6M-6 294.65h6M-6 343.76h6M-6 392.87h6M-6 441.97h6M-6 491.08h6M-6 540.19h6M-6 589.3h6M0 589.3v6M46.12 589.3v6M92.25 589.3v6M138.38 589.3v6M184.5 589.3v6M230.62 589.3v6M276.75 589.3v6M322.88 589.3v6"/>
</g>
<text class="t" x="1585" y="673.2">HRDPS</text>
<g transform="translate(89 1317.3)">
<path d="M0 0h30.75v49.11h-30.75z" fill="#40ffbf"/><path d="M30.75 0h30.75v49.11h-30.75z" fill="#60ff9f"/><path d="M61.5 0h15.38v49.11h-15.38z" fill="#80ff80"/><path d="M76.88 0h15.38v49.11h-15.38z" fill="#9fff60"/><path d="M92.25 0h30.75v49.11h-30.75z" fill="#dfff20"/><path d="M123 0h46.12v49.11h-46.12z" fill="#9fff60"/><path d="M169.12 0h15.38v49.11h-15.38z" fill="#80ff80"/><path d="M184.5 0h15.38v49.11h-15.38z" fill="#40ffbf"/><path d="M199.88 0h15.38v49.11h-15.38z" fill="#80ff80"/><path d="M215.25 0h15.38v49.11h-15.38z" fill="#9fff60"/><path d="M230.62 0h15.38v49.11h-15.38z" fill="#ff0"/><path d="M246 0h15.38v49.11h-15.38z" fill="#dfff20"/><path d="M261.38 0h15.38v49.11h-15.38z" fill="#bfff40"/><path d="M276.75 0h15.38v49.11h-15.38z" fill="#9fff60"/><path d="M292.12 0h15.38v49.11h-15.38z" fill="#20ffdf"/><path d="M307.5 0h46.12v49.11h-46.12z" fill="#40ffbf"/><path d="M353.62 0h15.38v49.11h-15.38z" fill="#60ff9f"/><path d="M0 49.11h30.75v49.11h-30.75z" fill="#80ff80"/><path d="M30.75 49.11h15.38v49.11h-15.38z" fill="#dfff20"/><path d="M46.12 49.11h15.38v49.11h-15.38z" fill="#9fff60"/><path d="M61.5 49.11h15.38v49.11h-15.38z" fill="#dfff20"/><path d="M76.88 49.11h15.38v49.11h-15.38z" fill="#80ff80"/><path d="M92.25 49.11h15.38v49.11h-15.38z" fill="#60ff9f"/><path d="M107.62 49.11h15.38v49.11h-15.38z" fill="#40ffbf"/><path d="M123 49.11h15.38v49.11h-15.38z" fill="#80ff80"/><path d="M138.38 49.11h15.38v49.11h-15.38z" fill="#60ff9f"/><path d="M153.75 49.11h15.38v49.11h-15.38z" fill="#40ffbf"/><path d="M169.12 49.11h15.38v49.11h-15.38z" fill="#60ff9f"/><path d="M184.5 49.11h30.75v49.11h-30.75z" fill="#40ffbf"/><path d="M215.25 49.11h15.38v49.11h-15.38z" fill="#60ff9f"/><path d="M230.62 49.11h30.75v49.11h-30.75z" fill="#9fff60"/><path d="M261.38 49.11h30.75v49.11h-30.75z" fill="#bfff40"/><path d="M292.12 49.11h30.75v49.11h-30.75z" fill="#40ffbf"/><path d="M322.88 49.11h15.38v49.11h-15.38z" fill="#60ff9f"/><path d="M338.25 49.11h15.38v49.11h-15.38z" fill="#40ffbf"/><path d="M353.62 49.11h15.38v49.11h-15.38z" fill="#80ff80"/><path d="M0 98.22h15.38v49.11h-15.38z" fill="#00bfff"/><path d="M15.38 98.22h30.75v49.11h-30.75z" fill="#00dfff"/><path d="M46.12 98.22h15.38v49.11h-15.38z" fill="#0ff"/><path d="M61.5 98.22h15.38v49.11h-15.38z" fill="#20ffdf"/><path d="M76.88 98.22h15.38v49.11h-15.38z" fill="#00dfff"/><path d="M92.25 98.22h15.38v49.11h-15.38z" fill="#00bfff"/><path d="M107.62 98.22h15.38v49.11h-15.38z" fill="#009fff"/><path d="M123 98.22h15.38v49.11h-15.38z" fill="#0080ff"/><path d="M138.38 98.22h30.75v49.11h-30.75z" fill="#0060ff"/><path d="M169.12 98.22h30.75v49.11h-30.75z" fill="#0080ff"/><path d="M199.88 98.22h15.38v49.11h-15.38z" fill="#009fff"/><path d="M215.25 98.22h15.38v49.11h-15.38z" fill="#00dfff"/><path d="M230.62 98.22h30.75v49.11h-30.75z" fill="#20ffdf"/><path d="M261.38 98.22h15.38v49.11h-15.38z" fill="#00bfff"/><path d="M276.75 98.22h15.38v49.11h-15.38z" fill="#009fff"/><path d="M292.12 98.22h61.5v49.11h-61.5z" fill="#0080ff"/><path d="M353.62 98.22h15.38v49.11h-15.38z" fill="#00dfff"/><path d="M0 147.32h15.38v49.11h-15.38z" fill="#00bfff"/><path d="M15.38 147.32h15.38v49.11h-15.38z" fill="#00dfff"/><path d="M30.75 147.32h15.38v49.11h-15.38z" fill="#00bfff"/><path d="M46.12 147.32h46.12v49.11h-46.12z" fill="#009fff"/><path d="M92.25 147.32h15.38v49.11h-15.38z" fill="#0060ff"/><path d="M107.62 147.32h15.38v49.11h-15.38z" fill="#0080ff"/><path d="M123 147.32h15.38v49.11h-15.38z" fill="#0060ff"/><path d="M138.38 147.32h15.38v49.11h-15.38z" fill="#0020ff"/><path d="M153.75 147.32h15.38v49.11h-15.38z" fill="#009fff"/><path d="M169.12 147.32h15.38v49.11h-15.38z" fill="#00bfff"/><path d="M184.5 147.32h15.38v49.11h-15.38z" fill="#009fff"/><path d="M199.88 147.32h46.12v49.11h-46.12z" fill="#0ff"/><path d="M246 147.32h15.38v49.11h-15.38z" fill="#20ffdf"/><path d="M261.38 147.32h15.38v49.11h-15.38z" fill="#00dfff"/><path d="M276.75 147.32h15.38v49.11h-15.38z" fill="#0ff"/><path d="M292.12 147.32h30.75v49.11h-30.75z" fill="#00bfff"/><path d="M322.88 147.32h30.75v49.11h-30.75z" fill="#009fff"/><path d="M353.62 147.32h15.38v49.11h-15.38z" fill="#00bfff"/><path d="M0 196.43h15.38v49.11h-15.38z" fill="#0060ff"/><path d="M15.38 196.43h46.12v49.11h-46.12z" fill="#0080ff"/><path d="M61.5 196.43h30.75v49.11h-30.75z" fill="#009fff"/><path d="M92.25 196.43h30.75v49.11h-30.75z" fill="#0020ff"/><path d="M123 196.43h15.38v49.11h-15.38z" fill="#0060ff"/><path d="M138.38 196.43h15.38v49.11h-15.38z" fill="#0020ff"/><path d="M153.75 196.43h30.75v49.11h-30.75z" fill="#0060ff"/><path d="M184.5 196.43h92.25v49.11h-92.25z" fill="#0080ff"/><path d="M276.75 196.43h15.38v49.11h-15.38z" fill="#009fff"/><path d="M292.12 196.43h15.38v49.11h-15.38z" fill="#0060ff"/><path d="M307.5 196.43h30.75v49.11h-30.75z" fill="#0020ff"/><path d="M338.25 196.43h30.75v49.11h-30.75z" fill="#0040ff"/><path d="M0 245.54h15.38v49.11h-15.38z" fill="#0020ff"/><path d="M15.38 245.54h15.38v49.11h-15.38z" fill="#0060ff"/><path d="M30.75 245.54h15.38v49.11h-15.38z" fill="#0040ff"/><path d="M46.12 245.54h15.38v49.11h-15.38z" fill="#0060ff"/><path d="M61.5 245.54h15.38v49.11h-15.38z" fill="#0040ff"/><path d="M76.88 245.54h15.38v49.11h-15.38z" fill="#0060ff"/><path d="M92.25 245.54h15.38v49.11h-15.38z" fill="#0020ff"/><path d="M107.62 245.54h15.38v49.11h-15.38z" fill="#00f"/><path d="M123 245.54h15.38v49.11h-15.38z" fill="#0060ff"/><path d="M138.38 245.54h15.38v49.11h-15.38z" fill="#0040ff"/><path d="M153.75 245.54h15.38v49.11h-15.38z" fill="#0060ff"/><path d="M169.12 245.54h46.12v49.11h-46.12z" fill="#0080ff"/><path d="M215.25 245.54h15.38v49.11h-15.38z" fill="#0060ff"/><path d="M230.62 245.54h46.12v49.11h-46.12z" fill="#0080ff"/><path d="M276.75 245.54h30.75v49.11h-30.75z" fill="#0040ff"/><path d="M307.5 245.54h30.75v49.11h-30.75z" fill="#00f"/><path d="M338.25 245.54h15.38v49.11h-15.38z" fill="#0020ff"/><path d="M353.62 245.54h15.38v49.11h-15.38z" fill="#0040ff"/><path d="M0 294.65h15.38v49.11h-15.38z" fill="#009fff"/><path d="M15.38 294.65h61.5v49.11h-61.5z" fill="#00bfff"/><path d="M76.88 294.65h15.38v49.11h-15.38z" fill="#00dfff"/><path d="M92.25 294.65h15.38v49.11h-15.38z" fill="#0080ff"/><path d="M107.62 294.65h30.75v49.11h-30.75z" fill="#0060ff"/><path d="M138.38 294.65h15.38v49.11h-15.38z" fill="#0080ff"/><path d="M153.75 294.65h15.38v49.11h-15.38z" fill="#009fff"/><path d="M169.12 294.65h30.75v49.11h-30.75z" fill="#00bfff"/><path d="M199.88 294.65h15.38v49.11h-15.38z" fill="#00dfff"/><path d="M215.25 294.65h15.38v49.11h-15.38z" fill="#0ff"/><path d="M230.62 294.65h15.38v49.11h-15.38z" fill="#00dfff"/><path d="M246 294.65h30.75v49.11h-30.75z" fill="#0ff"/><path d="M276.75 294.65h46.12v49.11h-46.12z" fill="#0060ff"/><path d="M322.88 294.65h30.75v49.11h-30.75z" fill="#0040ff"/><path d="M353.62 294.65h15.38v49.11h-15.38z" fill="#009fff"/><path d="M0 343.76h76.88v49.11h-76.88z" fill="#0080ff"/><path d="M76.88 343.76h15.38v49.11h-15.38z" fill="#009fff"/><path d="M92.25 343.76h15.38v49.11h-15.38z" fill="#00dfff"/><path d="M107.62 343.76h46.12v49.11h-46.12z" fill="#00bfff"/><path d="M153.75 343.76h15.38v49.11h-15.38z" fill="#009fff"/><path d="M169.12 343.76h15.38v49.11h-15.38z" fill="#00dfff"/><path d="M184.5 343.76h15.38v49.11h-15.38z" fill="#0ff"/><path d="M199.88 343.76h15.38v49.11h-15.38z" fill="#20ffdf"/><path d="M215.25 343.76h30.75v49.11h-30.75z" fill="#40ffbf"/><path d="M246 343.76h15.38v49.11h-15.38z" fill="#60ff9f"/><path d="M261.38 343.76h15.38v49.11h-15.38z" fill="#40ffbf"/><path d="M276.75 343.76h15.38v49.11h-15.38z" fill="#00dfff"/><path d="M292.12 343.76h15.38v49.11h-15.38z" fill="#00bfff"/><path d="M307.5 343.76h30.75v49.11h-30.75z" fill="#009fff"/><path d="M338.25 343.76h15.38v49.11h-15.38z" fill="#0080ff"/><path d="M353.62 343.76h15.38v49.11h-15.38z" fill="#0060ff"/><path d="M0 392.87h15.38v49.11h-15.38z" fill="#0ff"/><path d="M15.38 392.87h15.38v49.11h-15.38z" fill="#20ffdf"/><path d="M30.75 392.87h15.38v49.11h-15.38z" fill="#0ff"/><path d="M46.12 392.87h15.38v49.11h-15.38z" fill="#20ffdf"/><path d="M61.5 392.87h15.38v49.11h-15.38z" fill="#40ffbf"/><path d="M76.88 392.87h15.38v49.11h-15.38z" fill="#0ff"/><path d="M92.25 392.87h15.38v49.11h-15.38z" fill="#20ffdf"/><path d="M107.62 392.87h30.75v49.11h-30.75z" fill="#00dfff"/><path d="M138.38 392.87h15.38v49.11h-15.38z" fill="#00bfff"/><path d="M153.75 392.87h30.75v49.11h-30.75z" fill="#0ff"/><path d="M184.5 392.87h30.75v49.11h-30.75z" fill="#40ffbf"/><path d="M215.25 392.87h15.38v49.11h-15.38z" fill="#80ff80"/><path d="M230.62 392.87h15.38v49.11h-15.38z" fill="#40ffbf"/><path d="M246 392.87h15.38v49.11h-15.38z" fill="#60ff9f"/><path d="M261.38 392.87h30.75v49.11h-30.75z" fill="#40ffbf"/><path d="M292.12 392.87h15.38v49.11h-15.38z" fill="#20ffdf"/><path d="M307.5 392.87h15.38v49.11h-15.38z" fill="#0ff"/><path d="M322.88 392.87h15.38v49.11h-15.38z" fill="#00dfff"/><path d="M338.25 392.87h15.38v49.11h-15.38z" fill="#20ffdf"/><path d="M353.62 392.87h15.38v49.11h-15.38z" fill="#0ff"/><path d="M0 441.97h15.38v49.11h-15.38z" fill="#20ffdf"/><path d="M15.38 441.97h30.75v49.11h-30.75z" fill="#0ff"/><path d="M46.12 441.97h30.75v49.11h-30.75z" fill="#40ffbf"/><path d="M76.88 441.97h15.38v49.11h-15.38z" fill="#20ffdf"/><path d="M92.25 441.97h30.75v49.11h-30.75z" fill="#0ff"/><path d="M123 441.97h15.38v49.11h-15.38z" fill="#00dfff"/><path d="M138.38 441.97h46.12v49.11h-46.12z" fill="#0ff"/><path d="M184.5 441.97h30.75v49.11h-30.75z" fill="#40ffbf"/><path d="M215.25 441.97h30.75v49.11h-30.75z" fill="#80ff80"/><path d="M246 441.97h15.38v49.11h-15.38z" fill="#40ffbf"/><path d="M261.38 441.97h15.38v49.11h-15.38z" fill="#60ff9f"/><path d="M276.75 441.97h15.38v49.11h-15.38z" fill="#40ffbf"/><path d="M292.12 441.97h15.38v49.11h-15.38z" fill="#0ff"/><path d="M307.5 441.97h30.75v49.11h-30.75z" fill="#00bfff"/><path d="M338.25 441.97h15.38v49.11h-15.38z" fill="#00dfff"/><path d="M353.62 441.97h15.38v49.11h-15.38z" fill="#20ffdf"/><path d="M0 491.08h15.38v49.11h-15.38z" fill="#80ff80"/><path d="M15.38 491.08h15.38v49.11h-15.38z" fill="#60ff9f"/><path d="M30.75 491.08h15.38v49.11h-15.38z" fill="#80ff80"/><path d="M46.12 491.08h15.38v49.11h-15.38z" fill="#bfff40"/><path d="M61.5 491.08h15.38v49.11h-15.38z" fill="#80ff80"/><path d="M76.88 491.08h15.38v49.11h-15.38z" fill="#40ffbf"/><path d="M92.25 491.08h15.38v49.11h-15.38z" fill="#80ff80"/><path d="M107.62 491.08h15.38v49.11h-15.38z" fill="#20ffdf"/><path d="M123 491.08h15.38v49.11h-15.38z" fill="#0ff"/><path d="M138.38 491.08h46.12v49.11h-46.12z" fill="#40ffbf"/><path d="M184.5 491.08h15.38v49.11h-15.38z" fill="#60ff9f"/><path d="M199.88 491.08h15.38v49.11h-15.38z" fill="#80ff80"/><path d="M215.25 491.08h15.38v49.11h-15.38z" fill="#ff0"/><path d="M230.62 491.08h15.38v49.11h-15.38z" fill="#80ff80"/><path d="M246 491.08h15.38v49.11h-15.38z" fill="#dfff20"/><path d="M261.38 491.08h30.75v49.11h-30.75z" fill="#80ff80"/><path d="M292.12 491.08h15.38v49.11h-15.38z" fill="#60ff9f"/><path d="M307.5 491.08h15.38v49.11h-15.38z" fill="#20ffdf"/><path d="M322.88 491.08h15.38v49.11h-15.38z" fill="#40ffbf"/><path d="M338.25 491.08h30.75v49.11h-30.75z" fill="#80ff80"/><path d="M0 540.19h30.75v49.11h-30.75z" fill="#80ff80"/><path d="M30.75 540.19h30.75v49.11h-30.75z" fill="#dfff20"/><path d="M61.5 540.19h15.38v49.11h-15.38z" fill="#ff0"/><path d="M76.88 540.19h15.38v49.11h-15.38z" fill="#dfff20"/><path d="M92.25 540.19h30.75v49.11h-30.75z" fill="#9fff60"/><path d="M123 540.19h15.38v49.11h-15.38z" fill="#80ff80"/><path d="M138.38 540.19h30.75v49.11h-30.75z" fill="#40ffbf"/><path d="M169.12 540.19h15.38v49.11h-15.38z" fill="#20ffdf"/><path d="M184.5 540.19h15.38v49.11h-15.38z" fill="#80ff80"/><path d="M199.88 540.19h15.38v49.11h-15.38z" fill="#bfff40"/><path d="M215.25 540.19h30.75v49.11h-30.75z" fill="#9fff60"/><path d="M246 540.19h15.38v49.11h-15.38z" fill="#80ff80"/><path d="M261.38 540.19h15.38v49.11h-15.38z" fill="#9fff60"/><path d="M276.75 540.19h15.38v49.11h-15.38z" fill="#80ff80"/><path d="M292.12 540.19h61.5v49.11h-61.5z" fill="#60ff9f"/><path d="M353.62 540.19h15.38v49.11h-15.38z" fill="#40ffbf"/>
<path class="g" d="M0 0v589.3M15.38 0v589.3M30.75 0v589.3M46.12 0v589.3M61.5 0v589.3M76.88 0v589.3M92.25 0v589.3M107.62 0v589.3M123 0v589.3M138.38 0v589.3M153.75 0v589.3M169.12 0v589.3M184.5 0v589.3M199.88 0v589.3M215.25 0v589.3M230.62 0v589.3M246 0v589.3M261.38 0v589.3M276.75 0v589.3M292.12 0v589.3M307.5 0v589.3M322.88 0v589.3M338.25 0v589.3M353.62 0v589.3M369 0v589.3M0 0h369M0 49.11h369M0 98.22h369M0 147.32h369M0 196.43h369M0 245.54h369M0 294.65h369M0 343.76h369M0 392.87h369M0 441.97h369M0 491.08h369M0 540.19h369M0 589.3h369"/>
<path class="k" d="M-6 49.11h6M-6 98.22h6M-6 147.32h6M-6 196.43h6M-6 245.54h6M-6 294.65h6M-6 343.76h6M-6 392.87h6M-6 441.97h6M-6 491.08h6M-6 540.19h6M-6 589.3h6M0 589.3v6M46.12 589.3v6M92.25 589.3v6M138.38 589.3v6M184.5 589.3v6M230.62 589.3v6M276.75 589.3v6M322.88 589.3v6"/>
</g>
<text class="t" x="273.5" y="1315.7">ERA5</text>
<text class="m" x="75.4" y="1375.51">D</text>
<text class="m" x="75.4" y="1424.62">N</text>
<text class="m" x="75.4" y="1473.72">O</text>
<text class="m" x="75.4" y="1522.83">S</text>
<text class="m" x="75.4" y="1571.94">A</text>
<text class="m" x="75.4" y="1621.05">J</text>
<text class="m" x="75.4" y="1670.16">J</text>
<text class="m" x="75.4" y="1719.27">M</text>
<text class="m" x="75.4" y="1768.37">A</text>
<text class="m" x="75.4" y="1817.48">M</text>
<text class="m" x="75.4" y="1866.59">F</text>
<text class="m" x="75.4" y="1915.7">J</text>
<text class="l" transform="translate(44.4 1611.95) rotate(-90)">Month</text>
<g transform="translate(494.5 1317.3)">
<path d="M0 0h46.12v49.11h-46.12z" fill="#dfff20"/><path d="M46.12 0h15.38v49.11h-15.38z" fill="#ff0"/><path d="M61.5 0h15.38v49.11h-15.38z" fill="#ffdf00"/><path d="M76.88 0h46.12v49.11h-46.12z" fill="#ffbf00"/><path d="M123 0h15.38v49.11h-15.38z" fill="#dfff20"/><path d="M138.38 0h46.12v49.11h-46.12z" fill="#ffdf00"/><path d="M184.5 0h15.38v49.11h-15.38z" fill="#dfff20"/><path d="M199.88 0h30.75v49.11h-30.75z" fill="#ff0"/><path d="M230.62 0h30.75v49.11h-30.75z" fill="#ff9f00"/><path d="M261.38 0h15.38v49.11h-15.38z" fill="#ffbf00"/><path d="M276.75 0h30.75v49.11h-30.75z" fill="#ff0"/><path d="M307.5 0h15.38v49.11h-15.38z" fill="#dfff20"/><path d="M322.88 0h15.38v49.11h-15.38z" fill="#9fff60"/><path d="M338.25 0h15.38v49.11h-15.38z" fill="#dfff20"/><path d="M353.62 0h15.38v49.11h-15.38z" fill="#ffdf00"/><path d="M0 49.11h30.75v49.11h-30.75z" fill="#bfff40"/><path d="M30.75 49.11h15.38v49.11h-15.38z" fill="#ff0"/><path d="M46.12 49.11h15.38v49.11h-15.38z" fill="#dfff20"/><path d="M61.5 49.11h15.38v49.11h-15.38z" fill="#ff0"/><path d="M76.88 49.11h15.38v49.11h-15.38z" fill="#dfff20"/><path d="M92.25 49.11h46.12v49.11h-46.12z" fill="#ff0"/><path d="M138.38 49.11h15.38v49.11h-15.38z" fill="#dfff20"/><path d="M153.75 49.11h30.75v49.11h-30.75z" fill="#ff0"/><path d="M184.5 49.11h46.12v49.11h-46.12z" fill="#9fff60"/><path d="M230.62 49.11h15.38v49.11h-15.38z" fill="#ff0"/><path d="M246 49.11h15.38v49.11h-15.38z" fill="#ff9f00"/><path d="M261.38 49.11h30.75v49.11h-30.75z" fill="#ffbf00"/><path d="M292.12 49.11h15.38v49.11h-15.38z" fill="#dfff20"/><path d="M307.5 49.11h15.38v49.11h-15.38z" fill="#9fff60"/><path d="M322.88 49.11h30.75v49.11h-30.75z" fill="#bfff40"/><path d="M353.62 49.11h15.38v49.11h-15.38z" fill="#dfff20"/><path d="M0 98.22h30.75v49.11h-30.75z" fill="#20ffdf"/><path d="M30.75 98.22h15.38v49.11h-15.38z" fill="#0ff"/><path d="M46.12 98.22h30.75v49.11h-30.75z" fill="#60ff9f"/><path d="M76.88 98.22h15.38v49.11h-15.38z" fill="#40ffbf"/><path d="M92.25 98.22h46.12v49.11h-46.12z" fill="#20ffdf"/><path d="M138.38 98.22h46.12v49.11h-46.12z" fill="#0ff"/><path d="M184.5 98.22h30.75v49.11h-30.75z" fill="#60ff9f"/><path d="M215.25 98.22h15.38v49.11h-15.38z" fill="#80ff80"/><path d="M230.62 98.22h30.75v49.11h-30.75z" fill="#bfff40"/><path d="M261.38 98.22h15.38v49.11h-15.38z" fill="#80ff80"/><path d="M276.75 98.22h15.38v49.11h-15.38z" fill="#60ff9f"/><path d="M292.12 98.22h15.38v49.11h-15.38z" fill="#40ffbf"/><path d="M307.5 98.22h30.75v49.11h-30.75z" fill="#0ff"/><path d="M338.25 98.22h30.75v49.11h-30.75z" fill="#20ffdf"/><path d="M0 147.32h30.75v49.11h-30.75z" fill="#20ffdf"/><path d="M30.75 147.32h15.38v49.11h-15.38z" fill="#0ff"/><path d="M46.12 147.32h15.38v49.11h-15.38z" fill="#60ff9f"/><path d="M61.5 147.32h15.38v49.11h-15.38z" fill="#20ffdf"/><path d="M76.88 147.32h15.38v49.11h-15.38z" fill="#40ffbf"/><path d="M92.25 147.32h15.38v49.11h-15.38z" fill="#20ffdf"/><path d="M107.62 147.32h15.38v49.11h-15.38z" fill="#40ffbf"/><path d="M123 147.32h15.38v49.11h-15.38z" fill="#0ff"/><path d="M138.38 147.32h15.38v49.11h-15.38z" fill="#00bfff"/><path d="M153.75 147.32h15.38v49.11h-15.38z" fill="#40ffbf"/><path d="M169.12 147.32h15.38v49.11h-15.38z" fill="#60ff9f"/><path d="M184.5 147.32h15.38v49.11h-15.38z" fill="#40ffbf"/><path d="M199.88 147.32h15.38v49.11h-15.38z" fill="#80ff80"/><path d="M215.25 147.32h15.38v49.11h-15.38z" fill="#9fff60"/><path d="M230.62 147.32h15.38v49.11h-15.38z" fill="#80ff80"/><path d="M246 147.32h15.38v49.11h-15.38z" fill="#bfff40"/><path d="M261.38 147.32h30.75v49.11h-30.75z" fill="#80ff80"/><path d="M292.12 147.32h61.5v49.11h-61.5z" fill="#40ffbf"/><path d="M353.62 147.32h15.38v49.11h-15.38z" fill="#60ff9f"/><path d="M0 196.43h15.38v49.11h-15.38z" fill="#0ff"/><path d="M15.38 196.43h15.38v49.11h-15.38z" fill="#20ffdf"/><path d="M30.75 196.43h15.38v49.11h-15.38z" fill="#0ff"/><path d="M46.12 196.43h15.38v49.11h-15.38z" fill="#20ffdf"/><path d="M61.5 196.43h15.38v49.11h-15.38z" fill="#0ff"/><path d="M76.88 196.43h15.38v49.11h-15.38z" fill="#20ffdf"/><path d="M92.25 196.43h30.75v49.11h-30.75z" fill="#009fff"/><path d="M123 196.43h15.38v49.11h-15.38z" fill="#00bfff"/><path d="M138.38 196.43h30.75v49.11h-30.75z" fill="#009fff"/><path d="M169.12 196.43h15.38v49.11h-15.38z" fill="#00bfff"/><path d="M184.5 196.43h30.75v49.11h-30.75z" fill="#0ff"/><path d="M215.25 196.43h46.12v49.11h-46.12z" fill="#20ffdf"/><path d="M261.38 196.43h15.38v49.11h-15.38z" fill="#40ffbf"/><path d="M276.75 196.43h15.38v49.11h-15.38z" fill="#20ffdf"/><path d="M292.12 196.43h15.38v49.11h-15.38z" fill="#0ff"/><path d="M307.5 196.43h30.75v49.11h-30.75z" fill="#009fff"/><path d="M338.25 196.43h15.38v49.11h-15.38z" fill="#0ff"/><path d="M353.62 196.43h15.38v49.11h-15.38z" fill="#20ffdf"/><path d="M0 245.54h15.38v49.11h-15.38z" fill="#0ff"/><path d="M15.38 245.54h15.38v49.11h-15.38z" fill="#40ffbf"/><path d="M30.75 245.54h15.38v49.11h-15.38z" fill="#0ff"/><path d="M46.12 245.54h15.38v49.11h-15.38z" fill="#009fff"/><path d="M61.5 245.54h15.38v49.11h-15.38z" fill="#0ff"/><path d="M76.88 245.54h15.38v49.11h-15.38z" fill="#20ffdf"/><path d="M92.25 245.54h15.38v49.11h-15.38z" fill="#0ff"/><path d="M107.62 245.54h15.38v49.11h-15.38z" fill="#00bfff"/><path d="M123 245.54h15.38v49.11h-15.38z" fill="#0ff"/><path d="M138.38 245.54h15.38v49.11h-15.38z" fill="#00bfff"/><path d="M153.75 245.54h15.38v49.11h-15.38z" fill="#20ffdf"/><path d="M169.12 245.54h15.38v49.11h-15.38z" fill="#00dfff"/><path d="M184.5 245.54h46.12v49.11h-46.12z" fill="#20ffdf"/><path d="M230.62 245.54h15.38v49.11h-15.38z" fill="#0ff"/><path d="M246 245.54h15.38v49.11h-15.38z" fill="#20ffdf"/><path d="M261.38 245.54h15.38v49.11h-15.38z" fill="#40ffbf"/><path d="M276.75 245.54h15.38v49.11h-15.38z" fill="#60ff9f"/><path d="M292.12 245.54h15.38v49.11h-15.38z" fill="#40ffbf"/><path d="M307.5 245.54h15.38v49.11h-15.38z" fill="#0080ff"/><path d="M322.88 245.54h15.38v49.11h-15.38z" fill="#0040ff"/><path d="M338.25 245.54h15.38v49.11h-15.38z" fill="#009fff"/><path d="M353.62 245.54h15.38v49.11h-15.38z" fill="#0ff"/><path d="M0 294.65h15.38v49.11h-15.38z" fill="#40ffbf"/><path d="M15.38 294.65h15.38v49.11h-15.38z" fill="#60ff9f"/><path d="M30.75 294.65h15.38v49.11h-15.38z" fill="#0ff"/><path d="M46.12 294.65h30.75v49.11h-30.75z" fill="#40ffbf"/><path d="M76.88 294.65h15.38v49.11h-15.38z" fill="#60ff9f"/><path d="M92.25 294.65h15.38v49.11h-15.38z" fill="#0ff"/><path d="M107.62 294.65h15.38v49.11h-15.38z" fill="#60ff9f"/><path d="M123 294.65h15.38v49.11h-15.38z" fill="#40ffbf"/><path d="M138.38 294.65h15.38v49.11h-15.38z" fill="#00dfff"/><path d="M153.75 294.65h15.38v49.11h-15.38z" fill="#60ff9f"/><path d="M169.12 294.65h30.75v49.11h-30.75z" fill="#9fff60"/><path d="M199.88 294.65h15.38v49.11h-15.38z" fill="#dfff20"/><path d="M215.25 294.65h15.38v49.11h-15.38z" fill="#9fff60"/><path d="M230.62 294.65h15.38v49.11h-15.38z" fill="#40ffbf"/><path d="M246 294.65h15.38v49.11h-15.38z" fill="#80ff80"/><path d="M261.38 294.65h15.38v49.11h-15.38z" fill="#dfff20"/><path d="M276.75 294.65h30.75v49.11h-30.75z" fill="#9fff60"/><path d="M307.5 294.65h15.38v49.11h-15.38z" fill="#80ff80"/><path d="M322.88 294.65h30.75v49.11h-30.75z" fill="#0ff"/><path d="M353.62 294.65h15.38v49.11h-15.38z" fill="#40ffbf"/><path d="M0 343.76h15.38v49.11h-15.38z" fill="#40ffbf"/><path d="M15.38 343.76h15.38v49.11h-15.38z" fill="#60ff9f"/><path d="M30.75 343.76h15.38v49.11h-15.38z" fill="#40ffbf"/><path d="M46.12 343.76h15.38v49.11h-15.38z" fill="#0ff"/><path d="M61.5 343.76h15.38v49.11h-15.38z" fill="#20ffdf"/><path d="M76.88 343.76h15.38v49.11h-15.38z" fill="#40ffbf"/><path d="M92.25 343.76h30.75v49.11h-30.75z" fill="#60ff9f"/><path d="M123 343.76h15.38v49.11h-15.38z" fill="#40ffbf"/><path d="M138.38 343.76h15.38v49.11h-15.38z" fill="#60ff9f"/><path d="M153.75 343.76h15.38v49.11h-15.38z" fill="#80ff80"/><path d="M169.12 343.76h15.38v49.11h-15.38z" fill="#9fff60"/><path d="M184.5 343.76h30.75v49.11h-30.75z" fill="#bfff40"/><path d="M215.25 343.76h15.38v49.11h-15.38z" fill="#dfff20"/><path d="M230.62 343.76h15.38v49.11h-15.38z" fill="#ff0"/><path d="M246 343.76h15.38v49.11h-15.38z" fill="#dfff20"/><path d="M261.38 343.76h15.38v49.11h-15.38z" fill="#ffdf00"/><path d="M276.75 343.76h30.75v49.11h-30.75z" fill="#bfff40"/><path d="M307.5 343.76h15.38v49.11h-15.38z" fill="#80ff80"/><path d="M322.88 343.76h15.38v49.11h-15.38z" fill="#60ff9f"/><path d="M338.25 343.76h15.38v49.11h-15.38z" fill="#20ffdf"/><path d="M353.62 343.76h15.38v49.11h-15.38z" fill="#40ffbf"/><path d="M0 392.87h30.75v49.11h-30.75z" fill="#9fff60"/><path d="M30.75 392.87h30.75v49.11h-30.75z" fill="#60ff9f"/><path d="M61.5 392.87h15.38v49.11h-15.38z" fill="#bfff40"/><path d="M76.88 392.87h46.12v49.11h-46.12z" fill="#80ff80"/><path d="M123 392.87h15.38v49.11h-15.38z" fill="#40ffbf"/><path d="M138.38 392.87h15.38v49.11h-15.38z" fill="#60ff9f"/><path d="M153.75 392.87h15.38v49.11h-15.38z" fill="#9fff60"/><path d="M169.12 392.87h30.75v49.11h-30.75z" fill="#dfff20"/><path d="M199.88 392.87h15.38v49.11h-15.38z" fill="#ff0"/><path d="M215.25 392.87h15.38v49.11h-15.38z" fill="#ffdf00"/><path d="M230.62 392.87h15.38v49.11h-15.38z" fill="#bfff40"/><path d="M246 392.87h15.38v49.11h-15.38z" fill="#ffbf00"/><path d="M261.38 392.87h15.38v49.11h-15.38z" fill="#dfff20"/><path d="M276.75 392.87h15.38v49.11h-15.38z" fill="#ffdf00"/><path d="M292.12 392.87h15.38v49.11h-15.38z" fill="#ff0"/><path d="M307.5 392.87h15.38v49.11h-15.38z" fill="#80ff80"/><path d="M322.88 392.87h15.38v49.11h-15.38z" fill="#60ff9f"/><path d="M338.25 392.87h30.75v49.11h-30.75z" fill="#9fff60"/><path d="M0 441.97h15.38v49.11h-15.38z" fill="#dfff20"/><path d="M15.38 441.97h15.38v49.11h-15.38z" fill="#9fff60"/><path d="M30.75 441.97h15.38v49.11h-15.38z" fill="#80ff80"/><path d="M46.12 441.97h15.38v49.11h-15.38z" fill="#9fff60"/><path d="M61.5 441.97h15.38v49.11h-15.38z" fill="#ff0"/><path d="M76.88 441.97h15.38v49.11h-15.38z" fill="#dfff20"/><path d="M92.25 441.97h15.38v49.11h-15.38z" fill="#bfff40"/><path d="M107.62 441.97h15.38v49.11h-15.38z" fill="#ff0"/><path d="M123 441.97h30.75v49.11h-30.75z" fill="#9fff60"/><path d="M153.75 441.97h30.75v49.11h-30.75z" fill="#dfff20"/><path d="M184.5 441.97h15.38v49.11h-15.38z" fill="#ffdf00"/><path d="M199.88 441.97h15.38v49.11h-15.38z" fill="#ff9f00"/><path d="M215.25 441.97h15.38v49.11h-15.38z" fill="#ffdf00"/><path d="M230.62 441.97h15.38v49.11h-15.38z" fill="#ff8000"/><path d="M246 441.97h30.75v49.11h-30.75z" fill="#ff9f00"/><path d="M276.75 441.97h15.38v49.11h-15.38z" fill="#ff8000"/><path d="M292.12 441.97h15.38v49.11h-15.38z" fill="#dfff20"/><path d="M307.5 441.97h15.38v49.11h-15.38z" fill="#bfff40"/><path d="M322.88 441.97h30.75v49.11h-30.75z" fill="#80ff80"/><path d="M353.62 441.97h15.38v49.11h-15.38z" fill="#ff0"/><path d="M0 491.08h30.75v49.11h-30.75z" fill="#dfff20"/><path d="M30.75 491.08h15.38v49.11h-15.38z" fill="#ff0"/><path d="M46.12 491.08h15.38v49.11h-15.38z" fill="#ffbf00"/><path d="M61.5 491.08h15.38v49.11h-15.38z" fill="#ffdf00"/><path d="M76.88 491.08h15.38v49.11h-15.38z" fill="#dfff20"/><path d="M92.25 491.08h15.38v49.11h-15.38z" fill="#ff0"/><path d="M107.62 491.08h15.38v49.11h-15.38z" fill="#9fff60"/><path d="M123 491.08h15.38v49.11h-15.38z" fill="#80ff80"/><path d="M138.38 491.08h15.38v49.11h-15.38z" fill="#dfff20"/><path d="M153.75 491.08h15.38v49.11h-15.38z" fill="#ffbf00"/><path d="M169.12 491.08h15.38v49.11h-15.38z" fill="#ffdf00"/><path d="M184.5 491.08h15.38v49.11h-15.38z" fill="#ffbf00"/><path d="M199.88 491.08h15.38v49.11h-15.38z" fill="#ffdf00"/><path d="M215.25 491.08h15.38v49.11h-15.38z" fill="#ff0"/><path d="M230.62 491.08h15.38v49.11h-15.38z" fill="#bfff40"/><path d="M246 491.08h15.38v49.11h-15.38z" fill="#ff0"/><path d="M261.38 491.08h15.38v49.11h-15.38z" fill="#ffdf00"/><path d="M276.75 491.08h15.38v49.11h-15.38z" fill="#ff0"/><path d="M292.12 491.08h15.38v49.11h-15.38z" fill="#ffdf00"/><path d="M307.5 491.08h15.38v49.11h-15.38z" fill="#dfff20"/><path d="M322.88 491.08h15.38v49.11h-15.38z" fill="#80ff80"/><path d="M338.25 491.08h15.38v49.11h-15.38z" fill="#bfff40"/><path d="M353.62 491.08h15.38v49.11h-15.38z" fill="#dfff20"/><path d="M0 540.19h15.38v49.11h-15.38z" fill="#ff0"/><path d="M15.38 540.19h30.75v49.11h-30.75z" fill="#ffdf00"/><path d="M46.12 540.19h30.75v49.11h-30.75z" fill="#ff0"/><path d="M76.88 540.19h15.38v49.11h-15.38z" fill="#ffbf00"/><path d="M92.25 540.19h15.38v49.11h-15.38z" fill="#ff0"/><path d="M107.62 540.19h15.38v49.11h-15.38z" fill="#ffdf00"/><path d="M123 540.19h15.38v49.11h-15.38z" fill="#dfff20"/><path d="M138.38 540.19h15.38v49.11h-15.38z" fill="#9fff60"/><path d="M153.75 540.19h15.38v49.11h-15.38z" fill="#ff0"/><path d="M169.12 540.19h15.38v49.11h-15.38z" fill="#dfff20"/><path d="M184.5 540.19h15.38v49.11h-15.38z" fill="#ff0"/><path d="M199.88 540.19h15.38v49.11h-15.38z" fill="#ffbf00"/><path d="M215.25 540.19h15.38v49.11h-15.38z" fill="#ff0"/><path d="M230.62 540.19h15.38v49.11h-15.38z" fill="#ffbf00"/><path d="M246 540.19h15.38v49.11h-15.38z" fill="#ffdf00"/><path d="M261.38 540.19h15.38v49.11h-15.38z" fill="#ff0"/><path d="M276.75 540.19h15.38v49.11h-15.38z" fill="#dfff20"/><path d="M292.12 540.19h15.38v49.11h-15.38z" fill="#ff0"/><path d="M307.5 540.19h15.38v49.11h-15.38z" fill="#9fff60"/><path d="M322.88 540.19h30.75v49.11h-30.75z" fill="#bfff40"/><path d="M353.62 540.19h15.38v49.11h-15.38z" fill="#dfff20"/>
<path class="g" d="M0 0v589.3M15.38 0v589.3M30.75 0v589.3M46.12 0v589.3M61.5 0v589.3M76.88 0v589.3M92.25 0v589.3M107.62 0v589.3M123 0v589.3M138.38 0v589.3M153.75 0v589.3M169.12 0v589.3M184.5 0v589.3M199.88 0v589.3M215.25 0v589.3M230.62 0v589.3M246 0v589.3M261.38 0v589.3M276.75 0v589.3M292.12 0v589.3M307.5 0v589.3M322.88 0v589.3M338.25 0v589.3M353.62 0v589.3M369 0v589.3M0 0h369M0 49.11h369M0 98.22h369M0 147.32h369M0 196.43h369M0 245.54h369M0 294.65h369M0 343.76h369M0 392.87h369M0 441.97h369M0 491.08h369M0 540.19h369M0 589.3h369"/>
<path class="k" d="M-6 49.11h6M-6 98.22h6M-6 147.32h6M-6 196.43h6M-6 245.54h6M-6 294.65h6M-6 343.76h6M-6 392.87h6M-6 441.97h6M-6 491.08h6M-6 540.19h6M-6 589.3h6M0 589.3v6M46.12 589.3v6M92.25 589.3v6M138.38 589.3v6M184.5 589.3v6M230.62 589.3v6M276.75 589.3v6M322.88 589.3v6"/>
</g>
<text class="t" x="679" y="1315.7">CFSv2</text>
<g transform="translate(89 1936.9)">
<path d="M0 0h30.75v49.11h-30.75z" fill="#ff6000"/><path d="M30.75 0h15.38v49.11h-15.38z" fill="#ff4000"/><path d="M46.12 0h15.38v49.11h-15.38z" fill="#ff8000"/><path d="M61.5 0h15.38v49.11h-15.38z" fill="#ff4000"/><path d="M76.88 0h30.75v49.11h-30.75z" fill="#ff2000"/><path d="M107.62 0h15.38v49.11h-15.38z" fill="#f00"/><path d="M123 0h15.38v49.11h-15.38z" fill="#df0000"/><path d="M138.38 0h15.38v49.11h-15.38z" fill="#ff4000"/><path d="M153.75 0h15.38v49.11h-15.38z" fill="#ff2000"/><path d="M169.12 0h15.38v49.11h-15.38z" fill="#ff4000"/><path d="M184.5 0h30.75v49.11h-30.75z" fill="#ff8000"/><path d="M215.25 0h15.38v49.11h-15.38z" fill="#ff4000"/><path d="M230.62 0h15.38v49.11h-15.38z" fill="#f00"/><path d="M246 0h15.38v49.11h-15.38z" fill="#bf0000"/><path d="M261.38 0h15.38v49.11h-15.38z" fill="#9f0000"/><path d="M276.75 0h15.38v49.11h-15.38z" fill="#bf0000"/><path d="M292.12 0h15.38v49.11h-15.38z" fill="#ff2000"/><path d="M307.5 0h15.38v49.11h-15.38z" fill="#f00"/><path d="M322.88 0h15.38v49.11h-15.38z" fill="#ff4000"/><path d="M338.25 0h15.38v49.11h-15.38z" fill="#ff6000"/><path d="M353.62 0h15.38v49.11h-15.38z" fill="#f00"/><path d="M0 49.11h15.38v49.11h-15.38z" fill="#df0000"/><path d="M15.38 49.11h15.38v49.11h-15.38z" fill="#f00"/><path d="M30.75 49.11h15.38v49.11h-15.38z" fill="#800000"/><path d="M46.12 49.11h30.75v49.11h-30.75z" fill="#ff2000"/><path d="M76.88 49.11h15.38v49.11h-15.38z" fill="#ff4000"/><path d="M92.25 49.11h30.75v49.11h-30.75z" fill="#ff8000"/><path d="M123 49.11h15.38v49.11h-15.38z" fill="#ff4000"/><path d="M138.38 49.11h15.38v49.11h-15.38z" fill="#ff6000"/><path d="M153.75 49.11h15.38v49.11h-15.38z" fill="#ff4000"/><path d="M169.12 49.11h15.38v49.11h-15.38z" fill="#f00"/><path d="M184.5 49.11h15.38v49.11h-15.38z" fill="#ff6000"/><path d="M199.88 49.11h15.38v49.11h-15.38z" fill="#ff8000"/><path d="M215.25 49.11h15.38v49.11h-15.38z" fill="#ff4000"/><path d="M230.62 49.11h15.38v49.11h-15.38z" fill="#f00"/><path d="M246 49.11h15.38v49.11h-15.38z" fill="#bf0000"/><path d="M261.38 49.11h15.38v49.11h-15.38z" fill="#9f0000"/><path d="M276.75 49.11h15.38v49.11h-15.38z" fill="#bf0000"/><path d="M292.12 49.11h15.38v49.11h-15.38z" fill="#ff6000"/><path d="M307.5 49.11h15.38v49.11h-15.38z" fill="#ff8000"/><path d="M322.88 49.11h30.75v49.11h-30.75z" fill="#ff4000"/><path d="M353.62 49.11h15.38v49.11h-15.38z" fill="#f00"/><path d="M0 98.22h30.75v49.11h-30.75z" fill="#ffdf00"/><path d="M30.75 98.22h30.75v49.11h-30.75z" fill="#ffbf00"/><path d="M61.5 98.22h15.38v49.11h-15.38z" fill="#ffdf00"/><path d="M76.88 98.22h15.38v49.11h-15.38z" fill="#ff0"/><path d="M92.25 98.22h30.75v49.11h-30.75z" fill="#dfff20"/><path d="M123 98.22h15.38v49.11h-15.38z" fill="#bfff40"/><path d="M138.38 98.22h15.38v49.11h-15.38z" fill="#9fff60"/><path d="M153.75 98.22h15.38v49.11h-15.38z" fill="#bfff40"/><path d="M169.12 98.22h46.12v49.11h-46.12z" fill="#ffdf00"/><path d="M215.25 98.22h30.75v49.11h-30.75z" fill="#ffbf00"/><path d="M246 98.22h15.38v49.11h-15.38z" fill="#ff8000"/><path d="M261.38 98.22h15.38v49.11h-15.38z" fill="#ff9f00"/><path d="M276.75 98.22h61.5v49.11h-61.5z" fill="#ffdf00"/><path d="M338.25 98.22h15.38v49.11h-15.38z" fill="#ffbf00"/><path d="M353.62 98.22h15.38v49.11h-15.38z" fill="#ff8000"/><path d="M0 147.32h15.38v49.11h-15.38z" fill="#ffbf00"/><path d="M15.38 147.32h15.38v49.11h-15.38z" fill="#ffdf00"/><path d="M30.75 147.32h15.38v49.11h-15.38z" fill="#ffbf00"/><path d="M46.12 147.32h46.12v49.11h-46.12z" fill="#ffdf00"/><path d="M92.25 147.32h15.38v49.11h-15.38z" fill="#dfff20"/><path d="M107.62 147.32h15.38v49.11h-15.38z" fill="#ff0"/><path d="M123 147.32h15.38v49.11h-15.38z" fill="#dfff20"/><path d="M138.38 147.32h15.38v49.11h-15.38z" fill="#bfff40"/><path d="M153.75 147.32h15.38v49.11h-15.38z" fill="#ffbf00"/><path d="M169.12 147.32h15.38v49.11h-15.38z" fill="#ff9f00"/><path d="M184.5 147.32h15.38v49.11h-15.38z" fill="#ffbf00"/><path d="M199.88 147.32h15.38v49.11h-15.38z" fill="#ff8000"/><path d="M215.25 147.32h30.75v49.11h-30.75z" fill="#ff2000"/><path d="M246 147.32h30.75v49.11h-30.75z" fill="#f00"/><path d="M276.75 147.32h15.38v49.11h-15.38z" fill="#ff6000"/><path d="M292.12 147.32h30.75v49.11h-30.75z" fill="#ffbf00"/><path d="M322.88 147.32h15.38v49.11h-15.38z" fill="#ffdf00"/><path d="M338.25 147.32h15.38v49.11h-15.38z" fill="#ffbf00"/><path d="M353.62 147.32h15.38v49.11h-15.38z" fill="#ff9f00"/><path d="M0 196.43h30.75v49.11h-30.75z" fill="#dfff20"/><path d="M30.75 196.43h15.38v49.11h-15.38z" fill="#ffbf00"/><path d="M46.12 196.43h15.38v49.11h-15.38z" fill="#ffdf00"/><path d="M61.5 196.43h15.38v49.11h-15.38z" fill="#ffbf00"/><path d="M76.88 196.43h15.38v49.11h-15.38z" fill="#ffdf00"/><path d="M92.25 196.43h30.75v49.11h-30.75z" fill="#9fff60"/><path d="M123 196.43h15.38v49.11h-15.38z" fill="#ff0"/><path d="M138.38 196.43h15.38v49.11h-15.38z" fill="#9fff60"/><path d="M153.75 196.43h15.38v49.11h-15.38z" fill="#bfff40"/><path d="M169.12 196.43h15.38v49.11h-15.38z" fill="#ff0"/><path d="M184.5 196.43h15.38v49.11h-15.38z" fill="#dfff20"/><path d="M199.88 196.43h15.38v49.11h-15.38z" fill="#ffdf00"/><path d="M215.25 196.43h15.38v49.11h-15.38z" fill="#ffbf00"/><path d="M230.62 196.43h61.5v49.11h-61.5z" fill="#ffdf00"/><path d="M292.12 196.43h15.38v49.11h-15.38z" fill="#ff0"/><path d="M307.5 196.43h15.38v49.11h-15.38z" fill="#dfff20"/><path d="M322.88 196.43h30.75v49.11h-30.75z" fill="#ff0"/><path d="M353.62 196.43h15.38v49.11h-15.38z" fill="#ffdf00"/><path d="M0 245.54h15.38v49.11h-15.38z" fill="#40ffbf"/><path d="M15.38 245.54h15.38v49.11h-15.38z" fill="#20ffdf"/><path d="M30.75 245.54h15.38v49.11h-15.38z" fill="#40ffbf"/><path d="M46.12 245.54h30.75v49.11h-30.75z" fill="#20ffdf"/><path d="M76.88 245.54h46.12v49.11h-46.12z" fill="#60ff9f"/><path d="M123 245.54h15.38v49.11h-15.38z" fill="#dfff20"/><path d="M138.38 245.54h61.5v49.11h-61.5z" fill="#bfff40"/><path d="M199.88 245.54h30.75v49.11h-30.75z" fill="#9fff60"/><path d="M230.62 245.54h46.12v49.11h-46.12z" fill="#bfff40"/><path d="M276.75 245.54h15.38v49.11h-15.38z" fill="#80ff80"/><path d="M292.12 245.54h15.38v49.11h-15.38z" fill="#60ff9f"/><path d="M307.5 245.54h15.38v49.11h-15.38z" fill="#40ffbf"/><path d="M322.88 245.54h15.38v49.11h-15.38z" fill="#20ffdf"/><path d="M338.25 245.54h15.38v49.11h-15.38z" fill="#40ffbf"/><path d="M353.62 245.54h15.38v49.11h-15.38z" fill="#60ff9f"/><path d="M0 294.65h15.38v49.11h-15.38z" fill="#9fff60"/><path d="M15.38 294.65h46.12v49.11h-46.12z" fill="#80ff80"/><path d="M61.5 294.65h15.38v49.11h-15.38z" fill="#9fff60"/><path d="M76.88 294.65h15.38v49.11h-15.38z" fill="#bfff40"/><path d="M92.25 294.65h30.75v49.11h-30.75z" fill="#9fff60"/><path d="M123 294.65h30.75v49.11h-30.75z" fill="#dfff20"/><path d="M153.75 294.65h15.38v49.11h-15.38z" fill="#ffdf00"/><path d="M169.12 294.65h15.38v49.11h-15.38z" fill="#ff8000"/><path d="M184.5 294.65h15.38v49.11h-15.38z" fill="#ffbf00"/><path d="M199.88 294.65h15.38v49.11h-15.38z" fill="#ffdf00"/><path d="M215.25 294.65h15.38v49.11h-15.38z" fill="#ff0"/><path d="M230.62 294.65h15.38v49.11h-15.38z" fill="#ffdf00"/><path d="M246 294.65h30.75v49.11h-30.75z" fill="#ffbf00"/><path d="M276.75 294.65h15.38v49.11h-15.38z" fill="#ffdf00"/><path d="M292.12 294.65h30.75v49.11h-30.75z" fill="#dfff20"/><path d="M322.88 294.65h15.38v49.11h-15.38z" fill="#80ff80"/><path d="M338.25 294.65h15.38v49.11h-15.38z" fill="#9fff60"/><path d="M353.62 294.65h15.38v49.11h-15.38z" fill="#ff0"/><path d="M0 343.76h30.75v49.11h-30.75z" fill="#bfff40"/><path d="M30.75 343.76h15.38v49.11h-15.38z" fill="#dfff20"/><path d="M46.12 343.76h15.38v49.11h-15.38z" fill="#9fff60"/><path d="M61.5 343.76h30.75v49.11h-30.75z" fill="#bfff40"/><path d="M92.25 343.76h15.38v49.11h-15.38z" fill="#dfff20"/><path d="M107.62 343.76h15.38v49.11h-15.38z" fill="#ff0"/><path d="M123 343.76h46.12v49.11h-46.12z" fill="#ffdf00"/><path d="M169.12 343.76h15.38v49.11h-15.38z" fill="#ff6000"/><path d="M184.5 343.76h61.5v49.11h-61.5z" fill="#ff8000"/><path d="M246 343.76h15.38v49.11h-15.38z" fill="#ff9f00"/><path d="M261.38 343.76h15.38v49.11h-15.38z" fill="#ff8000"/><path d="M276.75 343.76h15.38v49.11h-15.38z" fill="#ff9f00"/><path d="M292.12 343.76h15.38v49.11h-15.38z" fill="#ffdf00"/><path d="M307.5 343.76h15.38v49.11h-15.38z" fill="#ffbf00"/><path d="M322.88 343.76h15.38v49.11h-15.38z" fill="#dfff20"/><path d="M338.25 343.76h15.38v49.11h-15.38z" fill="#ff0"/><path d="M353.62 343.76h15.38v49.11h-15.38z" fill="#9fff60"/><path d="M0 392.87h30.75v49.11h-30.75z" fill="#ffdf00"/><path d="M30.75 392.87h15.38v49.11h-15.38z" fill="#ff9f00"/><path d="M46.12 392.87h15.38v49.11h-15.38z" fill="#ffbf00"/><path d="M61.5 392.87h46.12v49.11h-46.12z" fill="#ff8000"/><path d="M107.62 392.87h30.75v49.11h-30.75z" fill="#ff9f00"/><path d="M138.38 392.87h15.38v49.11h-15.38z" fill="#ffbf00"/><path d="M153.75 392.87h15.38v49.11h-15.38z" fill="#ffdf00"/><path d="M169.12 392.87h15.38v49.11h-15.38z" fill="#ffbf00"/><path d="M184.5 392.87h30.75v49.11h-30.75z" fill="#ff6000"/><path d="M215.25 392.87h15.38v49.11h-15.38z" fill="#ff2000"/><path d="M230.62 392.87h15.38v49.11h-15.38z" fill="#ff6000"/><path d="M246 392.87h15.38v49.11h-15.38z" fill="#ff2000"/><path d="M261.38 392.87h15.38v49.11h-15.38z" fill="#ff6000"/><path d="M276.75 392.87h15.38v49.11h-15.38z" fill="#ff8000"/><path d="M292.12 392.87h30.75v49.11h-30.75z" fill="#ff6000"/><path d="M322.88 392.87h46.12v49.11h-46.12z" fill="#ff8000"/><path d="M0 441.97h15.38v49.11h-15.38z" fill="#ff9f00"/><path d="M15.38 441.97h15.38v49.11h-15.38z" fill="#ffbf00"/><path d="M30.75 441.97h30.75v49.11h-30.75z" fill="#ff9f00"/><path d="M61.5 441.97h30.75v49.11h-30.75z" fill="#ffdf00"/><path d="M92.25 441.97h15.38v49.11h-15.38z" fill="#dfff20"/><path d="M107.62 441.97h30.75v49.11h-30.75z" fill="#ffdf00"/><path d="M138.38 441.97h15.38v49.11h-15.38z" fill="#ffbf00"/><path d="M153.75 441.97h15.38v49.11h-15.38z" fill="#ffdf00"/><path d="M169.12 441.97h15.38v49.11h-15.38z" fill="#ff0"/><path d="M184.5 441.97h15.38v49.11h-15.38z" fill="#ffdf00"/><path d="M199.88 441.97h15.38v49.11h-15.38z" fill="#ff9f00"/><path d="M215.25 441.97h15.38v49.11h-15.38z" fill="#f00"/><path d="M230.62 441.97h15.38v49.11h-15.38z" fill="#ff4000"/><path d="M246 441.97h15.38v49.11h-15.38z" fill="#ff8000"/><path d="M261.38 441.97h15.38v49.11h-15.38z" fill="#ff2000"/><path d="M276.75 441.97h15.38v49.11h-15.38z" fill="#ff4000"/><path d="M292.12 441.97h46.12v49.11h-46.12z" fill="#ff9f00"/><path d="M338.25 441.97h15.38v49.11h-15.38z" fill="#ffbf00"/><path d="M353.62 441.97h15.38v49.11h-15.38z" fill="#ff4000"/><path d="M0 491.08h46.12v49.11h-46.12z" fill="#f00"/><path d="M46.12 491.08h15.38v49.11h-15.38z" fill="#ff2000"/><path d="M61.5 491.08h15.38v49.11h-15.38z" fill="#ff4000"/><path d="M76.88 491.08h15.38v49.11h-15.38z" fill="#ff2000"/><path d="M92.25 491.08h15.38v49.11h-15.38z" fill="#ff6000"/><path d="M107.62 491.08h15.38v49.11h-15.38z" fill="#ff9f00"/><path d="M123 491.08h46.12v49.11h-46.12z" fill="#ffbf00"/><path d="M169.12 491.08h15.38v49.11h-15.38z" fill="#ff9f00"/><path d="M184.5 491.08h15.38v49.11h-15.38z" fill="#ff8000"/><path d="M199.88 491.08h15.38v49.11h-15.38z" fill="#ff4000"/><path d="M215.25 491.08h15.38v49.11h-15.38z" fill="#f00"/><path d="M230.62 491.08h30.75v49.11h-30.75z" fill="#ff4000"/><path d="M261.38 491.08h15.38v49.11h-15.38z" fill="#ff2000"/><path d="M276.75 491.08h15.38v49.11h-15.38z" fill="#f00"/><path d="M292.12 491.08h30.75v49.11h-30.75z" fill="#df0000"/><path d="M322.88 491.08h30.75v49.11h-30.75z" fill="#ff4000"/><path d="M353.62 491.08h15.38v49.11h-15.38z" fill="#df0000"/><path d="M0 540.19h15.38v49.11h-15.38z" fill="#df0000"/><path d="M15.38 540.19h15.38v49.11h-15.38z" fill="#bf0000"/><path d="M30.75 540.19h15.38v49.11h-15.38z" fill="#9f0000"/><path d="M46.12 540.19h15.38v49.11h-15.38z" fill="#f00"/><path d="M61.5 540.19h30.75v49.11h-30.75z" fill="#bf0000"/><path d="M92.25 540.19h15.38v49.11h-15.38z" fill="#df0000"/><path d="M107.62 540.19h15.38v49.11h-15.38z" fill="#bf0000"/><path d="M123 540.19h15.38v49.11h-15.38z" fill="#800000"/><path d="M138.38 540.19h15.38v49.11h-15.38z" fill="#ff6000"/><path d="M153.75 540.19h30.75v49.11h-30.75z" fill="#ff8000"/><path d="M184.5 540.19h30.75v49.11h-30.75z" fill="#ff6000"/><path d="M215.25 540.19h15.38v49.11h-15.38z" fill="#ff2000"/><path d="M230.62 540.19h30.75v49.11h-30.75z" fill="#df0000"/><path d="M261.38 540.19h15.38v49.11h-15.38z" fill="#bf0000"/><path d="M276.75 540.19h15.38v49.11h-15.38z" fill="#df0000"/><path d="M292.12 540.19h15.38v49.11h-15.38z" fill="#bf0000"/><path d="M307.5 540.19h61.5v49.11h-61.5z" fill="#df0000"/>
<path class="g" d="M0 0v589.3M15.38 0v589.3M30.75 0v589.3M46.12 0v589.3M61.5 0v589.3M76.88 0v589.3M92.25 0v589.3M107.62 0v589.3M123 0v589.3M138.38 0v589.3M153.75 0v589.3M169.12 0v589.3M184.5 0v589.3M199.88 0v589.3M215.25 0v589.3M230.62 0v589.3M246 0v589.3M261.38 0v589.3M276.75 0v589.3M292.12 0v589.3M307.5 0v589.3M322.88 0v589.3M338.25 0v589.3M353.62 0v589.3M369 0v589.3M0 0h369M0 49.11h369M0 98.22h369M0 147.32h369M0 196.43h369M0 245.54h369M0 294.65h369M0 343.76h369M0 392.87h369M0 441.97h369M0 491.08h369M0 540.19h369M0 589.3h369"/>
<path class="k" d="M-6 49.11h6M-6 98.22h6M-6 147.32h6M-6 196.43h6M-6 245.54h6M-6 294.65h6M-6 343.76h6M-6 392.87h6M-6 441.97h6M-6 491.08h6M-6 540.19h6M-6 589.3h6M0 589.3v6M46.12 589.3v6M92.25 589.3v6M138.38 589.3v6M184.5 589.3v6M230.62 589.3v6M276.75 589.3v6M322.88 589.3v6"/>
</g>
<text class="t" x="273.5" y="1935.3">NARR</text>
<text class="m" x="75.4" y="1995.11">D</text>
<text class="m" x="75.4" y="2044.22">N</text>
<text class="m" x="75.4" y="2093.32">O</text>
<text class="m" x="75.4" y="2142.43">S</text>
<text class="m" x="75.4" y="2191.54">A</text>
<text class="m" x="75.4" y="2240.65">J</text>
<text class="m" x="75.4" y="2289.76">J</text>
<text class="m" x="75.4" y="2338.87">M</text>
<text class="m" x="75.4" y="2387.97">A</text>
<text class="m" x="75.4" y="2437.08">M</text>
<text class="m" x="75.4" y="2486.19">F</text>
<text class="m" x="75.4" y="2535.3">J</text>
<text class="l" transform="translate(44.4 2231.55) rotate(-90)">Month</text>
<text class="x" x="89" y="2563.5">0</text>
<text class="x" x="135.12" y="2563.5">3</text>
<text class="x" x="181.25" y="2563.5">6</text>
<text class="x" x="227.38" y="2563.5">9</text>
<text class="x" x="273.5" y="2563.5">12</text>
<text class="x" x="319.62" y="2563.5">15</text>
<text class="x" x="365.75" y="2563.5">18</text>
<text class="x" x="411.88" y="2563.5">21</text>
<text class="l" x="272.7" y="2593.8">Local Hour</text>
<g transform="translate(494.5 1936.9)">
<path d="M0 0h15.38v49.11h-15.38z" fill="#00dfff"/><path d="M15.38 0h15.38v49.11h-15.38z" fill="#00bfff"/><path d="M30.75 0h15.38v49.11h-15.38z" fill="#00dfff"/><path d="M46.12 0h15.38v49.11h-15.38z" fill="#0ff"/><path d="M61.5 0h30.75v49.11h-30.75z" fill="#40ffbf"/><path d="M92.25 0h30.75v49.11h-30.75z" fill="#60ff9f"/><path d="M123 0h15.38v49.11h-15.38z" fill="#20ffdf"/><path d="M138.38 0h15.38v49.11h-15.38z" fill="#00dfff"/><path d="M153.75 0h30.75v49.11h-30.75z" fill="#0ff"/><path d="M184.5 0h15.38v49.11h-15.38z" fill="#20ffdf"/><path d="M199.88 0h15.38v49.11h-15.38z" fill="#40ffbf"/><path d="M215.25 0h15.38v49.11h-15.38z" fill="#60ff9f"/><path d="M230.62 0h15.38v49.11h-15.38z" fill="#9fff60"/><path d="M246 0h15.38v49.11h-15.38z" fill="#40ffbf"/><path d="M261.38 0h61.5v49.11h-61.5z" fill="#20ffdf"/><path d="M322.88 0h15.38v49.11h-15.38z" fill="#00dfff"/><path d="M338.25 0h15.38v49.11h-15.38z" fill="#00bfff"/><path d="M353.62 0h15.38v49.11h-15.38z" fill="#0ff"/><path d="M0 49.11h30.75v49.11h-30.75z" fill="#0ff"/><path d="M30.75 49.11h15.38v49.11h-15.38z" fill="#40ffbf"/><path d="M46.12 49.11h15.38v49.11h-15.38z" fill="#00dfff"/><path d="M61.5 49.11h15.38v49.11h-15.38z" fill="#20ffdf"/><path d="M76.88 49.11h15.38v49.11h-15.38z" fill="#0ff"/><path d="M92.25 49.11h46.12v49.11h-46.12z" fill="#20ffdf"/><path d="M138.38 49.11h15.38v49.11h-15.38z" fill="#00dfff"/><path d="M153.75 49.11h15.38v49.11h-15.38z" fill="#0ff"/><path d="M169.12 49.11h15.38v49.11h-15.38z" fill="#40ffbf"/><path d="M184.5 49.11h15.38v49.11h-15.38z" fill="#60ff9f"/><path d="M199.88 49.11h15.38v49.11h-15.38z" fill="#40ffbf"/><path d="M215.25 49.11h30.75v49.11h-30.75z" fill="#20ffdf"/><path d="M246 49.11h15.38v49.11h-15.38z" fill="#40ffbf"/><path d="M261.38 49.11h15.38v49.11h-15.38z" fill="#20ffdf"/><path d="M276.75 49.11h15.38v49.11h-15.38z" fill="#60ff9f"/><path d="M292.12 49.11h61.5v49.11h-61.5z" fill="#0ff"/><path d="M353.62 49.11h15.38v49.11h-15.38z" fill="#20ffdf"/><path d="M0 98.22h15.38v49.11h-15.38z" fill="#0080ff"/><path d="M15.38 98.22h15.38v49.11h-15.38z" fill="#009fff"/><path d="M30.75 98.22h30.75v49.11h-30.75z" fill="#0060ff"/><path d="M61.5 98.22h15.38v49.11h-15.38z" fill="#0080ff"/><path d="M76.88 98.22h30.75v49.11h-30.75z" fill="#0060ff"/><path d="M107.62 98.22h15.38v49.11h-15.38z" fill="#0080ff"/><path d="M123 98.22h15.38v49.11h-15.38z" fill="#0060ff"/><path d="M138.38 98.22h15.38v49.11h-15.38z" fill="#0080ff"/><path d="M153.75 98.22h15.38v49.11h-15.38z" fill="#0060ff"/><path d="M169.12 98.22h15.38v49.11h-15.38z" fill="#0080ff"/><path d="M184.5 98.22h15.38v49.11h-15.38z" fill="#009fff"/><path d="M199.88 98.22h61.5v49.11h-61.5z" fill="#0080ff"/><path d="M261.38 98.22h15.38v49.11h-15.38z" fill="#0060ff"/><path d="M276.75 98.22h15.38v49.11h-15.38z" fill="#0020ff"/><path d="M292.12 98.22h15.38v49.11h-15.38z" fill="#0040ff"/><path d="M307.5 98.22h15.38v49.11h-15.38z" fill="#0060ff"/><path d="M322.88 98.22h30.75v49.11h-30.75z" fill="#0040ff"/><path d="M353.62 98.22h15.38v49.11h-15.38z" fill="#0060ff"/><path d="M0 147.32h15.38v49.11h-15.38z" fill="#0080ff"/><path d="M15.38 147.32h15.38v49.11h-15.38z" fill="#009fff"/><path d="M30.75 147.32h15.38v49.11h-15.38z" fill="#0080ff"/><path d="M46.12 147.32h15.38v49.11h-15.38z" fill="#0060ff"/><path d="M61.5 147.32h15.38v49.11h-15.38z" fill="#0040ff"/><path d="M76.88 147.32h46.12v49.11h-46.12z" fill="#0060ff"/><path d="M123 147.32h30.75v49.11h-30.75z" fill="#0080ff"/><path d="M153.75 147.32h15.38v49.11h-15.38z" fill="#00dfff"/><path d="M169.12 147.32h15.38v49.11h-15.38z" fill="#20ffdf"/><path d="M184.5 147.32h15.38v49.11h-15.38z" fill="#00dfff"/><path d="M199.88 147.32h15.38v49.11h-15.38z" fill="#20ffdf"/><path d="M215.25 147.32h15.38v49.11h-15.38z" fill="#0ff"/><path d="M230.62 147.32h30.75v49.11h-30.75z" fill="#00bfff"/><path d="M261.38 147.32h30.75v49.11h-30.75z" fill="#0060ff"/><path d="M292.12 147.32h15.38v49.11h-15.38z" fill="#0040ff"/><path d="M307.5 147.32h30.75v49.11h-30.75z" fill="#0060ff"/><path d="M338.25 147.32h15.38v49.11h-15.38z" fill="#0040ff"/><path d="M353.62 147.32h15.38v49.11h-15.38z" fill="#0060ff"/><path d="M0 196.43h30.75v49.11h-30.75z" fill="#0080ff"/><path d="M30.75 196.43h15.38v49.11h-15.38z" fill="#00dfff"/><path d="M46.12 196.43h15.38v49.11h-15.38z" fill="#009fff"/><path d="M61.5 196.43h15.38v49.11h-15.38z" fill="#0080ff"/><path d="M76.88 196.43h15.38v49.11h-15.38z" fill="#009fff"/><path d="M92.25 196.43h15.38v49.11h-15.38z" fill="#0060ff"/><path d="M107.62 196.43h15.38v49.11h-15.38z" fill="#0080ff"/><path d="M123 196.43h15.38v49.11h-15.38z" fill="#009fff"/><path d="M138.38 196.43h30.75v49.11h-30.75z" fill="#00bfff"/><path d="M169.12 196.43h30.75v49.11h-30.75z" fill="#00dfff"/><path d="M199.88 196.43h46.12v49.11h-46.12z" fill="#009fff"/><path d="M246 196.43h15.38v49.11h-15.38z" fill="#00bfff"/><path d="M261.38 196.43h15.38v49.11h-15.38z" fill="#00dfff"/><path d="M276.75 196.43h15.38v49.11h-15.38z" fill="#0ff"/><path d="M292.12 196.43h15.38v49.11h-15.38z" fill="#009fff"/><path d="M307.5 196.43h15.38v49.11h-15.38z" fill="#0060ff"/><path d="M322.88 196.43h15.38v49.11h-15.38z" fill="#0080ff"/><path d="M338.25 196.43h15.38v49.11h-15.38z" fill="#00bfff"/><path d="M353.62 196.43h15.38v49.11h-15.38z" fill="#0060ff"/><path d="M0 245.54h30.75v49.11h-30.75z" fill="#0060ff"/><path d="M30.75 245.54h30.75v49.11h-30.75z" fill="#0040ff"/><path d="M61.5 245.54h30.75v49.11h-30.75z" fill="#0060ff"/><path d="M92.25 245.54h15.38v49.11h-15.38z" fill="#0080ff"/><path d="M107.62 245.54h15.38v49.11h-15.38z" fill="#0060ff"/><path d="M123 245.54h30.75v49.11h-30.75z" fill="#0080ff"/><path d="M153.75 245.54h15.38v49.11h-15.38z" fill="#009fff"/><path d="M169.12 245.54h15.38v49.11h-15.38z" fill="#0040ff"/><path d="M184.5 245.54h30.75v49.11h-30.75z" fill="#0060ff"/><path d="M215.25 245.54h30.75v49.11h-30.75z" fill="#0020ff"/><path d="M246 245.54h30.75v49.11h-30.75z" fill="#0060ff"/><path d="M276.75 245.54h30.75v49.11h-30.75z" fill="#0080ff"/><path d="M307.5 245.54h30.75v49.11h-30.75z" fill="#0060ff"/><path d="M338.25 245.54h15.38v49.11h-15.38z" fill="#0040ff"/><path d="M353.62 245.54h15.38v49.11h-15.38z" fill="#0060ff"/><path d="M0 294.65h30.75v49.11h-30.75z" fill="#009fff"/><path d="M30.75 294.65h15.38v49.11h-15.38z" fill="#0080ff"/><path d="M46.12 294.65h15.38v49.11h-15.38z" fill="#009fff"/><path d="M61.5 294.65h61.5v49.11h-61.5z" fill="#0060ff"/><path d="M123 294.65h15.38v49.11h-15.38z" fill="#009fff"/><path d="M138.38 294.65h61.5v49.11h-61.5z" fill="#00bfff"/><path d="M199.88 294.65h15.38v49.11h-15.38z" fill="#00dfff"/><path d="M215.25 294.65h15.38v49.11h-15.38z" fill="#00bfff"/><path d="M230.62 294.65h15.38v49.11h-15.38z" fill="#0080ff"/><path d="M246 294.65h61.5v49.11h-61.5z" fill="#009fff"/><path d="M307.5 294.65h15.38v49.11h-15.38z" fill="#00bfff"/><path d="M322.88 294.65h15.38v49.11h-15.38z" fill="#009fff"/><path d="M338.25 294.65h15.38v49.11h-15.38z" fill="#0060ff"/><path d="M353.62 294.65h15.38v49.11h-15.38z" fill="#0080ff"/><path d="M0 343.76h30.75v49.11h-30.75z" fill="#0060ff"/><path d="M30.75 343.76h15.38v49.11h-15.38z" fill="#0080ff"/><path d="M46.12 343.76h15.38v49.11h-15.38z" fill="#0020ff"/><path d="M61.5 343.76h30.75v49.11h-30.75z" fill="#0060ff"/><path d="M92.25 343.76h30.75v49.11h-30.75z" fill="#0080ff"/><path d="M123 343.76h15.38v49.11h-15.38z" fill="#0060ff"/><path d="M138.38 343.76h15.38v49.11h-15.38z" fill="#009fff"/><path d="M153.75 343.76h15.38v49.11h-15.38z" fill="#00bfff"/><path d="M169.12 343.76h15.38v49.11h-15.38z" fill="#0ff"/><path d="M184.5 343.76h15.38v49.11h-15.38z" fill="#00dfff"/><path d="M199.88 343.76h15.38v49.11h-15.38z" fill="#0ff"/><path d="M215.25 343.76h30.75v49.11h-30.75z" fill="#00dfff"/><path d="M246 343.76h15.38v49.11h-15.38z" fill="#20ffdf"/><path d="M261.38 343.76h15.38v49.11h-15.38z" fill="#00dfff"/><path d="M276.75 343.76h15.38v49.11h-15.38z" fill="#00bfff"/><path d="M292.12 343.76h30.75v49.11h-30.75z" fill="#0080ff"/><path d="M322.88 343.76h15.38v49.11h-15.38z" fill="#0060ff"/><path d="M338.25 343.76h15.38v49.11h-15.38z" fill="#0020ff"/><path d="M353.62 343.76h15.38v49.11h-15.38z" fill="#0040ff"/><path d="M0 392.87h15.38v49.11h-15.38z" fill="#00bfff"/><path d="M15.38 392.87h30.75v49.11h-30.75z" fill="#009fff"/><path d="M46.12 392.87h15.38v49.11h-15.38z" fill="#0080ff"/><path d="M61.5 392.87h15.38v49.11h-15.38z" fill="#009fff"/><path d="M76.88 392.87h30.75v49.11h-30.75z" fill="#0080ff"/><path d="M107.62 392.87h15.38v49.11h-15.38z" fill="#0060ff"/><path d="M123 392.87h15.38v49.11h-15.38z" fill="#00dfff"/><path d="M138.38 392.87h30.75v49.11h-30.75z" fill="#009fff"/><path d="M169.12 392.87h15.38v49.11h-15.38z" fill="#0080ff"/><path d="M184.5 392.87h30.75v49.11h-30.75z" fill="#0ff"/><path d="M215.25 392.87h15.38v49.11h-15.38z" fill="#20ffdf"/><path d="M230.62 392.87h15.38v49.11h-15.38z" fill="#00bfff"/><path d="M246 392.87h15.38v49.11h-15.38z" fill="#20ffdf"/><path d="M261.38 392.87h15.38v49.11h-15.38z" fill="#00dfff"/><path d="M276.75 392.87h30.75v49.11h-30.75z" fill="#0ff"/><path d="M307.5 392.87h15.38v49.11h-15.38z" fill="#00dfff"/><path d="M322.88 392.87h30.75v49.11h-30.75z" fill="#00bfff"/><path d="M353.62 392.87h15.38v49.11h-15.38z" fill="#009fff"/><path d="M0 441.97h15.38v49.11h-15.38z" fill="#0080ff"/><path d="M15.38 441.97h15.38v49.11h-15.38z" fill="#0060ff"/><path d="M30.75 441.97h15.38v49.11h-15.38z" fill="#0080ff"/><path d="M46.12 441.97h15.38v49.11h-15.38z" fill="#00bfff"/><path d="M61.5 441.97h15.38v49.11h-15.38z" fill="#0ff"/><path d="M76.88 441.97h30.75v49.11h-30.75z" fill="#00dfff"/><path d="M107.62 441.97h30.75v49.11h-30.75z" fill="#0ff"/><path d="M138.38 441.97h15.38v49.11h-15.38z" fill="#00dfff"/><path d="M153.75 441.97h30.75v49.11h-30.75z" fill="#00bfff"/><path d="M184.5 441.97h30.75v49.11h-30.75z" fill="#20ffdf"/><path d="M215.25 441.97h15.38v49.11h-15.38z" fill="#40ffbf"/><path d="M230.62 441.97h15.38v49.11h-15.38z" fill="#20ffdf"/><path d="M246 441.97h46.12v49.11h-46.12z" fill="#00dfff"/><path d="M292.12 441.97h30.75v49.11h-30.75z" fill="#009fff"/><path d="M322.88 441.97h15.38v49.11h-15.38z" fill="#0080ff"/><path d="M338.25 441.97h15.38v49.11h-15.38z" fill="#0060ff"/><path d="M353.62 441.97h15.38v49.11h-15.38z" fill="#0080ff"/><path d="M0 491.08h15.38v49.11h-15.38z" fill="#0ff"/><path d="M15.38 491.08h15.38v49.11h-15.38z" fill="#20ffdf"/><path d="M30.75 491.08h30.75v49.11h-30.75z" fill="#0ff"/><path d="M61.5 491.08h15.38v49.11h-15.38z" fill="#00dfff"/><path d="M76.88 491.08h15.38v49.11h-15.38z" fill="#009fff"/><path d="M92.25 491.08h15.38v49.11h-15.38z" fill="#0ff"/><path d="M107.62 491.08h15.38v49.11h-15.38z" fill="#00dfff"/><path d="M123 491.08h15.38v49.11h-15.38z" fill="#0080ff"/><path d="M138.38 491.08h15.38v49.11h-15.38z" fill="#009fff"/><path d="M153.75 491.08h15.38v49.11h-15.38z" fill="#20ffdf"/><path d="M169.12 491.08h15.38v49.11h-15.38z" fill="#0ff"/><path d="M184.5 491.08h15.38v49.11h-15.38z" fill="#20ffdf"/><path d="M199.88 491.08h15.38v49.11h-15.38z" fill="#60ff9f"/><path d="M215.25 491.08h15.38v49.11h-15.38z" fill="#40ffbf"/><path d="M230.62 491.08h46.12v49.11h-46.12z" fill="#0ff"/><path d="M276.75 491.08h30.75v49.11h-30.75z" fill="#20ffdf"/><path d="M307.5 491.08h30.75v49.11h-30.75z" fill="#0ff"/><path d="M338.25 491.08h30.75v49.11h-30.75z" fill="#40ffbf"/><path d="M0 540.19h46.12v49.11h-46.12z" fill="#0ff"/><path d="M46.12 540.19h15.38v49.11h-15.38z" fill="#40ffbf"/><path d="M61.5 540.19h15.38v49.11h-15.38z" fill="#80ff80"/><path d="M76.88 540.19h15.38v49.11h-15.38z" fill="#60ff9f"/><path d="M92.25 540.19h15.38v49.11h-15.38z" fill="#20ffdf"/><path d="M107.62 540.19h15.38v49.11h-15.38z" fill="#40ffbf"/><path d="M123 540.19h15.38v49.11h-15.38z" fill="#20ffdf"/><path d="M138.38 540.19h15.38v49.11h-15.38z" fill="#00dfff"/><path d="M153.75 540.19h15.38v49.11h-15.38z" fill="#0ff"/><path d="M169.12 540.19h15.38v49.11h-15.38z" fill="#00dfff"/><path d="M184.5 540.19h15.38v49.11h-15.38z" fill="#20ffdf"/><path d="M199.88 540.19h15.38v49.11h-15.38z" fill="#9fff60"/><path d="M215.25 540.19h15.38v49.11h-15.38z" fill="#60ff9f"/><path d="M230.62 540.19h15.38v49.11h-15.38z" fill="#40ffbf"/><path d="M246 540.19h46.12v49.11h-46.12z" fill="#0ff"/><path d="M292.12 540.19h30.75v49.11h-30.75z" fill="#20ffdf"/><path d="M322.88 540.19h15.38v49.11h-15.38z" fill="#00dfff"/><path d="M338.25 540.19h15.38v49.11h-15.38z" fill="#00bfff"/><path d="M353.62 540.19h15.38v49.11h-15.38z" fill="#00dfff"/>
<path class="g" d="M0 0v589.3M15.38 0v589.3M30.75 0v589.3M46.12 0v589.3M61.5 0v589.3M76.88 0v589.3M92.25 0v589.3M107.62 0v589.3M123 0v589.3M138.38 0v589.3M153.75 0v589.3M169.12 0v589.3M184.5 0v589.3M199.88 0v589.3M215.25 0v589.3M230.62 0v589.3M246 0v589.3M261.38 0v589.3M276.75 0v589.3M292.12 0v589.3M307.5 0v589.3M322.88 0v589.3M338.25 0v589.3M353.62 0v589.3M369 0v589.3M0 0h369M0 49.11h369M0 98.22h369M0 147.32h369M0 196.43h369M0 245.54h369M0 294.65h369M0 343.76h369M0 392.87h369M0 441.97h369M0 491.08h369M0 540.19h369M0 589.3h369"/>
<path class="k" d="M-6 49.11h6M-6 98.22h6M-6 147.32h6M-6 196.43h6M-6 245.54h6M-6 294.65h6M-6 343.76h6M-6 392.87h6M-6 441.97h6M-6 491.08h6M-6 540.19h6M-6 589.3h6M0 589.3v6M46.12 589.3v6M92.25 589.3v6M138.38 589.3v6M184.5 589.3v6M230.62 589.3v6M276.75 589.3v6M322.88 589.3v6"/>
</g>
<text class="t" x="679" y="1935.3">HRDPS</text>
<text class="x" x="494.5" y="2563.5">0</text>
<text class="x" x="540.62" y="2563.5">3</text>
<text class="x" x="586.75" y="2563.5">6</text>
<text class="x" x="632.88" y="2563.5">9</text>
<text class="x" x="679" y="2563.5">12</text>
<text class="x" x="725.12" y="2563.5">15</text>
<text class="x" x="771.25" y="2563.5">18</text>
<text class="x" x="817.38" y="2563.5">21</text>
<text class="l" x="678.2" y="2593.8">Local Hour</text>
<g transform="translate(995 1317.3)">
<path d="M0 0h30.75v49.11h-30.75z" fill="#ff6000"/><path d="M30.75 0h61.5v49.11h-61.5z" fill="#ff8000"/><path d="M92.25 0h30.75v49.11h-30.75z" fill="#ff9f00"/><path d="M123 0h61.5v49.11h-61.5z" fill="#ff8000"/><path d="M184.5 0h15.38v49.11h-15.38z" fill="#ff6000"/><path d="M199.88 0h30.75v49.11h-30.75z" fill="#ff8000"/><path d="M230.62 0h15.38v49.11h-15.38z" fill="#ffbf00"/><path d="M246 0h30.75v49.11h-30.75z" fill="#ff9f00"/><path d="M276.75 0h15.38v49.11h-15.38z" fill="#ff8000"/><path d="M292.12 0h15.38v49.11h-15.38z" fill="#ff6000"/><path d="M307.5 0h15.38v49.11h-15.38z" fill="#ff8000"/><path d="M322.88 0h15.38v49.11h-15.38z" fill="#ff6000"/><path d="M338.25 0h15.38v49.11h-15.38z" fill="#ff4900"/><path d="M353.62 0h15.38v49.11h-15.38z" fill="#ff8000"/><path d="M0 49.11h30.75v49.11h-30.75z" fill="#ff9f00"/><path d="M30.75 49.11h15.38v49.11h-15.38z" fill="#ffbf00"/><path d="M46.12 49.11h15.38v49.11h-15.38z" fill="#ff9f00"/><path d="M61.5 49.11h15.38v49.11h-15.38z" fill="#ffbf00"/><path d="M76.88 49.11h30.75v49.11h-30.75z" fill="#ff9f00"/><path d="M107.62 49.11h46.12v49.11h-46.12z" fill="#ff8000"/><path d="M153.75 49.11h15.38v49.11h-15.38z" fill="#ff6000"/><path d="M169.12 49.11h76.88v49.11h-76.88z" fill="#ff8000"/><path d="M246 49.11h15.38v49.11h-15.38z" fill="#ff9f00"/><path d="M261.38 49.11h15.38v49.11h-15.38z" fill="#ffbf00"/><path d="M276.75 49.11h15.38v49.11h-15.38z" fill="#ff9f00"/><path d="M292.12 49.11h30.75v49.11h-30.75z" fill="#ff8000"/><path d="M322.88 49.11h15.38v49.11h-15.38z" fill="#ff9f00"/><path d="M338.25 49.11h30.75v49.11h-30.75z" fill="#ff8000"/><path d="M0 98.22h46.12v49.11h-46.12z" fill="#ff8000"/><path d="M46.12 98.22h30.75v49.11h-30.75z" fill="#ff9f00"/><path d="M76.88 98.22h15.38v49.11h-15.38z" fill="#ff8000"/><path d="M92.25 98.22h30.75v49.11h-30.75z" fill="#ff6000"/><path d="M123 98.22h15.38v49.11h-15.38z" fill="#ff4900"/><path d="M138.38 98.22h15.38v49.11h-15.38z" fill="#f30"/><path d="M153.75 98.22h15.38v49.11h-15.38z" fill="#ff4900"/><path d="M169.12 98.22h15.38v49.11h-15.38z" fill="#ff6000"/><path d="M184.5 98.22h46.12v49.11h-46.12z" fill="#ff8000"/><path d="M230.62 98.22h30.75v49.11h-30.75z" fill="#ff9f00"/><path d="M261.38 98.22h30.75v49.11h-30.75z" fill="#ff8000"/><path d="M292.12 98.22h30.75v49.11h-30.75z" fill="#ff6000"/><path d="M322.88 98.22h46.12v49.11h-46.12z" fill="#ff8000"/><path d="M0 147.32h15.38v49.11h-15.38z" fill="#ff9f00"/><path d="M15.38 147.32h30.75v49.11h-30.75z" fill="#ff8000"/><path d="M46.12 147.32h15.38v49.11h-15.38z" fill="#ff9f00"/><path d="M61.5 147.32h15.38v49.11h-15.38z" fill="#ff8000"/><path d="M76.88 147.32h15.38v49.11h-15.38z" fill="#ff9f00"/><path d="M92.25 147.32h15.38v49.11h-15.38z" fill="#ff8000"/><path d="M107.62 147.32h15.38v49.11h-15.38z" fill="#ff9f00"/><path d="M123 147.32h15.38v49.11h-15.38z" fill="#ff8000"/><path d="M138.38 147.32h15.38v49.11h-15.38z" fill="#ff6000"/><path d="M153.75 147.32h46.12v49.11h-46.12z" fill="#ff8000"/><path d="M199.88 147.32h15.38v49.11h-15.38z" fill="#ff9f00"/><path d="M215.25 147.32h46.12v49.11h-46.12z" fill="#ffbf00"/><path d="M261.38 147.32h107.62v49.11h-107.62z" fill="#ff9f00"/><path d="M0 196.43h46.12v49.11h-46.12z" fill="#ffbf00"/><path d="M46.12 196.43h15.38v49.11h-15.38z" fill="#ffdf00"/><path d="M61.5 196.43h30.75v49.11h-30.75z" fill="#ff0"/><path d="M92.25 196.43h46.12v49.11h-46.12z" fill="#ffbf00"/><path d="M138.38 196.43h15.38v49.11h-15.38z" fill="#ff9f00"/><path d="M153.75 196.43h30.75v49.11h-30.75z" fill="#ffbf00"/><path d="M184.5 196.43h61.5v49.11h-61.5z" fill="#ffdf00"/><path d="M246 196.43h30.75v49.11h-30.75z" fill="#ff0"/><path d="M276.75 196.43h30.75v49.11h-30.75z" fill="#ffbf00"/><path d="M307.5 196.43h15.38v49.11h-15.38z" fill="#ff9f00"/><path d="M322.88 196.43h15.38v49.11h-15.38z" fill="#ff8000"/><path d="M338.25 196.43h15.38v49.11h-15.38z" fill="#ffbf00"/><path d="M353.62 196.43h15.38v49.11h-15.38z" fill="#ff9f00"/><path d="M0 245.54h30.75v49.11h-30.75z" fill="#ffdf00"/><path d="M30.75 245.54h15.38v49.11h-15.38z" fill="#ffbf00"/><path d="M46.12 245.54h30.75v49.11h-30.75z" fill="#ffdf00"/><path d="M76.88 245.54h15.38v49.11h-15.38z" fill="#ff0"/><path d="M92.25 245.54h30.75v49.11h-30.75z" fill="#ffdf00"/><path d="M123 245.54h15.38v49.11h-15.38z" fill="#dfff20"/><path d="M138.38 245.54h46.12v49.11h-46.12z" fill="#ff0"/><path d="M184.5 245.54h15.38v49.11h-15.38z" fill="#dfff20"/><path d="M199.88 245.54h15.38v49.11h-15.38z" fill="#bfff40"/><path d="M215.25 245.54h30.75v49.11h-30.75z" fill="#ff0"/><path d="M246 245.54h30.75v49.11h-30.75z" fill="#dfff20"/><path d="M276.75 245.54h15.38v49.11h-15.38z" fill="#ff0"/><path d="M292.12 245.54h15.38v49.11h-15.38z" fill="#dfff20"/><path d="M307.5 245.54h15.38v49.11h-15.38z" fill="#ffdf00"/><path d="M322.88 245.54h15.38v49.11h-15.38z" fill="#ffbf00"/><path d="M338.25 245.54h30.75v49.11h-30.75z" fill="#ffdf00"/><path d="M0 294.65h76.88v49.11h-76.88z" fill="#ffdf00"/><path d="M76.88 294.65h15.38v49.11h-15.38z" fill="#ff0"/><path d="M92.25 294.65h15.38v49.11h-15.38z" fill="#ffbf00"/><path d="M107.62 294.65h15.38v49.11h-15.38z" fill="#ffdf00"/><path d="M123 294.65h30.75v49.11h-30.75z" fill="#ffbf00"/><path d="M153.75 294.65h30.75v49.11h-30.75z" fill="#ffdf00"/><path d="M184.5 294.65h15.38v49.11h-15.38z" fill="#ff0"/><path d="M199.88 294.65h46.12v49.11h-46.12z" fill="#dfff20"/><path d="M246 294.65h15.38v49.11h-15.38z" fill="#bfff40"/><path d="M261.38 294.65h15.38v49.11h-15.38z" fill="#dfff20"/><path d="M276.75 294.65h30.75v49.11h-30.75z" fill="#ffdf00"/><path d="M307.5 294.65h30.75v49.11h-30.75z" fill="#ffbf00"/><path d="M338.25 294.65h15.38v49.11h-15.38z" fill="#ff9f00"/><path d="M353.62 294.65h15.38v49.11h-15.38z" fill="#ffbf00"/><path d="M0 343.76h184.5v49.11h-184.5z" fill="#ff8000"/><path d="M184.5 343.76h30.75v49.11h-30.75z" fill="#ff9f00"/><path d="M215.25 343.76h46.12v49.11h-46.12z" fill="#ffbf00"/><path d="M261.38 343.76h15.38v49.11h-15.38z" fill="#ff9f00"/><path d="M276.75 343.76h46.12v49.11h-46.12z" fill="#ff8000"/><path d="M322.88 343.76h30.75v49.11h-30.75z" fill="#ff6000"/><path d="M353.62 343.76h15.38v49.11h-15.38z" fill="#ff8000"/><path d="M0 392.87h15.38v49.11h-15.38z" fill="#ff8000"/><path d="M15.38 392.87h15.38v49.11h-15.38z" fill="#ff9f00"/><path d="M30.75 392.87h30.75v49.11h-30.75z" fill="#ff8000"/><path d="M61.5 392.87h15.38v49.11h-15.38z" fill="#ff9f00"/><path d="M76.88 392.87h46.12v49.11h-46.12z" fill="#ff8000"/><path d="M123 392.87h46.12v49.11h-46.12z" fill="#ff6000"/><path d="M169.12 392.87h15.38v49.11h-15.38z" fill="#ff8000"/><path d="M184.5 392.87h15.38v49.11h-15.38z" fill="#ff9f00"/><path d="M199.88 392.87h15.38v49.11h-15.38z" fill="#ff8000"/><path d="M215.25 392.87h15.38v49.11h-15.38z" fill="#ff9f00"/><path d="M230.62 392.87h15.38v49.11h-15.38z" fill="#ff8000"/><path d="M246 392.87h15.38v49.11h-15.38z" fill="#ff9f00"/><path d="M261.38 392.87h46.12v49.11h-46.12z" fill="#ff8000"/><path d="M307.5 392.87h30.75v49.11h-30.75z" fill="#ff6000"/><path d="M338.25 392.87h30.75v49.11h-30.75z" fill="#ff8000"/><path d="M0 441.97h15.38v49.11h-15.38z" fill="#ff8000"/><path d="M15.38 441.97h30.75v49.11h-30.75z" fill="#ff6000"/><path d="M46.12 441.97h30.75v49.11h-30.75z" fill="#ff8000"/><path d="M76.88 441.97h15.38v49.11h-15.38z" fill="#ff6000"/><path d="M92.25 441.97h30.75v49.11h-30.75z" fill="#ff8000"/><path d="M123 441.97h30.75v49.11h-30.75z" fill="#ff6000"/><path d="M153.75 441.97h46.12v49.11h-46.12z" fill="#ff8000"/><path d="M199.88 441.97h30.75v49.11h-30.75z" fill="#ff9f00"/><path d="M230.62 441.97h15.38v49.11h-15.38z" fill="#ffbf00"/><path d="M246 441.97h15.38v49.11h-15.38z" fill="#ff8000"/><path d="M261.38 441.97h15.38v49.11h-15.38z" fill="#ff9f00"/><path d="M276.75 441.97h15.38v49.11h-15.38z" fill="#ff8000"/><path d="M292.12 441.97h30.75v49.11h-30.75z" fill="#ff6000"/><path d="M322.88 441.97h30.75v49.11h-30.75z" fill="#ff4900"/><path d="M353.62 441.97h15.38v49.11h-15.38z" fill="#ff8000"/><path d="M0 491.08h76.88v49.11h-76.88z" fill="#ff8000"/><path d="M76.88 491.08h15.38v49.11h-15.38z" fill="#ff6000"/><path d="M92.25 491.08h30.75v49.11h-30.75z" fill="#ff8000"/><path d="M123 491.08h15.38v49.11h-15.38z" fill="#ff6000"/><path d="M138.38 491.08h30.75v49.11h-30.75z" fill="#ff8000"/><path d="M169.12 491.08h30.75v49.11h-30.75z" fill="#ff6000"/><path d="M199.88 491.08h15.38v49.11h-15.38z" fill="#ff8000"/><path d="M215.25 491.08h15.38v49.11h-15.38z" fill="#ff9f00"/><path d="M230.62 491.08h15.38v49.11h-15.38z" fill="#ff8000"/><path d="M246 491.08h30.75v49.11h-30.75z" fill="#ff9f00"/><path d="M276.75 491.08h61.5v49.11h-61.5z" fill="#ff8000"/><path d="M338.25 491.08h30.75v49.11h-30.75z" fill="#ff9f00"/><path d="M0 540.19h30.75v49.11h-30.75z" fill="#ff9f00"/><path d="M30.75 540.19h30.75v49.11h-30.75z" fill="#ffbf00"/><path d="M61.5 540.19h61.5v49.11h-61.5z" fill="#ff9f00"/><path d="M123 540.19h46.12v49.11h-46.12z" fill="#ff8000"/><path d="M169.12 540.19h15.38v49.11h-15.38z" fill="#ff4900"/><path d="M184.5 540.19h15.38v49.11h-15.38z" fill="#ff9f00"/><path d="M199.88 540.19h15.38v49.11h-15.38z" fill="#ffbf00"/><path d="M215.25 540.19h46.12v49.11h-46.12z" fill="#ff8000"/><path d="M261.38 540.19h15.38v49.11h-15.38z" fill="#ff9f00"/><path d="M276.75 540.19h92.25v49.11h-92.25z" fill="#ff8000"/>
<path class="g" d="M0 0v589.3M15.38 0v589.3M30.75 0v589.3M46.12 0v589.3M61.5 0v589.3M76.88 0v589.3M92.25 0v589.3M107.62 0v589.3M123 0v589.3M138.38 0v589.3M153.75 0v589.3M169.12 0v589.3M184.5 0v589.3M199.88 0v589.3M215.25 0v589.3M230.62 0v589.3M246 0v589.3M261.38 0v589.3M276.75 0v589.3M292.12 0v589.3M307.5 0v589.3M322.88 0v589.3M338.25 0v589.3M353.62 0v589.3M369 0v589.3M0 0h369M0 49.11h369M0 98.22h369M0 147.32h369M0 196.43h369M0 245.54h369M0 294.65h369M0 343.76h369M0 392.87h369M0 441.97h369M0 491.08h369M0 540.19h369M0 589.3h369"/>
<path class="k" d="M-6 49.11h6M-6 98.22h6M-6 147.32h6M-6 196.43h6M-6 245.54h6M-6 294.65h6M-6 343.76h6M-6 392.87h6M-6 441.97h6M-6 491.08h6M-6 540.19h6M-6 589.3h6M0 589.3v6M46.12 589.3v6M92.25 589.3v6M138.38 589.3v6M184.5 589.3v6M230.62 589.3v6M276.75 589.3v6M322.88 589.3v6"/>
</g>
<text class="t" x="1179.5" y="1315.7">ERA5</text>
<g transform="translate(1400.5 1317.3)">
<path d="M0 0h30.75v49.11h-30.75z" fill="#ff8000"/><path d="M30.75 0h30.75v49.11h-30.75z" fill="#ff9f00"/><path d="M61.5 0h61.5v49.11h-61.5z" fill="#ffbf00"/><path d="M123 0h15.38v49.11h-15.38z" fill="#ff9f00"/><path d="M138.38 0h15.38v49.11h-15.38z" fill="#ffbf00"/><path d="M153.75 0h30.75v49.11h-30.75z" fill="#ff9f00"/><path d="M184.5 0h15.38v49.11h-15.38z" fill="#ff8000"/><path d="M199.88 0h30.75v49.11h-30.75z" fill="#ff9f00"/><path d="M230.62 0h15.38v49.11h-15.38z" fill="#ffdf00"/><path d="M246 0h46.12v49.11h-46.12z" fill="#ffbf00"/><path d="M292.12 0h30.75v49.11h-30.75z" fill="#ff9f00"/><path d="M322.88 0h15.38v49.11h-15.38z" fill="#ff6000"/><path d="M338.25 0h15.38v49.11h-15.38z" fill="#ff8000"/><path d="M353.62 0h15.38v49.11h-15.38z" fill="#ff9f00"/><path d="M0 49.11h15.38v49.11h-15.38z" fill="#ff9f00"/><path d="M15.38 49.11h61.5v49.11h-61.5z" fill="#ffbf00"/><path d="M76.88 49.11h46.12v49.11h-46.12z" fill="#ff9f00"/><path d="M123 49.11h61.5v49.11h-61.5z" fill="#ffbf00"/><path d="M184.5 49.11h46.12v49.11h-46.12z" fill="#ff8000"/><path d="M230.62 49.11h15.38v49.11h-15.38z" fill="#ff9f00"/><path d="M246 49.11h61.5v49.11h-61.5z" fill="#ffbf00"/><path d="M307.5 49.11h61.5v49.11h-61.5z" fill="#ff9f00"/><path d="M0 98.22h15.38v49.11h-15.38z" fill="#ff8000"/><path d="M15.38 98.22h15.38v49.11h-15.38z" fill="#ff9f00"/><path d="M30.75 98.22h15.38v49.11h-15.38z" fill="#ff8000"/><path d="M46.12 98.22h30.75v49.11h-30.75z" fill="#ffbf00"/><path d="M76.88 98.22h15.38v49.11h-15.38z" fill="#ff9f00"/><path d="M92.25 98.22h30.75v49.11h-30.75z" fill="#ff8000"/><path d="M123 98.22h15.38v49.11h-15.38z" fill="#ff6000"/><path d="M138.38 98.22h15.38v49.11h-15.38z" fill="#ff4900"/><path d="M153.75 98.22h15.38v49.11h-15.38z" fill="#ff6000"/><path d="M169.12 98.22h15.38v49.11h-15.38z" fill="#ff8000"/><path d="M184.5 98.22h15.38v49.11h-15.38z" fill="#ffbf00"/><path d="M199.88 98.22h61.5v49.11h-61.5z" fill="#ffdf00"/><path d="M261.38 98.22h30.75v49.11h-30.75z" fill="#ffbf00"/><path d="M292.12 98.22h15.38v49.11h-15.38z" fill="#ff9f00"/><path d="M307.5 98.22h15.38v49.11h-15.38z" fill="#ff8000"/><path d="M322.88 98.22h15.38v49.11h-15.38z" fill="#ff9f00"/><path d="M338.25 98.22h30.75v49.11h-30.75z" fill="#ff8000"/><path d="M0 147.32h15.38v49.11h-15.38z" fill="#ffbf00"/><path d="M15.38 147.32h30.75v49.11h-30.75z" fill="#ff9f00"/><path d="M46.12 147.32h15.38v49.11h-15.38z" fill="#ffdf00"/><path d="M61.5 147.32h15.38v49.11h-15.38z" fill="#ff9f00"/><path d="M76.88 147.32h46.12v49.11h-46.12z" fill="#ffbf00"/><path d="M123 147.32h15.38v49.11h-15.38z" fill="#ff9f00"/><path d="M138.38 147.32h15.38v49.11h-15.38z" fill="#ff8000"/><path d="M153.75 147.32h30.75v49.11h-30.75z" fill="#ffbf00"/><path d="M184.5 147.32h15.38v49.11h-15.38z" fill="#ff9f00"/><path d="M199.88 147.32h15.38v49.11h-15.38z" fill="#ffdf00"/><path d="M215.25 147.32h76.88v49.11h-76.88z" fill="#ff0"/><path d="M292.12 147.32h46.12v49.11h-46.12z" fill="#ffdf00"/><path d="M338.25 147.32h30.75v49.11h-30.75z" fill="#ffbf00"/><path d="M0 196.43h15.38v49.11h-15.38z" fill="#ff0"/><path d="M15.38 196.43h15.38v49.11h-15.38z" fill="#dfff20"/><path d="M30.75 196.43h46.12v49.11h-46.12z" fill="#bfff40"/><path d="M76.88 196.43h15.38v49.11h-15.38z" fill="#dfff20"/><path d="M92.25 196.43h46.12v49.11h-46.12z" fill="#ff0"/><path d="M138.38 196.43h15.38v49.11h-15.38z" fill="#ffdf00"/><path d="M153.75 196.43h30.75v49.11h-30.75z" fill="#ff0"/><path d="M184.5 196.43h15.38v49.11h-15.38z" fill="#dfff20"/><path d="M199.88 196.43h15.38v49.11h-15.38z" fill="#bfff40"/><path d="M215.25 196.43h15.38v49.11h-15.38z" fill="#dfff20"/><path d="M230.62 196.43h30.75v49.11h-30.75z" fill="#bfff40"/><path d="M261.38 196.43h15.38v49.11h-15.38z" fill="#9fff60"/><path d="M276.75 196.43h15.38v49.11h-15.38z" fill="#dfff20"/><path d="M292.12 196.43h15.38v49.11h-15.38z" fill="#ff0"/><path d="M307.5 196.43h15.38v49.11h-15.38z" fill="#ffdf00"/><path d="M322.88 196.43h15.38v49.11h-15.38z" fill="#ffbf00"/><path d="M338.25 196.43h30.75v49.11h-30.75z" fill="#ff0"/><path d="M0 245.54h30.75v49.11h-30.75z" fill="#bfff40"/><path d="M30.75 245.54h30.75v49.11h-30.75z" fill="#ff0"/><path d="M61.5 245.54h15.38v49.11h-15.38z" fill="#bfff40"/><path d="M76.88 245.54h15.38v49.11h-15.38z" fill="#9fff60"/><path d="M92.25 245.54h30.75v49.11h-30.75z" fill="#bfff40"/><path d="M123 245.54h15.38v49.11h-15.38z" fill="#60ff9f"/><path d="M138.38 245.54h15.38v49.11h-15.38z" fill="#bfff40"/><path d="M153.75 245.54h15.38v49.11h-15.38z" fill="#60ff9f"/><path d="M169.12 245.54h15.38v49.11h-15.38z" fill="#9fff60"/><path d="M184.5 245.54h15.38v49.11h-15.38z" fill="#80ff80"/><path d="M199.88 245.54h15.38v49.11h-15.38z" fill="#60ff9f"/><path d="M215.25 245.54h30.75v49.11h-30.75z" fill="#9fff60"/><path d="M246 245.54h61.5v49.11h-61.5z" fill="#60ff9f"/><path d="M307.5 245.54h15.38v49.11h-15.38z" fill="#dfff20"/><path d="M322.88 245.54h15.38v49.11h-15.38z" fill="#ffdf00"/><path d="M338.25 245.54h15.38v49.11h-15.38z" fill="#dfff20"/><path d="M353.62 245.54h15.38v49.11h-15.38z" fill="#bfff40"/><path d="M0 294.65h30.75v49.11h-30.75z" fill="#ff0"/><path d="M30.75 294.65h15.38v49.11h-15.38z" fill="#ffdf00"/><path d="M46.12 294.65h15.38v49.11h-15.38z" fill="#dfff20"/><path d="M61.5 294.65h15.38v49.11h-15.38z" fill="#ff0"/><path d="M76.88 294.65h30.75v49.11h-30.75z" fill="#dfff20"/><path d="M107.62 294.65h30.75v49.11h-30.75z" fill="#bfff40"/><path d="M138.38 294.65h15.38v49.11h-15.38z" fill="#ffdf00"/><path d="M153.75 294.65h15.38v49.11h-15.38z" fill="#ff0"/><path d="M169.12 294.65h30.75v49.11h-30.75z" fill="#9fff60"/><path d="M199.88 294.65h15.38v49.11h-15.38z" fill="#80ff80"/><path d="M215.25 294.65h15.38v49.11h-15.38z" fill="#9fff60"/><path d="M230.62 294.65h15.38v49.11h-15.38z" fill="#bfff40"/><path d="M246 294.65h15.38v49.11h-15.38z" fill="#9fff60"/><path d="M261.38 294.65h15.38v49.11h-15.38z" fill="#80ff80"/><path d="M276.75 294.65h30.75v49.11h-30.75z" fill="#9fff60"/><path d="M307.5 294.65h15.38v49.11h-15.38z" fill="#bfff40"/><path d="M322.88 294.65h30.75v49.11h-30.75z" fill="#ff0"/><path d="M353.62 294.65h15.38v49.11h-15.38z" fill="#dfff20"/><path d="M0 343.76h46.12v49.11h-46.12z" fill="#ff9f00"/><path d="M46.12 343.76h30.75v49.11h-30.75z" fill="#ff8000"/><path d="M76.88 343.76h61.5v49.11h-61.5z" fill="#ff9f00"/><path d="M138.38 343.76h15.38v49.11h-15.38z" fill="#ff8000"/><path d="M153.75 343.76h15.38v49.11h-15.38z" fill="#ff9f00"/><path d="M169.12 343.76h15.38v49.11h-15.38z" fill="#ffbf00"/><path d="M184.5 343.76h15.38v49.11h-15.38z" fill="#ffdf00"/><path d="M199.88 343.76h15.38v49.11h-15.38z" fill="#ffbf00"/><path d="M215.25 343.76h30.75v49.11h-30.75z" fill="#ff0"/><path d="M246 343.76h30.75v49.11h-30.75z" fill="#ffdf00"/><path d="M276.75 343.76h30.75v49.11h-30.75z" fill="#ffbf00"/><path d="M307.5 343.76h30.75v49.11h-30.75z" fill="#ff9f00"/><path d="M338.25 343.76h15.38v49.11h-15.38z" fill="#ff8000"/><path d="M353.62 343.76h15.38v49.11h-15.38z" fill="#ff9f00"/><path d="M0 392.87h15.38v49.11h-15.38z" fill="#ff9f00"/><path d="M15.38 392.87h15.38v49.11h-15.38z" fill="#ffbf00"/><path d="M30.75 392.87h61.5v49.11h-61.5z" fill="#ff9f00"/><path d="M92.25 392.87h30.75v49.11h-30.75z" fill="#ffbf00"/><path d="M123 392.87h15.38v49.11h-15.38z" fill="#ff9f00"/><path d="M138.38 392.87h15.38v49.11h-15.38z" fill="#ff8000"/><path d="M153.75 392.87h15.38v49.11h-15.38z" fill="#ff9f00"/><path d="M169.12 392.87h15.38v49.11h-15.38z" fill="#ffbf00"/><path d="M184.5 392.87h15.38v49.11h-15.38z" fill="#ffdf00"/><path d="M199.88 392.87h15.38v49.11h-15.38z" fill="#ffbf00"/><path d="M215.25 392.87h15.38v49.11h-15.38z" fill="#ffdf00"/><path d="M230.62 392.87h15.38v49.11h-15.38z" fill="#ffbf00"/><path d="M246 392.87h46.12v49.11h-46.12z" fill="#ffdf00"/><path d="M292.12 392.87h15.38v49.11h-15.38z" fill="#ffbf00"/><path d="M307.5 392.87h15.38v49.11h-15.38z" fill="#ff9f00"/><path d="M322.88 392.87h30.75v49.11h-30.75z" fill="#ff8000"/><path d="M353.62 392.87h15.38v49.11h-15.38z" fill="#ff9f00"/><path d="M0 441.97h15.38v49.11h-15.38z" fill="#ff9f00"/><path d="M15.38 441.97h30.75v49.11h-30.75z" fill="#ff8000"/><path d="M46.12 441.97h30.75v49.11h-30.75z" fill="#ffbf00"/><path d="M76.88 441.97h30.75v49.11h-30.75z" fill="#ff9f00"/><path d="M107.62 441.97h15.38v49.11h-15.38z" fill="#ffbf00"/><path d="M123 441.97h15.38v49.11h-15.38z" fill="#ff9f00"/><path d="M138.38 441.97h15.38v49.11h-15.38z" fill="#ff8000"/><path d="M153.75 441.97h15.38v49.11h-15.38z" fill="#ff9f00"/><path d="M169.12 441.97h30.75v49.11h-30.75z" fill="#ffbf00"/><path d="M199.88 441.97h30.75v49.11h-30.75z" fill="#ffdf00"/><path d="M230.62 441.97h15.38v49.11h-15.38z" fill="#ff0"/><path d="M246 441.97h15.38v49.11h-15.38z" fill="#ffdf00"/><path d="M261.38 441.97h15.38v49.11h-15.38z" fill="#ff0"/><path d="M276.75 441.97h15.38v49.11h-15.38z" fill="#ffdf00"/><path d="M292.12 441.97h30.75v49.11h-30.75z" fill="#ff9f00"/><path d="M322.88 441.97h15.38v49.11h-15.38z" fill="#ff6000"/><path d="M338.25 441.97h15.38v49.11h-15.38z" fill="#ff8000"/><path d="M353.62 441.97h15.38v49.11h-15.38z" fill="#ff9f00"/><path d="M0 491.08h46.12v49.11h-46.12z" fill="#ff9f00"/><path d="M46.12 491.08h30.75v49.11h-30.75z" fill="#ffbf00"/><path d="M76.88 491.08h30.75v49.11h-30.75z" fill="#ff9f00"/><path d="M107.62 491.08h30.75v49.11h-30.75z" fill="#ff8000"/><path d="M138.38 491.08h76.88v49.11h-76.88z" fill="#ff9f00"/><path d="M215.25 491.08h15.38v49.11h-15.38z" fill="#ffbf00"/><path d="M230.62 491.08h15.38v49.11h-15.38z" fill="#ff9f00"/><path d="M246 491.08h76.88v49.11h-76.88z" fill="#ffbf00"/><path d="M322.88 491.08h15.38v49.11h-15.38z" fill="#ff8000"/><path d="M338.25 491.08h30.75v49.11h-30.75z" fill="#ff9f00"/><path d="M0 540.19h46.12v49.11h-46.12z" fill="#ffbf00"/><path d="M46.12 540.19h15.38v49.11h-15.38z" fill="#ff9f00"/><path d="M61.5 540.19h76.88v49.11h-76.88z" fill="#ffbf00"/><path d="M138.38 540.19h15.38v49.11h-15.38z" fill="#ff8000"/><path d="M153.75 540.19h15.38v49.11h-15.38z" fill="#ffbf00"/><path d="M169.12 540.19h15.38v49.11h-15.38z" fill="#ff8000"/><path d="M184.5 540.19h46.12v49.11h-46.12z" fill="#ffbf00"/><path d="M230.62 540.19h15.38v49.11h-15.38z" fill="#ffdf00"/><path d="M246 540.19h46.12v49.11h-46.12z" fill="#ffbf00"/><path d="M292.12 540.19h15.38v49.11h-15.38z" fill="#ffdf00"/><path d="M307.5 540.19h15.38v49.11h-15.38z" fill="#ffbf00"/><path d="M322.88 540.19h46.12v49.11h-46.12z" fill="#ff9f00"/>
<path class="g" d="M0 0v589.3M15.38 0v589.3M30.75 0v589.3M46.12 0v589.3M61.5 0v589.3M76.88 0v589.3M92.25 0v589.3M107.62 0v589.3M123 0v589.3M138.38 0v589.3M153.75 0v589.3M169.12 0v589.3M184.5 0v589.3M199.88 0v589.3M215.25 0v589.3M230.62 0v589.3M246 0v589.3M261.38 0v589.3M276.75 0v589.3M292.12 0v589.3M307.5 0v589.3M322.88 0v589.3M338.25 0v589.3M353.62 0v589.3M369 0v589.3M0 0h369M0 49.11h369M0 98.22h369M0 147.32h369M0 196.43h369M0 245.54h369M0 294.65h369M0 343.76h369M0 392.87h369M0 441.97h369M0 491.08h369M0 540.19h369M0 589.3h369"/>
<path class="k" d="M-6 49.11h6M-6 98.22h6M-6 147.32h6M-6 196.43h6M-6 245.54h6M-6 294.65h6M-6 343.76h6M-6 392.87h6M-6 441.97h6M-6 491.08h6M-6 540.19h6M-6 589.3h6M0 589.3v6M46.12 589.3v6M92.25 589.3v6M138.38 589.3v6M184.5 589.3v6M230.62 589.3v6M276.75 589.3v6M322.88 589.3v6"/>
</g>
<text class="t" x="1585" y="1315.7">CFSv2</text>
<g transform="translate(995 1936.9)">
<path d="M0 0h30.75v49.11h-30.75z" fill="#ffdf00"/><path d="M30.75 0h15.38v49.11h-15.38z" fill="#ff0"/><path d="M46.12 0h30.75v49.11h-30.75z" fill="#ffdf00"/><path d="M76.88 0h61.5v49.11h-61.5z" fill="#ff0"/><path d="M138.38 0h15.38v49.11h-15.38z" fill="#ffdf00"/><path d="M153.75 0h30.75v49.11h-30.75z" fill="#ff0"/><path d="M184.5 0h30.75v49.11h-30.75z" fill="#ffdf00"/><path d="M215.25 0h15.38v49.11h-15.38z" fill="#ff0"/><path d="M230.62 0h30.75v49.11h-30.75z" fill="#bfff40"/><path d="M261.38 0h15.38v49.11h-15.38z" fill="#9fff60"/><path d="M276.75 0h15.38v49.11h-15.38z" fill="#bfff40"/><path d="M292.12 0h30.75v49.11h-30.75z" fill="#dfff20"/><path d="M322.88 0h30.75v49.11h-30.75z" fill="#ffdf00"/><path d="M353.62 0h15.38v49.11h-15.38z" fill="#ff0"/><path d="M0 49.11h15.38v49.11h-15.38z" fill="#bfff40"/><path d="M15.38 49.11h15.38v49.11h-15.38z" fill="#dfff20"/><path d="M30.75 49.11h15.38v49.11h-15.38z" fill="#9fff60"/><path d="M46.12 49.11h15.38v49.11h-15.38z" fill="#bfff40"/><path d="M61.5 49.11h30.75v49.11h-30.75z" fill="#dfff20"/><path d="M92.25 49.11h15.38v49.11h-15.38z" fill="#ff0"/><path d="M107.62 49.11h15.38v49.11h-15.38z" fill="#ffdf00"/><path d="M123 49.11h15.38v49.11h-15.38z" fill="#dfff20"/><path d="M138.38 49.11h30.75v49.11h-30.75z" fill="#ff0"/><path d="M169.12 49.11h15.38v49.11h-15.38z" fill="#dfff20"/><path d="M184.5 49.11h30.75v49.11h-30.75z" fill="#ffdf00"/><path d="M215.25 49.11h15.38v49.11h-15.38z" fill="#ff0"/><path d="M230.62 49.11h76.88v49.11h-76.88z" fill="#dfff20"/><path d="M307.5 49.11h30.75v49.11h-30.75z" fill="#ff0"/><path d="M338.25 49.11h30.75v49.11h-30.75z" fill="#dfff20"/><path d="M0 98.22h15.38v49.11h-15.38z" fill="#dfff20"/><path d="M15.38 98.22h15.38v49.11h-15.38z" fill="#ffdf00"/><path d="M30.75 98.22h46.12v49.11h-46.12z" fill="#ff0"/><path d="M76.88 98.22h15.38v49.11h-15.38z" fill="#ffdf00"/><path d="M92.25 98.22h15.38v49.11h-15.38z" fill="#ffbf00"/><path d="M107.62 98.22h15.38v49.11h-15.38z" fill="#ffdf00"/><path d="M123 98.22h30.75v49.11h-30.75z" fill="#ffbf00"/><path d="M153.75 98.22h15.38v49.11h-15.38z" fill="#ffdf00"/><path d="M169.12 98.22h30.75v49.11h-30.75z" fill="#ff0"/><path d="M199.88 98.22h30.75v49.11h-30.75z" fill="#dfff20"/><path d="M230.62 98.22h15.38v49.11h-15.38z" fill="#ff0"/><path d="M246 98.22h61.5v49.11h-61.5z" fill="#dfff20"/><path d="M307.5 98.22h15.38v49.11h-15.38z" fill="#ff0"/><path d="M322.88 98.22h46.12v49.11h-46.12z" fill="#dfff20"/><path d="M0 147.32h15.38v49.11h-15.38z" fill="#9fff60"/><path d="M15.38 147.32h15.38v49.11h-15.38z" fill="#bfff40"/><path d="M30.75 147.32h30.75v49.11h-30.75z" fill="#9fff60"/><path d="M61.5 147.32h15.38v49.11h-15.38z" fill="#bfff40"/><path d="M76.88 147.32h30.75v49.11h-30.75z" fill="#9fff60"/><path d="M107.62 147.32h30.75v49.11h-30.75z" fill="#bfff40"/><path d="M138.38 147.32h15.38v49.11h-15.38z" fill="#dfff20"/><path d="M153.75 147.32h46.12v49.11h-46.12z" fill="#9fff60"/><path d="M199.88 147.32h15.38v49.11h-15.38z" fill="#80ff80"/><path d="M215.25 147.32h46.12v49.11h-46.12z" fill="#60ff9f"/><path d="M261.38 147.32h15.38v49.11h-15.38z" fill="#40ffbf"/><path d="M276.75 147.32h15.38v49.11h-15.38z" fill="#60ff9f"/><path d="M292.12 147.32h61.5v49.11h-61.5z" fill="#80ff80"/><path d="M353.62 147.32h15.38v49.11h-15.38z" fill="#60ff9f"/><path d="M0 196.43h30.75v49.11h-30.75z" fill="#40ffbf"/><path d="M30.75 196.43h15.38v49.11h-15.38z" fill="#20ffdf"/><path d="M46.12 196.43h15.38v49.11h-15.38z" fill="#0ff"/><path d="M61.5 196.43h15.38v49.11h-15.38z" fill="#00dfff"/><path d="M76.88 196.43h15.38v49.11h-15.38z" fill="#0ff"/><path d="M92.25 196.43h15.38v49.11h-15.38z" fill="#20ffdf"/><path d="M107.62 196.43h15.38v49.11h-15.38z" fill="#40ffbf"/><path d="M123 196.43h15.38v49.11h-15.38z" fill="#20ffdf"/><path d="M138.38 196.43h61.5v49.11h-61.5z" fill="#80ff80"/><path d="M199.88 196.43h15.38v49.11h-15.38z" fill="#60ff9f"/><path d="M215.25 196.43h30.75v49.11h-30.75z" fill="#40ffbf"/><path d="M246 196.43h46.12v49.11h-46.12z" fill="#20ffdf"/><path d="M292.12 196.43h76.88v49.11h-76.88z" fill="#40ffbf"/><path d="M0 245.54h15.38v49.11h-15.38z" fill="#40ffbf"/><path d="M15.38 245.54h15.38v49.11h-15.38z" fill="#60ff9f"/><path d="M30.75 245.54h15.38v49.11h-15.38z" fill="#40ffbf"/><path d="M46.12 245.54h15.38v49.11h-15.38z" fill="#80ff80"/><path d="M61.5 245.54h15.38v49.11h-15.38z" fill="#60ff9f"/><path d="M76.88 245.54h46.12v49.11h-46.12z" fill="#20ffdf"/><path d="M123 245.54h15.38v49.11h-15.38z" fill="#00dfff"/><path d="M138.38 245.54h30.75v49.11h-30.75z" fill="#0ff"/><path d="M169.12 245.54h15.38v49.11h-15.38z" fill="#20ffdf"/><path d="M184.5 245.54h15.38v49.11h-15.38z" fill="#0ff"/><path d="M199.88 245.54h15.38v49.11h-15.38z" fill="#20ffdf"/><path d="M215.25 245.54h15.38v49.11h-15.38z" fill="#0ff"/><path d="M230.62 245.54h15.38v49.11h-15.38z" fill="#20ffdf"/><path d="M246 245.54h15.38v49.11h-15.38z" fill="#0ff"/><path d="M261.38 245.54h15.38v49.11h-15.38z" fill="#00dfff"/><path d="M276.75 245.54h30.75v49.11h-30.75z" fill="#0ff"/><path d="M307.5 245.54h46.12v49.11h-46.12z" fill="#40ffbf"/><path d="M353.62 245.54h15.38v49.11h-15.38z" fill="#20ffdf"/><path d="M0 294.65h15.38v49.11h-15.38z" fill="#60ff9f"/><path d="M15.38 294.65h30.75v49.11h-30.75z" fill="#80ff80"/><path d="M46.12 294.65h15.38v49.11h-15.38z" fill="#60ff9f"/><path d="M61.5 294.65h15.38v49.11h-15.38z" fill="#80ff80"/><path d="M76.88 294.65h30.75v49.11h-30.75z" fill="#60ff9f"/><path d="M107.62 294.65h15.38v49.11h-15.38z" fill="#40ffbf"/><path d="M123 294.65h15.38v49.11h-15.38z" fill="#20ffdf"/><path d="M138.38 294.65h15.38v49.11h-15.38z" fill="#60ff9f"/><path d="M153.75 294.65h15.38v49.11h-15.38z" fill="#80ff80"/><path d="M169.12 294.65h46.12v49.11h-46.12z" fill="#40ffbf"/><path d="M215.25 294.65h15.38v49.11h-15.38z" fill="#20ffdf"/><path d="M230.62 294.65h15.38v49.11h-15.38z" fill="#0ff"/><path d="M246 294.65h30.75v49.11h-30.75z" fill="#00dfff"/><path d="M276.75 294.65h15.38v49.11h-15.38z" fill="#0ff"/><path d="M292.12 294.65h46.12v49.11h-46.12z" fill="#40ffbf"/><path d="M338.25 294.65h15.38v49.11h-15.38z" fill="#60ff9f"/><path d="M353.62 294.65h15.38v49.11h-15.38z" fill="#40ffbf"/><path d="M0 343.76h30.75v49.11h-30.75z" fill="#ffdf00"/><path d="M30.75 343.76h15.38v49.11h-15.38z" fill="#ff0"/><path d="M46.12 343.76h61.5v49.11h-61.5z" fill="#ffdf00"/><path d="M107.62 343.76h15.38v49.11h-15.38z" fill="#ff0"/><path d="M123 343.76h15.38v49.11h-15.38z" fill="#dfff20"/><path d="M138.38 343.76h30.75v49.11h-30.75z" fill="#ff0"/><path d="M169.12 343.76h30.75v49.11h-30.75z" fill="#dfff20"/><path d="M199.88 343.76h15.38v49.11h-15.38z" fill="#ff0"/><path d="M215.25 343.76h15.38v49.11h-15.38z" fill="#dfff20"/><path d="M230.62 343.76h46.12v49.11h-46.12z" fill="#bfff40"/><path d="M276.75 343.76h15.38v49.11h-15.38z" fill="#dfff20"/><path d="M292.12 343.76h15.38v49.11h-15.38z" fill="#ff0"/><path d="M307.5 343.76h15.38v49.11h-15.38z" fill="#dfff20"/><path d="M322.88 343.76h30.75v49.11h-30.75z" fill="#ff0"/><path d="M353.62 343.76h15.38v49.11h-15.38z" fill="#ffdf00"/><path d="M0 392.87h30.75v49.11h-30.75z" fill="#ffdf00"/><path d="M30.75 392.87h15.38v49.11h-15.38z" fill="#ff0"/><path d="M46.12 392.87h15.38v49.11h-15.38z" fill="#ffdf00"/><path d="M61.5 392.87h15.38v49.11h-15.38z" fill="#ff0"/><path d="M76.88 392.87h61.5v49.11h-61.5z" fill="#dfff20"/><path d="M138.38 392.87h15.38v49.11h-15.38z" fill="#ff0"/><path d="M153.75 392.87h15.38v49.11h-15.38z" fill="#ffbf00"/><path d="M169.12 392.87h15.38v49.11h-15.38z" fill="#ffdf00"/><path d="M184.5 392.87h46.12v49.11h-46.12z" fill="#ff0"/><path d="M230.62 392.87h15.38v49.11h-15.38z" fill="#ffdf00"/><path d="M246 392.87h46.12v49.11h-46.12z" fill="#ff0"/><path d="M292.12 392.87h30.75v49.11h-30.75z" fill="#ffdf00"/><path d="M322.88 392.87h15.38v49.11h-15.38z" fill="#ff0"/><path d="M338.25 392.87h15.38v49.11h-15.38z" fill="#ffdf00"/><path d="M353.62 392.87h15.38v49.11h-15.38z" fill="#ff0"/><path d="M0 441.97h46.12v49.11h-46.12z" fill="#ffdf00"/><path d="M46.12 441.97h15.38v49.11h-15.38z" fill="#ff0"/><path d="M61.5 441.97h15.38v49.11h-15.38z" fill="#ffdf00"/><path d="M76.88 441.97h15.38v49.11h-15.38z" fill="#ffbf00"/><path d="M92.25 441.97h107.62v49.11h-107.62z" fill="#ffdf00"/><path d="M199.88 441.97h15.38v49.11h-15.38z" fill="#dfff20"/><path d="M215.25 441.97h15.38v49.11h-15.38z" fill="#bfff40"/><path d="M230.62 441.97h15.38v49.11h-15.38z" fill="#dfff20"/><path d="M246 441.97h15.38v49.11h-15.38z" fill="#ff0"/><path d="M261.38 441.97h30.75v49.11h-30.75z" fill="#dfff20"/><path d="M292.12 441.97h15.38v49.11h-15.38z" fill="#ffdf00"/><path d="M307.5 441.97h15.38v49.11h-15.38z" fill="#ff0"/><path d="M322.88 441.97h30.75v49.11h-30.75z" fill="#ffdf00"/><path d="M353.62 441.97h15.38v49.11h-15.38z" fill="#dfff20"/><path d="M0 491.08h30.75v49.11h-30.75z" fill="#dfff20"/><path d="M30.75 491.08h15.38v49.11h-15.38z" fill="#bfff40"/><path d="M46.12 491.08h15.38v49.11h-15.38z" fill="#dfff20"/><path d="M61.5 491.08h30.75v49.11h-30.75z" fill="#ff0"/><path d="M92.25 491.08h15.38v49.11h-15.38z" fill="#ffdf00"/><path d="M107.62 491.08h30.75v49.11h-30.75z" fill="#ffbf00"/><path d="M138.38 491.08h61.5v49.11h-61.5z" fill="#ffdf00"/><path d="M199.88 491.08h30.75v49.11h-30.75z" fill="#ff0"/><path d="M230.62 491.08h15.38v49.11h-15.38z" fill="#ffdf00"/><path d="M246 491.08h30.75v49.11h-30.75z" fill="#ff0"/><path d="M276.75 491.08h30.75v49.11h-30.75z" fill="#dfff20"/><path d="M307.5 491.08h15.38v49.11h-15.38z" fill="#9fff60"/><path d="M322.88 491.08h30.75v49.11h-30.75z" fill="#dfff20"/><path d="M353.62 491.08h15.38v49.11h-15.38z" fill="#bfff40"/><path d="M0 540.19h30.75v49.11h-30.75z" fill="#bfff40"/><path d="M30.75 540.19h15.38v49.11h-15.38z" fill="#9fff60"/><path d="M46.12 540.19h30.75v49.11h-30.75z" fill="#ff0"/><path d="M76.88 540.19h46.12v49.11h-46.12z" fill="#dfff20"/><path d="M123 540.19h15.38v49.11h-15.38z" fill="#9fff60"/><path d="M138.38 540.19h30.75v49.11h-30.75z" fill="#ff0"/><path d="M169.12 540.19h15.38v49.11h-15.38z" fill="#ffdf00"/><path d="M184.5 540.19h15.38v49.11h-15.38z" fill="#bfff40"/><path d="M199.88 540.19h30.75v49.11h-30.75z" fill="#dfff20"/><path d="M230.62 540.19h30.75v49.11h-30.75z" fill="#bfff40"/><path d="M261.38 540.19h15.38v49.11h-15.38z" fill="#9fff60"/><path d="M276.75 540.19h15.38v49.11h-15.38z" fill="#bfff40"/><path d="M292.12 540.19h15.38v49.11h-15.38z" fill="#9fff60"/><path d="M307.5 540.19h30.75v49.11h-30.75z" fill="#bfff40"/><path d="M338.25 540.19h30.75v49.11h-30.75z" fill="#dfff20"/>
<path class="g" d="M0 0v589.3M15.38 0v589.3M30.75 0v589.3M46.12 0v589.3M61.5 0v589.3M76.88 0v589.3M92.25 0v589.3M107.62 0v589.3M123 0v589.3M138.38 0v589.3M153.75 0v589.3M169.12 0v589.3M184.5 0v589.3M199.88 0v589.3M215.25 0v589.3M230.62 0v589.3M246 0v589.3M261.38 0v589.3M276.75 0v589.3M292.12 0v589.3M307.5 0v589.3M322.88 0v589.3M338.25 0v589.3M353.62 0v589.3M369 0v589.3M0 0h369M0 49.11h369M0 98.22h369M0 147.32h369M0 196.43h369M0 245.54h369M0 294.65h369M0 343.76h369M0 392.87h369M0 441.97h369M0 491.08h369M0 540.19h369M0 589.3h369"/>
<path class="k" d="M-6 49.11h6M-6 98.22h6M-6 147.32h6M-6 196.43h6M-6 245.54h6M-6 294.65h6M-6 343.76h6M-6 392.87h6M-6 441.97h6M-6 491.08h6M-6 540.19h6M-6 589.3h6M0 589.3v6M46.12 589.3v6M92.25 589.3v6M138.38 589.3v6M184.5 589.3v6M230.62 589.3v6M276.75 589.3v6M322.88 589.3v6"/>
</g>
<text class="t" x="1179.5" y="1935.3">NARR</text>
<text class="x" x="995" y="2563.5">0</text>
<text class="x" x="1041.12" y="2563.5">3</text>
<text class="x" x="1087.25" y="2563.5">6</text>
<text class="x" x="1133.38" y="2563.5">9</text>
<text class="x" x="1179.5" y="2563.5">12</text>
<text class="x" x="1225.62" y="2563.5">15</text>
<text class="x" x="1271.75" y="2563.5">18</text>
<text class="x" x="1317.88" y="2563.5">21</text>
<text class="l" x="1178.7" y="2593.8">Local Hour</text>
<g transform="translate(1400.5 1936.9)">
<path d="M0 0h30.75v49.11h-30.75z" fill="#ff4900"/><path d="M30.75 0h46.12v49.11h-46.12z" fill="#ff6000"/><path d="M76.88 0h46.12v49.11h-46.12z" fill="#ff8000"/><path d="M123 0h15.38v49.11h-15.38z" fill="#ff6000"/><path d="M138.38 0h15.38v49.11h-15.38z" fill="#ff4900"/><path d="M153.75 0h76.88v49.11h-76.88z" fill="#ff6000"/><path d="M230.62 0h15.38v49.11h-15.38z" fill="#ff8000"/><path d="M246 0h76.88v49.11h-76.88z" fill="#ff6000"/><path d="M322.88 0h30.75v49.11h-30.75z" fill="#f30"/><path d="M353.62 0h15.38v49.11h-15.38z" fill="#ff4900"/><path d="M0 49.11h30.75v49.11h-30.75z" fill="#ff6000"/><path d="M30.75 49.11h15.38v49.11h-15.38z" fill="#ff8000"/><path d="M46.12 49.11h15.38v49.11h-15.38z" fill="#ff4900"/><path d="M61.5 49.11h76.88v49.11h-76.88z" fill="#ff6000"/><path d="M138.38 49.11h15.38v49.11h-15.38z" fill="#ff4900"/><path d="M153.75 49.11h123v49.11h-123z" fill="#ff6000"/><path d="M276.75 49.11h15.38v49.11h-15.38z" fill="#ff8000"/><path d="M292.12 49.11h46.12v49.11h-46.12z" fill="#ff6000"/><path d="M338.25 49.11h15.38v49.11h-15.38z" fill="#ff8000"/><path d="M353.62 49.11h15.38v49.11h-15.38z" fill="#ff6000"/><path d="M0 98.22h76.88v49.11h-76.88z" fill="#ff6000"/><path d="M76.88 98.22h30.75v49.11h-30.75z" fill="#ff4900"/><path d="M107.62 98.22h15.38v49.11h-15.38z" fill="#ff6000"/><path d="M123 98.22h46.12v49.11h-46.12z" fill="#ff4900"/><path d="M169.12 98.22h92.25v49.11h-92.25z" fill="#ff6000"/><path d="M261.38 98.22h61.5v49.11h-61.5z" fill="#ff4900"/><path d="M322.88 98.22h30.75v49.11h-30.75z" fill="#ff6000"/><path d="M353.62 98.22h15.38v49.11h-15.38z" fill="#ff4900"/><path d="M0 147.32h61.5v49.11h-61.5z" fill="#ff8000"/><path d="M61.5 147.32h15.38v49.11h-15.38z" fill="#ff6000"/><path d="M76.88 147.32h92.25v49.11h-92.25z" fill="#ff8000"/><path d="M169.12 147.32h15.38v49.11h-15.38z" fill="#ff9f00"/><path d="M184.5 147.32h15.38v49.11h-15.38z" fill="#ff8000"/><path d="M199.88 147.32h46.12v49.11h-46.12z" fill="#ff9f00"/><path d="M246 147.32h123v49.11h-123z" fill="#ff8000"/><path d="M0 196.43h30.75v49.11h-30.75z" fill="#ffdf00"/><path d="M30.75 196.43h15.38v49.11h-15.38z" fill="#ff0"/><path d="M46.12 196.43h30.75v49.11h-30.75z" fill="#dfff20"/><path d="M76.88 196.43h61.5v49.11h-61.5z" fill="#ff0"/><path d="M138.38 196.43h15.38v49.11h-15.38z" fill="#ffdf00"/><path d="M153.75 196.43h76.88v49.11h-76.88z" fill="#ff0"/><path d="M230.62 196.43h15.38v49.11h-15.38z" fill="#ffdf00"/><path d="M246 196.43h46.12v49.11h-46.12z" fill="#ff0"/><path d="M292.12 196.43h15.38v49.11h-15.38z" fill="#ffdf00"/><path d="M307.5 196.43h15.38v49.11h-15.38z" fill="#ff9f00"/><path d="M322.88 196.43h15.38v49.11h-15.38z" fill="#ffbf00"/><path d="M338.25 196.43h15.38v49.11h-15.38z" fill="#ffdf00"/><path d="M353.62 196.43h15.38v49.11h-15.38z" fill="#ffbf00"/><path d="M0 245.54h46.12v49.11h-46.12z" fill="#ff0"/><path d="M46.12 245.54h15.38v49.11h-15.38z" fill="#ffdf00"/><path d="M61.5 245.54h30.75v49.11h-30.75z" fill="#ff0"/><path d="M92.25 245.54h30.75v49.11h-30.75z" fill="#dfff20"/><path d="M123 245.54h15.38v49.11h-15.38z" fill="#bfff40"/><path d="M138.38 245.54h46.12v49.11h-46.12z" fill="#dfff20"/><path d="M184.5 245.54h15.38v49.11h-15.38z" fill="#bfff40"/><path d="M199.88 245.54h15.38v49.11h-15.38z" fill="#dfff20"/><path d="M215.25 245.54h15.38v49.11h-15.38z" fill="#ff0"/><path d="M230.62 245.54h15.38v49.11h-15.38z" fill="#ffdf00"/><path d="M246 245.54h30.75v49.11h-30.75z" fill="#dfff20"/><path d="M276.75 245.54h30.75v49.11h-30.75z" fill="#bfff40"/><path d="M307.5 245.54h30.75v49.11h-30.75z" fill="#dfff20"/><path d="M338.25 245.54h30.75v49.11h-30.75z" fill="#ff0"/><path d="M0 294.65h15.38v49.11h-15.38z" fill="#ff0"/><path d="M15.38 294.65h30.75v49.11h-30.75z" fill="#ffdf00"/><path d="M46.12 294.65h15.38v49.11h-15.38z" fill="#ff0"/><path d="M61.5 294.65h30.75v49.11h-30.75z" fill="#ffdf00"/><path d="M92.25 294.65h15.38v49.11h-15.38z" fill="#ffbf00"/><path d="M107.62 294.65h15.38v49.11h-15.38z" fill="#ffdf00"/><path d="M123 294.65h15.38v49.11h-15.38z" fill="#ff0"/><path d="M138.38 294.65h30.75v49.11h-30.75z" fill="#ffdf00"/><path d="M169.12 294.65h61.5v49.11h-61.5z" fill="#ff0"/><path d="M230.62 294.65h15.38v49.11h-15.38z" fill="#ffdf00"/><path d="M246 294.65h30.75v49.11h-30.75z" fill="#ff0"/><path d="M276.75 294.65h61.5v49.11h-61.5z" fill="#dfff20"/><path d="M338.25 294.65h30.75v49.11h-30.75z" fill="#ffdf00"/><path d="M0 343.76h46.12v49.11h-46.12z" fill="#ff6000"/><path d="M46.12 343.76h15.38v49.11h-15.38z" fill="#ff4900"/><path d="M61.5 343.76h46.12v49.11h-46.12z" fill="#ff6000"/><path d="M107.62 343.76h15.38v49.11h-15.38z" fill="#ff8000"/><path d="M123 343.76h30.75v49.11h-30.75z" fill="#ff6000"/><path d="M153.75 343.76h61.5v49.11h-61.5z" fill="#ff8000"/><path d="M215.25 343.76h15.38v49.11h-15.38z" fill="#ff9f00"/><path d="M230.62 343.76h15.38v49.11h-15.38z" fill="#ff8000"/><path d="M246 343.76h15.38v49.11h-15.38z" fill="#ff9f00"/><path d="M261.38 343.76h46.12v49.11h-46.12z" fill="#ff8000"/><path d="M307.5 343.76h30.75v49.11h-30.75z" fill="#ff6000"/><path d="M338.25 343.76h15.38v49.11h-15.38z" fill="#ff4900"/><path d="M353.62 343.76h15.38v49.11h-15.38z" fill="#ff6000"/><path d="M0 392.87h46.12v49.11h-46.12z" fill="#ff6000"/><path d="M46.12 392.87h15.38v49.11h-15.38z" fill="#ff4900"/><path d="M61.5 392.87h92.25v49.11h-92.25z" fill="#ff6000"/><path d="M153.75 392.87h15.38v49.11h-15.38z" fill="#ff4900"/><path d="M169.12 392.87h15.38v49.11h-15.38z" fill="#ff6000"/><path d="M184.5 392.87h15.38v49.11h-15.38z" fill="#ff8000"/><path d="M199.88 392.87h15.38v49.11h-15.38z" fill="#ff6000"/><path d="M215.25 392.87h15.38v49.11h-15.38z" fill="#ff8000"/><path d="M230.62 392.87h107.62v49.11h-107.62z" fill="#ff6000"/><path d="M338.25 392.87h15.38v49.11h-15.38z" fill="#ff4900"/><path d="M353.62 392.87h15.38v49.11h-15.38z" fill="#ff6000"/><path d="M0 441.97h15.38v49.11h-15.38z" fill="#f30"/><path d="M15.38 441.97h30.75v49.11h-30.75z" fill="#ff4900"/><path d="M46.12 441.97h30.75v49.11h-30.75z" fill="#ff6000"/><path d="M76.88 441.97h15.38v49.11h-15.38z" fill="#ff4900"/><path d="M92.25 441.97h123v49.11h-123z" fill="#ff6000"/><path d="M215.25 441.97h30.75v49.11h-30.75z" fill="#ff8000"/><path d="M246 441.97h46.12v49.11h-46.12z" fill="#ff6000"/><path d="M292.12 441.97h15.38v49.11h-15.38z" fill="#ff4900"/><path d="M307.5 441.97h15.38v49.11h-15.38z" fill="#ff6000"/><path d="M322.88 441.97h30.75v49.11h-30.75z" fill="#f30"/><path d="M353.62 441.97h15.38v49.11h-15.38z" fill="#ff4900"/><path d="M0 491.08h30.75v49.11h-30.75z" fill="#ff6000"/><path d="M30.75 491.08h46.12v49.11h-46.12z" fill="#ff4900"/><path d="M76.88 491.08h15.38v49.11h-15.38z" fill="#f30"/><path d="M92.25 491.08h61.5v49.11h-61.5z" fill="#ff4900"/><path d="M153.75 491.08h15.38v49.11h-15.38z" fill="#ff6000"/><path d="M169.12 491.08h30.75v49.11h-30.75z" fill="#ff4900"/><path d="M199.88 491.08h76.88v49.11h-76.88z" fill="#ff6000"/><path d="M276.75 491.08h92.25v49.11h-92.25z" fill="#ff8000"/><path d="M0 540.19h15.38v49.11h-15.38z" fill="#ff6000"/><path d="M15.38 540.19h123v49.11h-123z" fill="#ff8000"/><path d="M138.38 540.19h15.38v49.11h-15.38z" fill="#ff4900"/><path d="M153.75 540.19h15.38v49.11h-15.38z" fill="#ff6000"/><path d="M169.12 540.19h15.38v49.11h-15.38z" fill="#f30"/><path d="M184.5 540.19h15.38v49.11h-15.38z" fill="#ff8000"/><path d="M199.88 540.19h15.38v49.11h-15.38z" fill="#ff9f00"/><path d="M215.25 540.19h30.75v49.11h-30.75z" fill="#ff8000"/><path d="M246 540.19h15.38v49.11h-15.38z" fill="#ff6000"/><path d="M261.38 540.19h61.5v49.11h-61.5z" fill="#ff8000"/><path d="M322.88 540.19h15.38v49.11h-15.38z" fill="#ff6000"/><path d="M338.25 540.19h15.38v49.11h-15.38z" fill="#ff4900"/><path d="M353.62 540.19h15.38v49.11h-15.38z" fill="#ff6000"/>
<path class="g" d="M0 0v589.3M15.38 0v589.3M30.75 0v589.3M46.12 0v589.3M61.5 0v589.3M76.88 0v589.3M92.25 0v589.3M107.62 0v589.3M123 0v589.3M138.38 0v589.3M153.75 0v589.3M169.12 0v589.3M184.5 0v589.3M199.88 0v589.3M215.25 0v589.3M230.62 0v589.3M246 0v589.3M261.38 0v589.3M276.75 0v589.3M292.12 0v589.3M307.5 0v589.3M322.88 0v589.3M338.25 0v589.3M353.62 0v589.3M369 0v589.3M0 0h369M0 49.11h369M0 98.22h369M0 147.32h369M0 196.43h369M0 245.54h369M0 294.65h369M0 343.76h369M0 392.87h369M0 441.97h369M0 491.08h369M0 540.19h369M0 589.3h369"/>
<path class="k" d="M-6 49.11h6M-6 98.22h6M-6 147.32h6M-6 196.43h6M-6 245.54h6M-6 294.65h6M-6 343.76h6M-6 392.87h6M-6 441.97h6M-6 491.08h6M-6 540.19h6M-6 589.3h6M0 589.3v6M46.12 589.3v6M92.25 589.3v6M138.38 589.3v6M184.5 589.3v6M230.62 589.3v6M276.75 589.3v6M322.88 589.3v6"/>
</g>
<text class="t" x="1585" y="1935.3">HRDPS</text>
<text class="x" x="1400.5" y="2563.5">0</text>
<text class="x" x="1446.62" y="2563.5">3</text>
<text class="x" x="1492.75" y="2563.5">6</text>
<text class="x" x="1538.88" y="2563.5">9</text>
<text class="x" x="1585" y="2563.5">12</text>
<text class="x" x="1631.12" y="2563.5">15</text>
<text class="x" x="1677.25" y="2563.5">18</text>
<text class="x" x="1723.38" y="2563.5">21</text>
<text class="l" x="1584.2" y="2593.8">Local Hour</text>
<text class="p" x="17.6" y="37.3">(a)</text>
<text class="p" x="960" y="37.3">(b)</text>
<text class="p" x="17.6" y="1299.5">(c)</text>
<text class="p" x="960" y="1299.5">(d)</text>
<rect x="891.5" y="275.9" width="26" height="884.4" fill="url(#gj)" stroke="#3a3a3a" stroke-width="1"/>
<text class="c" x="925.8" y="1079.56">1.4</text>
<text class="c" x="925.8" y="961.64">1.6</text>
<text class="c" x="925.8" y="843.72">1.8</text>
<text class="c" x="925.8" y="725.8">2</text>
<text class="c" x="925.8" y="607.88">2.2</text>
<text class="c" x="925.8" y="489.96">2.4</text>
<text class="c" x="925.8" y="372.04">2.6</text>
<path class="k" d="M917.5 1071.86h-9M917.5 953.94h-9M917.5 836.02h-9M917.5 718.1h-9M917.5 600.18h-9M917.5 482.26h-9M917.5 364.34h-9"/>
<text class="cl" x="904.5" y="204.5">RMSE</text>
<text class="cl" x="904.5" y="233.2">(m/s)</text>
<rect x="1797.1" y="275.9" width="25.7" height="884.4" fill="url(#gb)" stroke="#3a3a3a" stroke-width="1"/>
<text class="c" x="1831.1" y="1110.32">-1</text>
<text class="c" x="1831.1" y="1033.42">-0.8</text>
<text class="c" x="1831.1" y="956.51">-0.6</text>
<text class="c" x="1831.1" y="879.61">-0.4</text>
<text class="c" x="1831.1" y="802.7">-0.2</text>
<text class="c" x="1831.1" y="725.8">0</text>
<text class="c" x="1831.1" y="648.9">0.2</text>
<text class="c" x="1831.1" y="571.99">0.4</text>
<text class="c" x="1831.1" y="495.09">0.6</text>
<text class="c" x="1831.1" y="418.18">0.8</text>
<text class="c" x="1831.1" y="341.28">1</text>
<path class="k" d="M1822.8 1102.62h-9M1822.8 1025.72h-9M1822.8 948.81h-9M1822.8 871.91h-9M1822.8 795h-9M1822.8 718.1h-9M1822.8 641.2h-9M1822.8 564.29h-9M1822.8 487.39h-9M1822.8 410.48h-9M1822.8 333.58h-9"/>
<text class="cl" x="1809.95" y="204.5">Bias</text>
<text class="cl" x="1809.95" y="233.2">(m/s)</text>
<rect x="891.5" y="1538.2" width="26" height="884.4" fill="url(#gj)" stroke="#3a3a3a" stroke-width="1"/>
<text class="c" x="925.8" y="2356.6">1</text>
<text class="c" x="925.8" y="2209.2">1.2</text>
<text class="c" x="925.8" y="2061.8">1.4</text>
<text class="c" x="925.8" y="1914.4">1.6</text>
<text class="c" x="925.8" y="1767">1.8</text>
<text class="c" x="925.8" y="1619.6">2</text>
<path class="k" d="M917.5 2348.9h-9M917.5 2201.5h-9M917.5 2054.1h-9M917.5 1906.7h-9M917.5 1759.3h-9M917.5 1611.9h-9"/>
<text class="cl" x="904.5" y="1466.8">MAE</text>
<text class="cl" x="904.5" y="1495.5">(m/s)</text>
<rect x="1804.9" y="1538.2" width="25.7" height="884.4" fill="url(#gj)" stroke="#3a3a3a" stroke-width="1"/>
<text class="c" x="1838.9" y="2430.3">0</text>
<text class="c" x="1838.9" y="2341.86">0.1</text>
<text class="c" x="1838.9" y="2253.42">0.2</text>
<text class="c" x="1838.9" y="2164.98">0.3</text>
<text class="c" x="1838.9" y="2076.54">0.4</text>
<text class="c" x="1838.9" y="1988.1">0.5</text>
<text class="c" x="1838.9" y="1899.66">0.6</text>
<text class="c" x="1838.9" y="1811.22">0.7</text>
<text class="c" x="1838.9" y="1722.78">0.8</text>
<text class="c" x="1838.9" y="1634.34">0.9</text>
<text class="c" x="1838.9" y="1545.9">1</text>
<path class="k" d="M1830.6 2334.16h-9M1830.6 2245.72h-9M1830.6 2157.28h-9M1830.6 2068.84h-9M1830.6 1980.4h-9M1830.6 1891.96h-9M1830.6 1803.52h-9M1830.6 1715.08h-9M1830.6 1626.64h-9"/>
<text class="cl" x="1817.75" y="1466.6">R<tspan dy="-12" dx="1" font-size="20px">2</tspan></text>
<text class="cl" x="1817.75" y="1495.5">(-)</text>
</svg></body></html>
